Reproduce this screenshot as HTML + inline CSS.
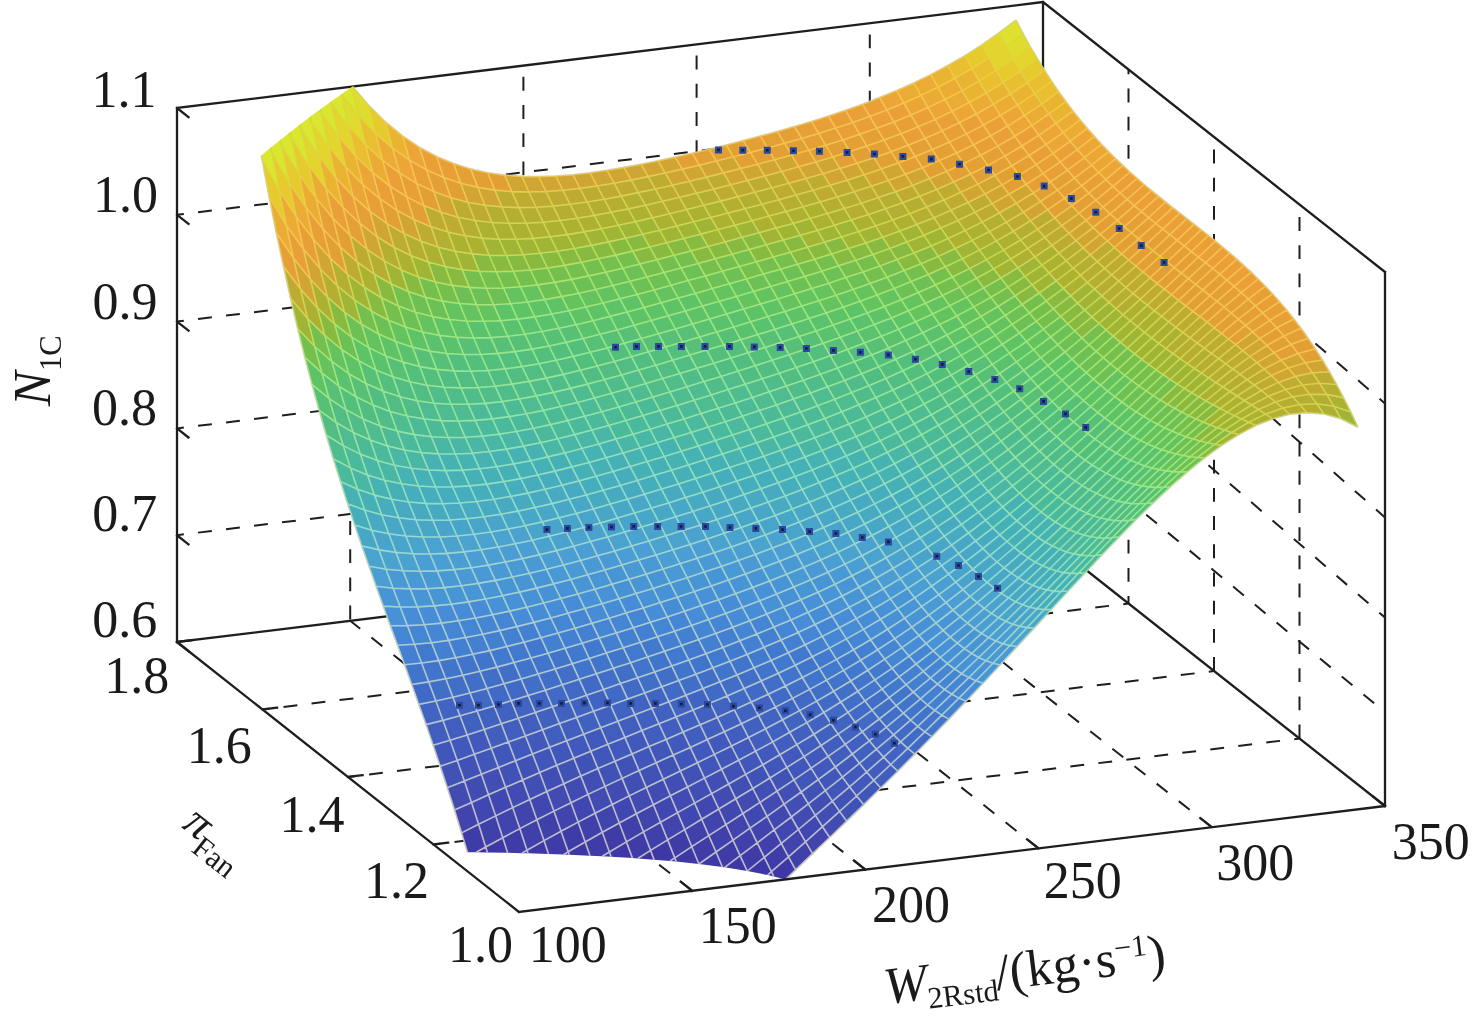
<!DOCTYPE html><html><head><meta charset="utf-8"><style>html,body{margin:0;padding:0;background:#fff;overflow:hidden}svg{display:block}text{font-family:"Liberation Serif",serif;fill:#1a1a1a}</style></head><body>
<svg width="1476" height="1031" viewBox="0 0 1476 1031">
<path fill="none" stroke="#1e1e1e" stroke-width="2" stroke-dasharray="13.9 14.3" stroke-dashoffset="17" d="M350.2 86.8L350.2 620.8M523.4 65.6L523.4 599.6M696.6 44.4L696.6 578.4M869.8 23.2L869.8 557.2"/>
<path fill="none" stroke="#1e1e1e" stroke-width="2" stroke-dasharray="13.9 14.3" stroke-dashoffset="0" d="M692.2 890.8L350.2 620.8M865.4 869.6L523.4 599.6M1038.6 848.4L696.6 578.4M1211.8 827.2L869.8 557.2"/>
<path fill="none" stroke="#1e1e1e" stroke-width="2" stroke-dasharray="13.9 14.3" stroke-dashoffset="0" d="M1299.5 738.5L1299.5 204.5M1214 671L1214 137"/>
<path fill="none" stroke="#1e1e1e" stroke-width="2" stroke-dasharray="13.9 14.3" stroke-dashoffset="6.5" d="M1128.5 603.5L1128.5 69.5"/>
<path fill="none" stroke="#1e1e1e" stroke-width="2" stroke-dasharray="13.9 14.3" stroke-dashoffset="7" d="M433.5 844.5L1299.5 738.5M348 777L1214 671M262.5 709.5L1128.5 603.5"/>
<path fill="none" stroke="#1e1e1e" stroke-width="2" stroke-dasharray="13.9 14.3" stroke-dashoffset="7" d="M177 535.2L1043 429.2M177 428.4L1043 322.4M177 321.6L1043 215.6M177 214.8L1043 108.8"/>
<path fill="none" stroke="#1e1e1e" stroke-width="2" stroke-dasharray="13.9 14.3" stroke-dashoffset="7" d="M1043 429.2L1385 712.3M1043 322.4L1385 617.6M1043 215.6L1385 517.5M1043 108.8L1385 403.5"/>
<path fill="none" stroke="#1e1e1e" stroke-width="2.3" stroke-linecap="square" d="M177 642L177 108M177 108L1043 2M1043 536L1043 2M1043 2L1385 272M1385 272L1385 806M177 642L1043 536M1043 536L1385 806M177 642L188.5 651.1M177 535.2L188.5 544.3M177 428.4L188.5 437.5M177 321.6L188.5 330.7M177 214.8L188.5 223.9M177 108L188.5 117.1"/>
<path fill="#3d34a2" d="M485.7 847 476.3 852.3 487.4 852.4ZM527 850.2 521.9 853.2 528 853.3ZM568.2 851.8 563.6 854.6 569.2 854.8ZM609.4 852 602.3 856.3 611.1 856.8ZM650.6 850.4 637.8 858.5 654.1 859.7ZM674.8 857.9 670.1 861 676.2 861.6ZM771.4 871.7 767.6 875.1 773.8 876.5Z"/>
<path fill="#3f3ca8" d="M485.7 847 478.6 824.3 461.6 832.9 467.4 852.2 476.3 852.3ZM527 850.2 519.8 828.6 502.8 837.7 507.6 852.8 521.9 853.2ZM568.2 851.8 561 831.2 544 840.6 548.5 854 563.6 854.6ZM578.1 822.1 561 831.2 568.2 851.8 585.2 842ZM609.4 852 602.3 832.3 585.2 842 590 855.7 602.3 856.3ZM619.3 823 602.3 832.3 609.4 852 626.4 841.9ZM650.6 850.4 643.5 831.9 626.4 841.9 632.4 858.1 637.8 858.5ZM684.7 829.6 667.6 839.9 674.8 857.9 691.8 846.7ZM716 852 708.8 835.6 691.8 846.7 698.9 864 699 864ZM740.1 855.7 733 840.1 716 852 722.4 867 724.7 867.3ZM764.3 857.3 757.2 842.8 740.1 855.7 747.2 871 747.4 871ZM781.3 843.4 764.3 857.3 771.4 871.7 788.5 856.8Z"/>
<path fill="#4144ad" d="M471.5 802.4 454.5 810 461.6 832.9 478.6 824.3ZM512.7 807.6 495.7 815.9 502.8 837.7 519.8 828.6ZM529.8 799.5 512.7 807.6 519.8 828.6 536.9 819.7ZM571 802.7 553.9 811.1 561 831.2 578.1 822.1ZM612.2 804.5 595.1 813.2 602.3 832.3 619.3 823ZM653.4 804.7 636.3 813.8 643.5 831.9 660.5 822.2ZM677.5 812.6 660.5 822.2 667.6 839.9 684.7 829.6ZM718.8 809 701.7 819.3 708.8 835.6 725.9 824.6ZM742.9 813.5 725.9 824.6 733 840.1 750 828.2ZM767.1 816.3 750 828.2 757.2 842.8 774.2 829.9ZM798.4 829.5 781.3 843.4 788.5 856.8 805.5 841.8ZM822.5 826.7 805.5 841.8 812.6 853.7 829.7 837.5Z"/>
<path fill="#414bb2" d="M464.4 781.1 447.3 787.8 454.5 810 471.5 802.4ZM481.4 774.3 464.4 781.1 471.5 802.4 488.5 794.8ZM522.6 779.9 505.6 787.3 512.7 807.6 529.8 799.5ZM563.8 783.8 546.8 791.6 553.9 811.1 571 802.7ZM580.9 776.1 563.8 783.8 571 802.7 588 794.4ZM605 786.4 588 794.4 595.1 813.2 612.2 804.5ZM622.1 778.4 605 786.4 612.2 804.5 629.2 795.9ZM646.3 787.5 629.2 795.9 636.3 813.8 653.4 804.7ZM663.3 779.2 646.3 787.5 653.4 804.7 670.4 795.8ZM687.5 787 670.4 795.8 677.5 812.6 694.6 803.1ZM728.7 784 711.6 793.6 718.8 809 735.8 798.8ZM752.8 788.5 735.8 798.8 742.9 813.5 760 802.4ZM777 791.2 760 802.4 767.1 816.3 784.1 804.2ZM808.3 803.9 791.3 817 798.4 829.5 815.4 815.4ZM839.6 811.4 822.5 826.7 829.7 837.5 846.7 821.2Z"/>
<path fill="#4152b7" d="M457.2 760.4 440.2 766.3 447.3 787.8 464.4 781.1ZM474.3 754.3 457.2 760.4 464.4 781.1 481.4 774.3ZM515.5 760.7 498.5 767.5 505.6 787.3 522.6 779.9ZM532.5 754 515.5 760.7 522.6 779.9 539.7 772.5ZM573.8 758.2 556.7 765.3 563.8 783.8 580.9 776.1ZM590.8 751.2 573.8 758.2 580.9 776.1 597.9 768.6ZM615 761.2 597.9 768.6 605 786.4 622.1 778.4ZM632 753.9 615 761.2 622.1 778.4 639.1 770.6ZM656.2 762.8 639.1 770.6 646.3 787.5 663.3 779.2ZM673.2 755.1 656.2 762.8 663.3 779.2 680.3 771ZM697.4 762.7 680.3 771 687.5 787 704.5 778.1ZM738.6 760.2 721.5 769.2 728.7 784 745.7 774.4ZM762.8 764.7 745.7 774.4 752.8 788.5 769.9 778ZM786.9 767.4 769.9 778 777 791.2 794 779.8ZM818.2 779.6 801.2 792 808.3 803.9 825.3 790.6ZM856.6 796 839.6 811.4 846.7 821.2 863.8 804.7ZM849.5 786.8 832.5 801.2 839.6 811.4 856.6 796Z"/>
<path fill="#4156ba" d="M450.1 740.2 433.1 745.2 440.2 766.3 457.2 760.4ZM491.3 748.2 474.3 754.3 481.4 774.3 498.5 767.5ZM508.4 742.1 491.3 748.2 498.5 767.5 515.5 760.7ZM549.6 747.3 532.5 754 539.7 772.5 556.7 765.3ZM566.6 740.7 549.6 747.3 556.7 765.3 573.8 758.2ZM607.8 744.3 590.8 751.2 597.9 768.6 615 761.2ZM649 746.6 632 753.9 639.1 770.6 656.2 762.8ZM666.1 739.4 649 746.6 656.2 762.8 673.2 755.1ZM690.3 747.4 673.2 755.1 680.3 771 697.4 762.7ZM714.4 754.4 697.4 762.7 704.5 778.1 721.5 769.2ZM731.5 746 714.4 754.4 721.5 769.2 738.6 760.2ZM755.6 751.1 738.6 760.2 745.7 774.4 762.8 764.7ZM779.8 754.7 762.8 764.7 769.9 778 786.9 767.4ZM811.1 768.2 794 779.8 801.2 792 818.2 779.6ZM804 756.6 786.9 767.4 794 779.8 811.1 768.2ZM842.4 777.1 825.3 790.6 832.5 801.2 849.5 786.8ZM835.3 767 818.2 779.6 825.3 790.6 842.4 777.1ZM873.7 780.3 856.6 796 863.8 804.7 880.8 788Z"/>
<path fill="#415dbe" d="M443 720.4 426 724.6 433.1 745.2 450.1 740.2ZM460 715.8 443 720.4 450.1 740.2 467.2 734.9ZM501.3 723.8 484.2 729.4 491.3 748.2 508.4 742.1ZM518.3 718.2 501.3 723.8 508.4 742.1 525.4 735.9ZM535.3 712.5 518.3 718.2 525.4 735.9 542.5 729.7ZM559.5 723.6 542.5 729.7 549.6 747.3 566.6 740.7ZM576.5 717.4 559.5 723.6 566.6 740.7 583.7 734.2ZM617.8 721.2 600.7 727.7 607.8 744.3 624.9 737.4ZM634.8 714.7 617.8 721.2 624.9 737.4 641.9 730.6ZM659 723.8 641.9 730.6 649 746.6 666.1 739.4ZM676 716.9 659 723.8 666.1 739.4 683.1 732.1ZM700.2 724.8 683.1 732.1 690.3 747.4 707.3 739.6ZM717.2 717.4 700.2 724.8 707.3 739.6 724.3 731.7ZM741.4 723.7 724.3 731.7 731.5 746 748.5 737.5ZM765.5 728.8 748.5 737.5 755.6 751.1 772.7 741.9ZM789.7 732.3 772.7 741.9 779.8 754.7 796.8 744.6ZM813.9 734.2 796.8 744.6 804 756.6 821 745.5ZM845.2 744.3 828.1 756.4 835.3 767 852.3 754ZM838.1 734.1 821 745.5 828.1 756.4 845.2 744.3ZM890.7 764.5 873.7 780.3 880.8 788 897.8 771.2ZM883.6 757.1 866.6 772.1 873.7 780.3 890.7 764.5ZM876.5 749.2 859.4 763.3 866.6 772.1 883.6 757.1Z"/>
<path fill="#4164c3" d="M435.9 701 418.8 704.4 426 724.6 443 720.4ZM452.9 697.2 435.9 701 443 720.4 460 715.8ZM470 693 452.9 697.2 460 715.8 477.1 711ZM528.2 695.6 511.2 700.8 518.3 718.2 535.3 712.5ZM545.3 690.2 528.2 695.6 535.3 712.5 552.4 706.7ZM586.5 695.2 569.4 701 576.5 717.4 593.6 711.3ZM603.5 689.4 586.5 695.2 593.6 711.3 610.6 705.2ZM627.7 699.1 610.6 705.2 617.8 721.2 634.8 714.7ZM644.7 693 627.7 699.1 634.8 714.7 651.8 708.3ZM661.8 686.8 644.7 693 651.8 708.3 668.9 701.8ZM685.9 695.3 668.9 701.8 676 716.9 693 710ZM703 688.6 685.9 695.3 693 710 710.1 703ZM727.1 695.9 710.1 703 717.2 717.4 734.3 709.8ZM751.3 702.1 734.3 709.8 741.4 723.7 758.4 715.5ZM775.5 707.1 758.4 715.5 765.5 728.8 782.6 719.8ZM768.3 694.2 751.3 702.1 758.4 715.5 775.5 707.1ZM799.6 710.6 782.6 719.8 789.7 732.3 806.8 722.6ZM792.5 698.4 775.5 707.1 782.6 719.8 799.6 710.6ZM823.8 712.5 806.8 722.6 813.9 734.2 830.9 723.5ZM816.7 701.1 799.6 710.6 806.8 722.6 823.8 712.5ZM855.1 722.3 838.1 734.1 845.2 744.3 862.2 731.8ZM848 712.4 830.9 723.5 838.1 734.1 855.1 722.3ZM907.8 748.3 890.7 764.5 897.8 771.2 914.9 754.1ZM900.6 741.9 883.6 757.1 890.7 764.5 907.8 748.3ZM893.5 734.8 876.5 749.2 883.6 757.1 900.6 741.9ZM886.4 727.2 869.3 740.8 876.5 749.2 893.5 734.8ZM879.3 719 862.2 731.8 869.3 740.8 886.4 727.2Z"/>
<path fill="#416ac6" d="M428.7 681.9 411.7 684.5 418.8 704.4 435.9 701ZM487 688.5 470 693 477.1 711 494.1 706ZM504 683.8 487 688.5 494.1 706 511.2 700.8ZM521.1 679 504 683.8 511.2 700.8 528.2 695.6ZM562.3 684.8 545.3 690.2 552.4 706.7 569.4 701ZM579.3 679.3 562.3 684.8 569.4 701 586.5 695.2ZM596.4 673.8 579.3 679.3 586.5 695.2 603.5 689.4ZM620.5 683.6 603.5 689.4 610.6 705.2 627.7 699.1ZM637.6 677.8 620.5 683.6 627.7 699.1 644.7 693ZM678.8 680.6 661.8 686.8 668.9 701.8 685.9 695.3ZM720 681.8 703 688.6 710.1 703 727.1 695.9ZM744.2 688.6 727.1 695.9 734.3 709.8 751.3 702.1ZM761.2 681 744.2 688.6 751.3 702.1 768.3 694.2ZM785.4 686 768.3 694.2 775.5 707.1 792.5 698.4ZM809.6 689.4 792.5 698.4 799.6 710.6 816.7 701.1ZM840.8 702 823.8 712.5 830.9 723.5 848 712.4ZM833.7 691.2 816.7 701.1 823.8 712.5 840.8 702ZM872.1 710.2 855.1 722.3 862.2 731.8 879.3 719ZM865 700.9 848 712.4 855.1 722.3 872.1 710.2ZM924.8 731.9 907.8 748.3 914.9 754.1 931.9 736.7ZM917.7 726.3 900.6 741.9 907.8 748.3 924.8 731.9ZM910.6 720.1 893.5 734.8 900.6 741.9 917.7 726.3Z"/>
<path fill="#4174cb" d="M421.6 663 404.6 664.8 411.7 684.5 428.7 681.9ZM438.7 660.6 421.6 663 428.7 681.9 445.8 678.8ZM455.7 657.7 438.7 660.6 445.8 678.8 462.8 675.2ZM472.8 654.3 455.7 657.7 462.8 675.2 479.9 671.3ZM489.8 650.6 472.8 654.3 479.9 671.3 496.9 667.1ZM531 658 514 662.6 521.1 679 538.1 674ZM548 653.2 531 658 538.1 674 555.2 668.9ZM565.1 648.3 548 653.2 555.2 668.9 572.2 663.7ZM589.3 658.5 572.2 663.7 579.3 679.3 596.4 673.8ZM606.3 653.1 589.3 658.5 596.4 673.8 613.4 668.3ZM623.3 647.8 606.3 653.1 613.4 668.3 630.5 662.7ZM647.5 657 630.5 662.7 637.6 677.8 654.6 671.9ZM664.5 651.3 647.5 657 654.6 671.9 671.7 665.9ZM688.7 659.9 671.7 665.9 678.8 680.6 695.8 674.2ZM705.8 653.7 688.7 659.9 695.8 674.2 712.9 667.8ZM729.9 661.2 712.9 667.8 720 681.8 737 674.9ZM747 654.4 729.9 661.2 737 674.9 754.1 667.8ZM771.1 660.4 754.1 667.8 761.2 681 778.3 673.3ZM795.3 665.2 778.3 673.3 785.4 686 802.4 677.5ZM819.5 668.6 802.4 677.5 809.6 689.4 826.6 680.1ZM812.3 656.8 795.3 665.2 802.4 677.5 819.5 668.6ZM843.6 670.4 826.6 680.1 833.7 691.2 850.8 681ZM874.9 679.9 857.9 691.2 865 700.9 882.1 689.1ZM867.8 670.3 850.8 681 857.9 691.2 874.9 679.9ZM941.8 715.1 924.8 731.9 931.9 736.7 949 719.1ZM934.7 710.4 917.7 726.3 924.8 731.9 941.8 715.1ZM927.6 705 910.6 720.1 917.7 726.3 934.7 710.4ZM920.5 698.9 903.4 713.2 910.6 720.1 927.6 705ZM913.3 692.1 896.3 705.7 903.4 713.2 920.5 698.9ZM906.2 684.7 889.2 697.7 896.3 705.7 913.3 692.1Z"/>
<path fill="#4380d1" d="M414.5 644.3 397.5 645.2 404.6 664.8 421.6 663ZM448.6 640.4 431.5 642.7 438.7 660.6 455.7 657.7ZM465.6 637.5 448.6 640.4 455.7 657.7 472.8 654.3ZM482.7 634.2 465.6 637.5 472.8 654.3 489.8 650.6ZM499.7 630.6 482.7 634.2 489.8 650.6 506.8 646.5ZM516.8 626.6 499.7 630.6 506.8 646.5 523.9 642.2ZM533.8 622.4 516.8 626.6 523.9 642.2 540.9 637.7ZM558 633 540.9 637.7 548 653.2 565.1 648.3ZM575 628.2 558 633 565.1 648.3 582.1 643.2ZM592 623.3 575 628.2 582.1 643.2 599.2 638.1ZM616.2 632.9 599.2 638.1 606.3 653.1 623.3 647.8ZM633.3 627.7 616.2 632.9 623.3 647.8 640.4 642.3ZM650.3 622.3 633.3 627.7 640.4 642.3 657.4 636.8ZM674.5 631.2 657.4 636.8 664.5 651.3 681.6 645.5ZM691.5 625.4 674.5 631.2 681.6 645.5 698.6 639.6ZM715.7 633.5 698.6 639.6 705.8 653.7 722.8 647.4ZM732.7 627.2 715.7 633.5 722.8 647.4 739.8 640.8ZM756.9 634.1 739.8 640.8 747 654.4 764 647.3ZM773.9 627.1 756.9 634.1 764 647.3 781.1 640ZM798.1 632.4 781.1 640 788.2 652.7 805.2 644.8ZM822.3 636.4 805.2 644.8 812.3 656.8 829.4 648.1ZM846.4 638.9 829.4 648.1 836.5 659.4 853.6 649.8ZM877.7 649.7 860.7 660.3 867.8 670.3 884.8 659.2ZM870.6 639.7 853.6 649.8 860.7 660.3 877.7 649.7ZM958.9 698.1 941.8 715.1 949 719.1 966 701.3ZM951.8 694.2 934.7 710.4 941.8 715.1 958.9 698.1ZM944.6 689.5 927.6 705 934.7 710.4 951.8 694.2ZM937.5 684.1 920.5 698.9 927.6 705 944.6 689.5ZM930.4 678.1 913.3 692.1 920.5 698.9 937.5 684.1ZM923.3 671.3 906.2 684.7 913.3 692.1 930.4 678.1ZM916.1 664 899.1 676.8 906.2 684.7 923.3 671.3ZM909 656.1 892 668.3 899.1 676.8 916.1 664Z"/>
<path fill="#4486d4" d="M407.4 625.6 390.3 625.7 397.5 645.2 414.5 644.3ZM424.4 624.7 407.4 625.6 414.5 644.3 431.5 642.7ZM441.5 623.1 424.4 624.7 431.5 642.7 448.6 640.4ZM458.5 620.8 441.5 623.1 448.6 640.4 465.6 637.5ZM475.5 618 458.5 620.8 465.6 637.5 482.7 634.2ZM492.6 614.8 475.5 618 482.7 634.2 499.7 630.6ZM509.6 611.1 492.6 614.8 499.7 630.6 516.8 626.6ZM550.8 617.9 533.8 622.4 540.9 637.7 558 633ZM567.9 613.3 550.8 617.9 558 633 575 628.2ZM584.9 608.6 567.9 613.3 575 628.2 592 623.3ZM609.1 618.3 592 623.3 599.2 638.1 616.2 632.9ZM626.1 613.1 609.1 618.3 616.2 632.9 633.3 627.7ZM643.2 607.9 626.1 613.1 633.3 627.7 650.3 622.3ZM667.3 616.9 650.3 622.3 657.4 636.8 674.5 631.2ZM684.4 611.3 667.3 616.9 674.5 631.2 691.5 625.4ZM708.5 619.6 691.5 625.4 698.6 639.6 715.7 633.5ZM725.6 613.5 708.5 619.6 715.7 633.5 732.7 627.2ZM749.8 620.8 732.7 627.2 739.8 640.8 756.9 634.1ZM766.8 614.1 749.8 620.8 756.9 634.1 773.9 627.1ZM791 619.9 773.9 627.1 781.1 640 798.1 632.4ZM815.1 624.5 798.1 632.4 805.2 644.8 822.3 636.4ZM839.3 627.7 822.3 636.4 829.4 648.1 846.4 638.9ZM832.2 616.2 815.1 624.5 822.3 636.4 839.3 627.7ZM863.5 629.4 846.4 638.9 853.6 649.8 870.6 639.7ZM901.9 647.7 884.8 659.2 892 668.3 909 656.1ZM894.8 638.7 877.7 649.7 884.8 659.2 901.9 647.7ZM887.6 629.2 870.6 639.7 877.7 649.7 894.8 638.7ZM968.8 677.6 951.8 694.2 958.9 698.1 975.9 680.8ZM961.7 673.7 944.6 689.5 951.8 694.2 968.8 677.6ZM954.6 669 937.5 684.1 944.6 689.5 961.7 673.7ZM947.4 663.6 930.4 678.1 937.5 684.1 954.6 669ZM940.3 657.5 923.3 671.3 930.4 678.1 947.4 663.6ZM933.2 650.8 916.1 664 923.3 671.3 940.3 657.5ZM926.1 643.5 909 656.1 916.1 664 933.2 650.8Z"/>
<path fill="#4791d6" d="M400.2 607 383.2 606.1 390.3 625.7 407.4 625.6ZM502.5 595.7 485.5 599 492.6 614.8 509.6 611.1ZM519.5 592.1 502.5 595.7 509.6 611.1 526.7 607.2ZM536.6 588.1 519.5 592.1 526.7 607.2 543.7 603ZM553.6 583.9 536.6 588.1 543.7 603 560.8 598.5ZM570.7 579.4 553.6 583.9 560.8 598.5 577.8 593.9ZM594.8 589.2 577.8 593.9 584.9 608.6 602 603.7ZM611.9 584.3 594.8 589.2 602 603.7 619 598.7ZM628.9 579.3 611.9 584.3 619 598.7 636 593.6ZM653.1 588.4 636 593.6 643.2 607.9 660.2 602.6ZM670.1 583.1 653.1 588.4 660.2 602.6 677.3 597.2ZM694.3 591.6 677.3 597.2 684.4 611.3 701.4 605.6ZM711.3 586 694.3 591.6 701.4 605.6 718.5 599.8ZM728.4 580.1 711.3 586 718.5 599.8 735.5 593.7ZM752.6 587.5 735.5 593.7 742.6 607.3 759.7 600.8ZM776.7 594.1 759.7 600.8 766.8 614.1 783.8 607.1ZM769.6 581 752.6 587.5 759.7 600.8 776.7 594.1ZM793.8 587.1 776.7 594.1 783.8 607.1 800.9 599.8ZM817.9 592.2 800.9 599.8 808 612.3 825.1 604.3ZM842.1 596 825.1 604.3 832.2 616.2 849.2 607.4ZM866.3 598.3 849.2 607.4 856.3 618.6 873.4 609ZM897.6 608.8 880.5 619.3 887.6 629.2 904.7 618.2ZM890.4 598.9 873.4 609 880.5 619.3 897.6 608.8ZM985.8 660.8 968.8 677.6 975.9 680.8 993 663.3ZM978.7 657.5 961.7 673.7 968.8 677.6 985.8 660.8ZM971.6 653.5 954.6 669 961.7 673.7 978.7 657.5ZM964.5 648.7 947.4 663.6 954.6 669 971.6 653.5ZM957.3 643.2 940.3 657.5 947.4 663.6 964.5 648.7ZM950.2 637.1 933.2 650.8 940.3 657.5 957.3 643.2ZM943.1 630.4 926.1 643.5 933.2 650.8 950.2 637.1ZM936 623 918.9 635.6 926.1 643.5 943.1 630.4ZM928.8 615.1 911.8 627.2 918.9 635.6 936 623Z"/>
<path fill="#4895d5" d="M393.1 588.2 376.1 586.3 383.2 606.1 400.2 607ZM410.2 588.9 393.1 588.2 400.2 607 417.3 606.9ZM427.2 588.7 410.2 588.9 417.3 606.9 434.3 605.9ZM444.3 587.6 427.2 588.7 434.3 605.9 451.4 604.2ZM461.3 585.8 444.3 587.6 451.4 604.2 468.4 601.9ZM478.3 583.4 461.3 585.8 468.4 601.9 485.5 599ZM495.4 580.4 478.3 583.4 485.5 599 502.5 595.7ZM512.4 577 495.4 580.4 502.5 595.7 519.5 592.1ZM529.5 573.3 512.4 577 519.5 592.1 536.6 588.1ZM546.5 569.3 529.5 573.3 536.6 588.1 553.6 583.9ZM587.7 574.8 570.7 579.4 577.8 593.9 594.8 589.2ZM604.8 570 587.7 574.8 594.8 589.2 611.9 584.3ZM621.8 565.1 604.8 570 611.9 584.3 628.9 579.3ZM646 574.2 628.9 579.3 636 593.6 653.1 588.4ZM663 569 646 574.2 653.1 588.4 670.1 583.1ZM687.2 577.7 670.1 583.1 677.3 597.2 694.3 591.6ZM704.2 572.1 687.2 577.7 694.3 591.6 711.3 586ZM721.3 566.4 704.2 572.1 711.3 586 728.4 580.1ZM745.4 574.1 728.4 580.1 735.5 593.7 752.6 587.5ZM762.5 567.8 745.4 574.1 752.6 587.5 769.6 581ZM786.6 574.3 769.6 581 776.7 594.1 793.8 587.1ZM810.8 579.8 793.8 587.1 800.9 599.8 817.9 592.2ZM835 584.2 817.9 592.2 825.1 604.3 842.1 596ZM827.8 572.2 810.8 579.8 817.9 592.2 835 584.2ZM859.1 587.2 842.1 596 849.2 607.4 866.3 598.3ZM852 575.8 835 584.2 842.1 596 859.1 587.2ZM883.3 588.7 866.3 598.3 873.4 609 890.4 598.9ZM993 663.3 975.9 680.8 983.1 683.2 1000.1 665ZM921.7 606.7 904.7 618.2 911.8 627.2 928.8 615.1ZM914.6 597.8 897.6 608.8 904.7 618.2 921.7 606.7ZM907.5 588.4 890.4 598.9 897.6 608.8 914.6 597.8ZM988.6 637.6 971.6 653.5 978.7 657.5 995.8 641ZM981.5 633.4 964.5 648.7 971.6 653.5 988.6 637.6ZM974.4 628.5 957.3 643.2 964.5 648.7 981.5 633.4ZM967.3 623 950.2 637.1 957.3 643.2 974.4 628.5ZM960.1 616.8 943.1 630.4 950.2 637.1 967.3 623ZM953 610 936 623 943.1 630.4 960.1 616.8Z"/>
<path fill="#4a9ed3" d="M386 569.2 369 566.3 376.1 586.3 393.1 588.2ZM430 554 413 553.8 420.1 571.3 437.1 570.9ZM447 553.4 430 554 437.1 570.9 454.2 569.6ZM464.1 551.9 447 553.4 454.2 569.6 471.2 567.7ZM481.1 549.8 464.1 551.9 471.2 567.7 488.3 565.1ZM498.2 547 481.1 549.8 488.3 565.1 505.3 562ZM515.2 543.8 498.2 547 505.3 562 522.3 558.6ZM532.3 540.2 515.2 543.8 522.3 558.6 539.4 554.7ZM556.4 550.6 539.4 554.7 546.5 569.3 563.5 565ZM573.5 546.2 556.4 550.6 563.5 565 580.6 560.5ZM590.5 541.6 573.5 546.2 580.6 560.5 597.6 555.8ZM607.5 536.9 590.5 541.6 597.6 555.8 614.7 551ZM631.7 546.1 614.7 551 621.8 565.1 638.8 560.1ZM648.8 541 631.7 546.1 638.8 560.1 655.9 555ZM672.9 549.8 655.9 555 663 569 680 563.7ZM690 544.4 672.9 549.8 680 563.7 697.1 558.3ZM707 538.9 690 544.4 697.1 558.3 714.1 552.7ZM731.2 546.9 714.1 552.7 721.3 566.4 738.3 560.5ZM748.2 541 731.2 546.9 738.3 560.5 755.3 554.4ZM772.4 548.1 755.3 554.4 762.5 567.8 779.5 561.3ZM789.4 541.6 772.4 548.1 779.5 561.3 796.6 554.5ZM813.6 547.4 796.6 554.5 803.7 567.3 820.7 559.9ZM837.8 552.2 820.7 559.9 827.8 572.2 844.9 564.1ZM861.9 555.7 844.9 564.1 852 575.8 869.1 567ZM893.2 568.3 876.2 578 883.3 588.7 900.3 578.6ZM886.1 557.7 869.1 567 876.2 578 893.2 568.3ZM924.5 577.3 907.5 588.4 914.6 597.8 931.6 586.2ZM917.4 567.9 900.3 578.6 907.5 588.4 924.5 577.3ZM910.3 558.1 893.2 568.3 900.3 578.6 917.4 567.9ZM1012.8 624.2 995.8 641 1002.9 643.7 1019.9 626.3ZM1005.7 621.3 988.6 637.6 995.8 641 1012.8 624.2ZM998.6 617.7 981.5 633.4 988.6 637.6 1005.7 621.3ZM991.4 613.4 974.4 628.5 981.5 633.4 998.6 617.7ZM984.3 608.4 967.3 623 974.4 628.5 991.4 613.4ZM977.2 602.7 960.1 616.8 967.3 623 984.3 608.4ZM970.1 596.5 953 610 960.1 616.8 977.2 602.7ZM962.9 589.6 945.9 602.6 953 610 970.1 596.5ZM955.8 582.2 938.8 594.7 945.9 602.6 962.9 589.6ZM948.7 574.2 931.6 586.2 938.8 594.7 955.8 582.2Z"/>
<path fill="#4aa2cf" d="M378.9 549.9 361.8 545.9 369 566.3 386 569.2ZM395.9 552.4 378.9 549.9 386 569.2 403 570.8ZM413 553.8 395.9 552.4 403 570.8 420.1 571.3ZM439.9 537 422.9 537 430 554 447 553.4ZM457 536 439.9 537 447 553.4 464.1 551.9ZM474 534.3 457 536 464.1 551.9 481.1 549.8ZM491 532 474 534.3 481.1 549.8 498.2 547ZM508.1 529 491 532 498.2 547 515.2 543.8ZM525.1 525.7 508.1 529 515.2 543.8 532.3 540.2ZM549.3 536.2 532.3 540.2 539.4 554.7 556.4 550.6ZM566.3 532 549.3 536.2 556.4 550.6 573.5 546.2ZM583.4 527.5 566.3 532 573.5 546.2 590.5 541.6ZM600.4 522.9 583.4 527.5 590.5 541.6 607.5 536.9ZM624.6 532 607.5 536.9 614.7 551 631.7 546.1ZM641.6 527 624.6 532 631.7 546.1 648.8 541ZM665.8 535.8 648.8 541 655.9 555 672.9 549.8ZM682.8 530.6 665.8 535.8 672.9 549.8 690 544.4ZM699.9 525.2 682.8 530.6 690 544.4 707 538.9ZM724.1 533.3 707 538.9 714.1 552.7 731.2 546.9ZM741.1 527.5 724.1 533.3 731.2 546.9 748.2 541ZM765.3 534.9 748.2 541 755.3 554.4 772.4 548.1ZM782.3 528.5 765.3 534.9 772.4 548.1 789.4 541.6ZM806.5 534.7 789.4 541.6 796.6 554.5 813.6 547.4ZM830.6 540 813.6 547.4 820.7 559.9 837.8 552.2ZM854.8 544 837.8 552.2 844.9 564.1 861.9 555.7ZM847.7 532.2 830.6 540 837.8 552.2 854.8 544ZM879 546.8 861.9 555.7 869.1 567 886.1 557.7ZM871.8 535.5 854.8 544 861.9 555.7 879 546.8ZM903.1 547.9 886.1 557.7 893.2 568.3 910.3 558.1ZM1027.1 627.6 1010 645.5 1017.1 646.6 1034.2 628.1ZM1019.9 626.3 1002.9 643.7 1010 645.5 1027.1 627.6ZM941.6 565.7 924.5 577.3 931.6 586.2 948.7 574.2ZM934.4 556.8 917.4 567.9 924.5 577.3 941.6 565.7ZM1008.5 597.9 991.4 613.4 998.6 617.7 1015.6 601.7ZM1001.3 593.4 984.3 608.4 991.4 613.4 1008.5 597.9ZM994.2 588.2 977.2 602.7 984.3 608.4 1001.3 593.4ZM987.1 582.4 970.1 596.5 977.2 602.7 994.2 588.2ZM980 576 962.9 589.6 970.1 596.5 987.1 582.4ZM972.8 569.1 955.8 582.2 962.9 589.6 980 576Z"/>
<path fill="#48a7c6" d="M371.7 530.2 354.7 525.1 361.8 545.9 378.9 549.9ZM398.7 517.8 381.7 514.7 388.8 533.8 405.8 536ZM415.8 519.7 398.7 517.8 405.8 536 422.9 537ZM432.8 520.3 415.8 519.7 422.9 537 439.9 537ZM518 511.1 501 514.2 508.1 529 525.1 525.7ZM535 507.5 518 511.1 525.1 525.7 542.2 521.9ZM552.1 503.6 535 507.5 542.2 521.9 559.2 517.8ZM569.1 499.3 552.1 503.6 559.2 517.8 576.3 513.4ZM586.2 494.9 569.1 499.3 576.3 513.4 593.3 508.9ZM610.3 504.1 593.3 508.9 600.4 522.9 617.5 518.1ZM627.4 499.2 610.3 504.1 617.5 518.1 634.5 513.1ZM651.5 508.1 634.5 513.1 641.6 527 658.7 521.9ZM644.4 494.2 627.4 499.2 634.5 513.1 651.5 508.1ZM668.6 502.9 651.5 508.1 658.7 521.9 675.7 516.7ZM685.6 497.6 668.6 502.9 675.7 516.7 692.8 511.4ZM709.8 505.9 692.8 511.4 699.9 525.2 716.9 519.6ZM726.8 500.4 709.8 505.9 716.9 519.6 734 514ZM751 508.1 734 514 741.1 527.5 758.1 521.5ZM768.1 502.1 751 508.1 758.1 521.5 775.2 515.4ZM792.2 508.9 775.2 515.4 782.3 528.5 799.3 521.9ZM809.3 502.2 792.2 508.9 799.3 521.9 816.4 515ZM833.4 507.8 816.4 515 823.5 527.6 840.6 520.1ZM857.6 512.2 840.6 520.1 847.7 532.2 864.7 524ZM881.8 515.3 864.7 524 871.8 535.5 888.9 526.5ZM913.1 527.5 896 537.4 903.1 547.9 920.2 537.7ZM905.9 517.1 888.9 526.5 896 537.4 913.1 527.5ZM1044.1 609.6 1027.1 627.6 1034.2 628.1 1051.2 609.5ZM1037 608.8 1019.9 626.3 1027.1 627.6 1044.1 609.6ZM944.3 536.2 927.3 547.5 934.4 556.8 951.5 545.1ZM937.2 526.9 920.2 537.7 927.3 547.5 944.3 536.2ZM1032.6 585.3 1015.6 601.7 1022.7 604.8 1039.8 588ZM1025.5 582 1008.5 597.9 1015.6 601.7 1032.6 585.3ZM1018.4 577.9 1001.3 593.4 1008.5 597.9 1025.5 582ZM1011.3 573.2 994.2 588.2 1001.3 593.4 1018.4 577.9ZM1004.1 567.9 987.1 582.4 994.2 588.2 1011.3 573.2ZM997 562 980 576 987.1 582.4 1004.1 567.9ZM989.9 555.5 972.8 569.1 980 576 997 562ZM982.8 548.5 965.7 561.6 972.8 569.1 989.9 555.5ZM975.6 541 958.6 553.6 965.7 561.6 982.8 548.5ZM968.5 533 951.5 545.1 958.6 553.6 975.6 541Z"/>
<path fill="#46adbc" d="M364.6 510 347.6 503.7 354.7 525.1 371.7 530.2ZM391.6 499.3 374.5 495.1 381.7 514.7 398.7 517.8ZM418.5 486 401.5 483.8 408.6 502 425.7 503.4ZM435.6 487 418.5 486 425.7 503.4 442.7 503.7ZM452.6 486.9 435.6 487 442.7 503.7 459.8 503ZM469.7 485.9 452.6 486.9 459.8 503 476.8 501.5ZM486.7 484.1 469.7 485.9 476.8 501.5 493.8 499.2ZM503.8 481.6 486.7 484.1 493.8 499.2 510.9 496.4ZM520.8 478.6 503.8 481.6 510.9 496.4 527.9 493.1ZM537.8 475 520.8 478.6 527.9 493.1 545 489.3ZM554.9 471.1 537.8 475 545 489.3 562 485.2ZM571.9 466.9 554.9 471.1 562 485.2 579 480.9ZM596.1 476.3 579 480.9 586.2 494.9 603.2 490.2ZM613.1 471.5 596.1 476.3 603.2 490.2 620.3 485.4ZM630.2 466.6 613.1 471.5 620.3 485.4 637.3 480.4ZM654.3 475.3 637.3 480.4 644.4 494.2 661.5 489.1ZM671.4 470.2 654.3 475.3 661.5 489.1 678.5 483.9ZM695.6 478.6 678.5 483.9 685.6 497.6 702.7 492.2ZM712.6 473.1 695.6 478.6 702.7 492.2 719.7 486.8ZM729.6 467.6 712.6 473.1 719.7 486.8 736.8 481.1ZM753.8 475.4 736.8 481.1 743.9 494.6 760.9 488.8ZM770.8 469.4 753.8 475.4 760.9 488.8 778 482.7ZM795 476.4 778 482.7 785.1 495.9 802.1 489.4ZM819.2 482.6 802.1 489.4 809.3 502.2 826.3 495.3ZM836.2 475.6 819.2 482.6 826.3 495.3 843.3 488ZM860.4 480.3 843.3 488 850.5 500.2 867.5 492.2ZM884.6 483.8 867.5 492.2 874.6 503.9 891.7 495.2ZM915.8 496.7 898.8 506.3 905.9 517.1 923 507.1ZM908.7 486 891.7 495.2 898.8 506.3 915.8 496.7ZM1061.1 591.5 1044.1 609.6 1051.2 609.5 1068.3 591ZM1054 591.1 1037 608.8 1044.1 609.6 1061.1 591.5ZM947.1 506.3 930.1 517.2 937.2 526.9 954.3 515.6ZM940 496.6 923 507.1 930.1 517.2 947.1 506.3ZM1056.8 571 1039.8 588 1046.9 589.9 1063.9 572.6ZM1049.7 568.7 1032.6 585.3 1039.8 588 1056.8 571ZM1042.6 565.8 1025.5 582 1032.6 585.3 1049.7 568.7ZM985.6 520.2 968.5 533 975.6 541 992.7 527.8ZM978.4 512.2 961.4 524.5 968.5 533 985.6 520.2ZM971.3 503.7 954.3 515.6 961.4 524.5 978.4 512.2Z"/>
<path fill="#46b2b1" d="M357.5 489.3 340.5 481.6 347.6 503.7 364.6 510ZM384.5 480.2 367.4 474.9 374.5 495.1 391.6 499.3ZM411.4 468.3 394.4 465.2 401.5 483.8 418.5 486ZM438.4 453.9 421.3 452.6 428.5 470 445.5 470.6ZM455.4 454 438.4 453.9 445.5 470.6 462.5 470.1ZM472.5 453.2 455.4 454 462.5 470.1 479.6 468.8ZM489.5 451.5 472.5 453.2 479.6 468.8 496.6 466.7ZM506.5 449.1 489.5 451.5 496.6 466.7 513.7 463.9ZM523.6 446.1 506.5 449.1 513.7 463.9 530.7 460.7ZM540.6 442.7 523.6 446.1 530.7 460.7 547.8 456.9ZM581.8 448.5 564.8 452.9 571.9 466.9 589 462.4ZM598.9 443.9 581.8 448.5 589 462.4 606 457.7ZM615.9 439.1 598.9 443.9 606 457.7 623 452.9ZM640.1 447.9 623 452.9 630.2 466.6 647.2 461.6ZM657.1 442.8 640.1 447.9 647.2 461.6 664.3 456.5ZM681.3 451.3 664.3 456.5 671.4 470.2 688.4 464.9ZM674.2 437.6 657.1 442.8 664.3 456.5 681.3 451.3ZM698.3 446 681.3 451.3 688.4 464.9 705.5 459.5ZM715.4 440.6 698.3 446 705.5 459.5 722.5 454.1ZM739.6 448.5 722.5 454.1 729.6 467.6 746.7 462ZM756.6 442.8 739.6 448.5 746.7 462 763.7 456.2ZM780.8 450.2 763.7 456.2 770.8 469.4 787.9 463.3ZM797.8 444 780.8 450.2 787.9 463.3 804.9 457ZM822 450.4 804.9 457 812.1 469.9 829.1 463ZM846.1 455.9 829.1 463 836.2 475.6 853.3 468.2ZM839 443.5 822 450.4 829.1 463 846.1 455.9ZM870.3 460.5 853.3 468.2 860.4 480.3 877.4 472.2ZM863.2 448.5 846.1 455.9 853.3 468.2 870.3 460.5ZM894.5 463.8 877.4 472.2 884.6 483.8 901.6 475ZM887.3 452.3 870.3 460.5 877.4 472.2 894.5 463.8ZM918.6 465.7 901.6 475 908.7 486 925.8 476.3ZM911.5 454.9 894.5 463.8 901.6 475 918.6 465.7ZM1078.2 573.4 1061.1 591.5 1068.3 591 1085.3 572.7ZM949.9 476.1 932.9 486.6 940 496.6 957.1 485.6ZM942.8 466.2 925.8 476.3 932.9 486.6 949.9 476.1ZM1073.8 553.9 1056.8 571 1063.9 572.6 1081 555.1ZM1066.7 551.9 1049.7 568.7 1056.8 571 1073.8 553.9ZM988.3 491.4 971.3 503.7 978.4 512.2 995.5 499.4ZM981.2 482.9 964.2 494.9 971.3 503.7 988.3 491.4ZM974.1 474.1 957.1 485.6 964.2 494.9 981.2 482.9ZM1055.3 522 1038.2 537.7 1045.3 542.2 1062.4 526.1ZM1048.1 517.2 1031.1 532.6 1038.2 537.7 1055.3 522ZM1041 512 1024 526.9 1031.1 532.6 1048.1 517.2ZM1033.9 506.2 1016.8 520.8 1024 526.9 1041 512ZM1026.8 500 1009.7 514.1 1016.8 520.8 1033.9 506.2ZM1019.6 493.2 1002.6 507 1009.7 514.1 1026.8 500Z"/>
<path fill="#4bb99c" d="M350.4 467.9 333.3 458.8 340.5 481.6 357.5 489.3ZM360.3 454.1 343.2 445.6 350.4 467.9 367.4 474.9ZM387.3 445.9 370.2 440.1 377.3 460.5 394.4 465.2ZM414.2 434.6 397.2 431.1 404.3 450 421.3 452.6ZM431.3 436.7 414.2 434.6 421.3 452.6 438.4 453.9ZM475.3 420.4 458.2 421 465.3 437.3 482.4 436.1ZM492.3 418.9 475.3 420.4 482.4 436.1 499.4 434.1ZM509.3 416.6 492.3 418.9 499.4 434.1 516.5 431.5ZM526.4 413.8 509.3 416.6 516.5 431.5 533.5 428.3ZM550.5 424.6 533.5 428.3 540.6 442.7 557.7 438.8ZM567.6 420.6 550.5 424.6 557.7 438.8 574.7 434.6ZM584.6 416.2 567.6 420.6 574.7 434.6 591.8 430.1ZM601.7 411.7 584.6 416.2 591.8 430.1 608.8 425.4ZM625.8 420.5 608.8 425.4 615.9 439.1 633 434.2ZM642.9 415.6 625.8 420.5 633 434.2 650 429.2ZM659.9 410.5 642.9 415.6 650 429.2 667.1 424.1ZM684.1 418.9 667.1 424.1 674.2 437.6 691.2 432.4ZM701.1 413.6 684.1 418.9 691.2 432.4 708.3 427.1ZM725.3 421.7 708.3 427.1 715.4 440.6 732.4 435.1ZM742.3 416.2 725.3 421.7 732.4 435.1 749.5 429.5ZM766.5 423.8 749.5 429.5 756.6 442.8 773.6 437ZM759.4 410.6 742.3 416.2 749.5 429.5 766.5 423.8ZM783.6 418 766.5 423.8 773.6 437 790.7 431ZM807.7 424.8 790.7 431 797.8 444 814.8 437.7ZM800.6 412 783.6 418 790.7 431 807.7 424.8ZM824.8 418.4 807.7 424.8 814.8 437.7 831.9 431ZM848.9 424.1 831.9 431 839 443.5 856.1 436.4ZM873.1 428.9 856.1 436.4 863.2 448.5 880.2 440.7ZM897.3 432.5 880.2 440.7 887.3 452.3 904.4 443.8ZM890.1 421 873.1 428.9 880.2 440.7 897.3 432.5ZM921.4 434.8 904.4 443.8 911.5 454.9 928.6 445.5ZM1095.2 555.5 1078.2 573.4 1085.3 572.7 1102.3 554.5ZM952.7 445.7 935.7 456 942.8 466.2 959.8 455.5ZM945.6 435.6 928.6 445.5 935.7 456 952.7 445.7ZM1090.9 536.7 1073.8 553.9 1081 555.1 1098 537.7ZM1083.8 535 1066.7 551.9 1073.8 553.9 1090.9 536.7ZM984 453.3 967 465 974.1 474.1 991.1 462.1ZM976.9 444.3 959.8 455.5 967 465 984 453.3ZM1079.4 509.8 1062.4 526.1 1069.5 529.7 1086.6 513.1ZM1072.3 506 1055.3 522 1062.4 526.1 1079.4 509.8ZM1065.2 501.6 1048.1 517.2 1055.3 522 1072.3 506ZM1058.1 496.6 1041 512 1048.1 517.2 1065.2 501.6ZM1050.9 491.2 1033.9 506.2 1041 512 1058.1 496.6ZM1043.8 485.3 1026.8 500 1033.9 506.2 1050.9 491.2ZM1036.7 479 1019.6 493.2 1026.8 500 1043.8 485.3ZM1029.6 472.2 1012.5 486 1019.6 493.2 1036.7 479ZM1022.4 465 1005.4 478.4 1012.5 486 1029.6 472.2ZM1015.3 457.4 998.3 470.4 1005.4 478.4 1022.4 465Z"/>
<path fill="#4ebb90" d="M343.2 445.6 326.2 435 333.3 458.8 350.4 467.9ZM353.2 432.4 336.1 422.5 343.2 445.6 360.3 454.1ZM380.1 425.9 363.1 418.9 370.2 440.1 387.3 445.9ZM407.1 416 390 411.5 397.2 431.1 414.2 434.6ZM434 403.2 417 400.7 424.1 419 441.2 420.6ZM451.1 404.3 434 403.2 441.2 420.6 458.2 421ZM468.1 404.3 451.1 404.3 458.2 421 475.3 420.4ZM536.3 395.9 519.3 399 526.4 413.8 543.4 410.4ZM553.3 392.4 536.3 395.9 543.4 410.4 560.5 406.5ZM570.4 388.4 553.3 392.4 560.5 406.5 577.5 402.4ZM587.4 384.1 570.4 388.4 577.5 402.4 594.5 397.9ZM611.6 393.3 594.5 397.9 601.7 411.7 618.7 406.9ZM628.6 388.5 611.6 393.3 618.7 406.9 635.8 402ZM645.7 383.5 628.6 388.5 635.8 402 652.8 397ZM669.8 391.9 652.8 397 659.9 410.5 677 405.4ZM686.9 386.8 669.8 391.9 677 405.4 694 400.2ZM711.1 394.9 694 400.2 701.1 413.6 718.2 408.3ZM703.9 381.6 686.9 386.8 694 400.2 711.1 394.9ZM728.1 389.6 711.1 394.9 718.2 408.3 735.2 402.9ZM745.1 384.2 728.1 389.6 735.2 402.9 752.3 397.4ZM769.3 391.8 752.3 397.4 759.4 410.6 776.4 404.9ZM786.3 386.1 769.3 391.8 776.4 404.9 793.5 399.1ZM810.5 393 793.5 399.1 800.6 412 817.6 405.8ZM834.7 399.3 817.6 405.8 824.8 418.4 841.8 411.8ZM827.6 386.8 810.5 393 817.6 405.8 834.7 399.3ZM851.7 392.6 834.7 399.3 841.8 411.8 858.8 404.8ZM875.9 397.6 858.8 404.8 866 416.9 883 409.3ZM900.1 401.4 883 409.3 890.1 421 907.2 412.7ZM924.2 404 907.2 412.7 914.3 423.8 931.3 414.8ZM1112.3 537.7 1095.2 555.5 1102.3 554.5 1119.4 536.7ZM955.5 415.4 938.5 425.3 945.6 435.6 962.6 425.3ZM948.4 405.2 931.3 414.8 938.5 425.3 955.5 415.4ZM1115.1 520.5 1098 537.7 1105.1 538.1 1122.2 520.8ZM1107.9 519.6 1090.9 536.7 1098 537.7 1115.1 520.5ZM986.8 423.6 969.8 434.9 976.9 444.3 993.9 432.5ZM979.7 414.4 962.6 425.3 969.8 434.9 986.8 423.6ZM1103.6 496.5 1086.6 513.1 1093.7 515.9 1110.7 499.1ZM1096.5 493.4 1079.4 509.8 1086.6 513.1 1103.6 496.5ZM1089.3 489.7 1072.3 506 1079.4 509.8 1096.5 493.4ZM1082.2 485.6 1065.2 501.6 1072.3 506 1089.3 489.7ZM1046.6 457.9 1029.6 472.2 1036.7 479 1053.7 464.3ZM1039.5 451.1 1022.4 465 1029.6 472.2 1046.6 457.9ZM1032.3 443.9 1015.3 457.4 1022.4 465 1039.5 451.1ZM1025.2 436.4 1008.2 449.5 1015.3 457.4 1032.3 443.9ZM1018.1 428.5 1001.1 441.2 1008.2 449.5 1025.2 436.4Z"/>
<path fill="#51bd83" d="M336.1 422.5 319.1 410.2 326.2 435 343.2 445.6ZM346 409.8 329 398.3 336.1 422.5 353.2 432.4ZM373 405.1 356 396.8 363.1 418.9 380.1 425.9ZM382.9 391.1 365.9 383.5 373 405.1 390 411.5ZM400 396.8 382.9 391.1 390 411.5 407.1 416ZM409.9 381.8 392.8 376.8 400 396.8 417 400.7ZM426.9 385.2 409.9 381.8 417 400.7 434 403.2ZM453.9 370.9 436.8 369.4 444 387.2 461 387.9ZM470.9 371.2 453.9 370.9 461 387.9 478 387.5ZM488 370.5 470.9 371.2 478 387.5 495.1 386.2ZM505 368.9 488 370.5 495.1 386.2 512.1 384.1ZM522 366.6 505 368.9 512.1 384.1 529.2 381.4ZM539.1 363.7 522 366.6 529.2 381.4 546.2 378.1ZM556.1 360.2 539.1 363.7 546.2 378.1 563.3 374.4ZM573.2 356.4 556.1 360.2 563.3 374.4 580.3 370.3ZM597.3 366 580.3 370.3 587.4 384.1 604.5 379.6ZM614.4 361.4 597.3 366 604.5 379.6 621.5 374.9ZM631.4 356.7 614.4 361.4 621.5 374.9 638.6 370.1ZM655.6 365.2 638.6 370.1 645.7 383.5 662.7 378.5ZM648.5 351.8 631.4 356.7 638.6 370.1 655.6 365.2ZM672.6 360.2 655.6 365.2 662.7 378.5 679.8 373.5ZM689.7 355.1 672.6 360.2 679.8 373.5 696.8 368.3ZM713.8 363.2 696.8 368.3 703.9 381.6 721 376.4ZM730.9 358 713.8 363.2 721 376.4 738 371.1ZM755.1 365.7 738 371.1 745.1 384.2 762.2 378.8ZM747.9 352.7 730.9 358 738 371.1 755.1 365.7ZM772.1 360.3 755.1 365.7 762.2 378.8 779.2 373.2ZM796.3 367.5 779.2 373.2 786.3 386.1 803.4 380.3ZM789.1 354.8 772.1 360.3 779.2 373.2 796.3 367.5ZM813.3 361.7 796.3 367.5 803.4 380.3 820.4 374.3ZM837.5 368.1 820.4 374.3 827.6 386.8 844.6 380.4ZM830.3 355.7 813.3 361.7 820.4 374.3 837.5 368.1ZM854.5 361.6 837.5 368.1 844.6 380.4 861.6 373.7ZM878.7 366.7 861.6 373.7 868.8 385.7 885.8 378.4ZM902.8 370.7 885.8 378.4 892.9 390 910 382ZM927 373.6 910 382 917.1 393.1 934.1 384.3ZM1129.3 520.4 1112.3 537.7 1119.4 536.7 1136.4 519.3ZM958.3 385.2 941.3 394.9 948.4 405.2 965.4 395.2ZM951.2 375.1 934.1 384.3 941.3 394.9 958.3 385.2ZM1132.1 503.5 1115.1 520.5 1122.2 520.8 1139.2 503.8ZM1125 502.6 1107.9 519.6 1115.1 520.5 1132.1 503.5ZM989.6 393.9 972.6 404.9 979.7 414.4 996.7 403ZM982.5 384.6 965.4 395.2 972.6 404.9 989.6 393.9ZM1127.8 482.4 1110.7 499.1 1117.8 501.1 1134.9 484.4ZM1120.6 479.9 1103.6 496.5 1110.7 499.1 1127.8 482.4ZM1113.5 476.8 1096.5 493.4 1103.6 496.5 1120.6 479.9ZM1035.1 415.3 1018.1 428.5 1025.2 436.4 1042.3 422.7ZM1028 407.5 1011 420.3 1018.1 428.5 1035.1 415.3ZM1020.9 399.4 1003.8 411.8 1011 420.3 1028 407.5Z"/>
<path fill="#57c076" d="M329 398.3 312 384.3 319.1 410.2 336.1 422.5ZM338.9 386.2 321.9 373 329 398.3 346 409.8ZM365.9 383.5 348.8 373.7 356 396.8 373 405.1ZM375.8 369.9 358.8 360.8 365.9 383.5 382.9 391.1ZM402.8 362.1 385.7 355.9 392.8 376.8 409.9 381.8ZM429.7 351.1 412.7 347.2 419.8 366.6 436.8 369.4ZM446.8 353.5 429.7 351.1 436.8 369.4 453.9 370.9ZM473.7 338 456.7 337.3 463.8 354.5 480.8 354.5ZM490.8 337.6 473.7 338 480.8 354.5 497.9 353.4ZM507.8 336.3 490.8 337.6 497.9 353.4 514.9 351.6ZM524.8 334.2 507.8 336.3 514.9 351.6 532 349.1ZM541.9 331.5 524.8 334.2 532 349.1 549 346ZM558.9 328.3 541.9 331.5 549 346 566 342.4ZM576 324.7 558.9 328.3 566 342.4 583.1 338.5ZM600.1 334.3 583.1 338.5 590.2 352.3 607.3 347.9ZM617.2 329.9 600.1 334.3 607.3 347.9 624.3 343.3ZM634.2 325.3 617.2 329.9 624.3 343.3 641.3 338.6ZM658.4 333.7 641.3 338.6 648.5 351.8 665.5 346.9ZM675.4 328.9 658.4 333.7 665.5 346.9 682.6 342ZM699.6 337 682.6 342 689.7 355.1 706.7 350ZM692.5 324 675.4 328.9 682.6 342 699.6 337ZM716.6 331.9 699.6 337 706.7 350 723.8 344.9ZM733.7 326.9 716.6 331.9 723.8 344.9 740.8 339.8ZM757.8 334.6 740.8 339.8 747.9 352.7 765 347.4ZM774.9 329.3 757.8 334.6 765 347.4 782 342ZM799.1 336.5 782 342 789.1 354.8 806.2 349.1ZM791.9 324 774.9 329.3 782 342 799.1 336.5ZM816.1 330.9 799.1 336.5 806.2 349.1 823.2 343.3ZM840.3 337.3 823.2 343.3 830.3 355.7 847.4 349.5ZM857.3 331.1 840.3 337.3 847.4 349.5 864.4 343ZM881.5 336.3 864.4 343 871.6 354.9 888.6 347.9ZM905.6 340.5 888.6 347.9 895.7 359.3 912.8 351.6ZM929.8 343.5 912.8 351.6 919.9 362.7 936.9 354.2ZM961.1 355.4 944.1 364.7 951.2 375.1 968.2 365.3ZM954 345.3 936.9 354.2 944.1 364.7 961.1 355.4ZM1156.3 487.4 1139.2 503.8 1146.3 503.5 1163.4 487.3ZM1149.1 486.9 1132.1 503.5 1139.2 503.8 1156.3 487.4ZM992.4 364.4 975.3 375.1 982.5 384.6 999.5 373.5ZM985.3 355.1 968.2 365.3 975.3 375.1 992.4 364.4ZM1144.8 465.9 1127.8 482.4 1134.9 484.4 1151.9 468ZM1137.7 463.3 1120.6 479.9 1127.8 482.4 1144.8 465.9ZM1037.9 386.5 1020.9 399.4 1028 407.5 1045.1 394.1ZM1030.8 378.5 1013.8 391 1020.9 399.4 1037.9 386.5ZM1023.7 370.3 1006.6 382.4 1013.8 391 1030.8 378.5ZM1016.6 361.9 999.5 373.5 1006.6 382.4 1023.7 370.3ZM1126.2 432.6 1109.2 448.8 1116.3 453.1 1133.4 436.7ZM1119.1 428 1102.1 444.2 1109.2 448.8 1126.2 432.6ZM1112 423.2 1094.9 439.2 1102.1 444.2 1119.1 428ZM1104.9 418 1087.8 433.7 1094.9 439.2 1112 423.2ZM1097.7 412.5 1080.7 428 1087.8 433.7 1104.9 418ZM1090.6 406.7 1073.6 421.9 1080.7 428 1097.7 412.5ZM1083.5 400.5 1066.4 415.4 1073.6 421.9 1090.6 406.7ZM1076.4 394.1 1059.3 408.6 1066.4 415.4 1083.5 400.5Z"/>
<path fill="#5ec267" d="M321.9 373 304.8 357.1 312 384.3 329 398.3ZM358.8 360.8 341.7 349.5 348.8 373.7 365.9 383.5ZM368.7 347.6 351.6 337.1 358.8 360.8 375.8 369.9ZM395.6 341.6 378.6 334.1 385.7 355.9 402.8 362.1ZM422.6 332 405.5 327 412.7 347.2 429.7 351.1ZM449.5 319.5 432.5 316.6 439.6 335.4 456.7 337.3ZM466.6 321 449.5 319.5 456.7 337.3 473.7 338ZM510.6 303.7 493.5 304.7 500.7 320.7 517.7 319.1ZM527.6 302 510.6 303.7 517.7 319.1 534.8 316.9ZM544.7 299.6 527.6 302 534.8 316.9 551.8 314ZM561.7 296.6 544.7 299.6 551.8 314 568.8 310.7ZM585.9 307 568.8 310.7 576 324.7 593 320.7ZM602.9 303 585.9 307 593 320.7 610.1 316.4ZM620 298.8 602.9 303 610.1 316.4 627.1 312ZM644.1 307.5 627.1 312 634.2 325.3 651.3 320.6ZM637 294.4 620 298.8 627.1 312 644.1 307.5ZM661.2 302.8 644.1 307.5 651.3 320.6 668.3 315.8ZM678.2 298.1 661.2 302.8 668.3 315.8 685.3 311ZM702.4 306.1 685.3 311 692.5 324 709.5 319ZM695.3 293.4 678.2 298.1 685.3 311 702.4 306.1ZM719.4 301.3 702.4 306.1 709.5 319 726.6 314ZM736.5 296.4 719.4 301.3 726.6 314 743.6 309.1ZM760.6 304 743.6 309.1 750.7 321.8 767.8 316.6ZM777.7 298.9 760.6 304 767.8 316.6 784.8 311.4ZM801.8 306.1 784.8 311.4 791.9 324 809 318.5ZM818.9 300.7 801.8 306.1 809 318.5 826 312.9ZM843.1 307.2 826 312.9 833.1 325.1 850.2 319.1ZM860.1 301.2 843.1 307.2 850.2 319.1 867.2 312.9ZM884.3 306.5 867.2 312.9 874.3 324.6 891.4 317.9ZM908.4 310.8 891.4 317.9 898.5 329.2 915.6 321.8ZM932.6 314 915.6 321.8 922.7 332.7 939.7 324.6ZM963.9 326 946.8 335 954 345.3 971 335.9ZM956.8 316 939.7 324.6 946.8 335 963.9 326ZM1173.3 471.6 1156.3 487.4 1163.4 487.3 1180.4 471.9ZM1166.2 470.9 1149.1 486.9 1156.3 487.4 1173.3 471.6ZM995.2 335.3 978.1 345.6 985.3 355.1 1002.3 344.3ZM988.1 326 971 335.9 978.1 345.6 995.2 335.3ZM1169 452 1151.9 468 1159.1 469.6 1176.1 453.9ZM1161.9 449.7 1144.8 465.9 1151.9 468 1169 452ZM1033.6 349.7 1016.6 361.9 1023.7 370.3 1040.7 357.8ZM1026.5 341.5 1009.4 353.2 1016.6 361.9 1033.6 349.7ZM1019.4 333 1002.3 344.3 1009.4 353.2 1026.5 341.5ZM1150.4 420.4 1133.4 436.7 1140.5 440.5 1157.5 424.3ZM1143.3 416.3 1126.2 432.6 1133.4 436.7 1150.4 420.4ZM1136.1 411.8 1119.1 428 1126.2 432.6 1143.3 416.3ZM1129 407.1 1112 423.2 1119.1 428 1136.1 411.8ZM1121.9 402 1104.9 418 1112 423.2 1129 407.1ZM1114.8 396.7 1097.7 412.5 1104.9 418 1121.9 402ZM1107.6 391.1 1090.6 406.7 1097.7 412.5 1114.8 396.7ZM1100.5 385.2 1083.5 400.5 1090.6 406.7 1107.6 391.1ZM1093.4 379.1 1076.4 394.1 1083.5 400.5 1100.5 385.2ZM1086.3 372.7 1069.2 387.3 1076.4 394.1 1093.4 379.1ZM1079.1 366.1 1062.1 380.3 1069.2 387.3 1086.3 372.7ZM1072 359.2 1055 373.1 1062.1 380.3 1079.1 366.1ZM1064.9 352 1047.9 365.5 1055 373.1 1072 359.2Z"/>
<path fill="#75bf4e" d="M314.7 346.5 297.7 328.5 304.8 357.1 321.9 373ZM324.7 335.4 307.6 318.5 314.7 346.5 331.8 361.4ZM371.5 311.2 354.4 299.9 361.5 324.3 378.6 334.1ZM398.4 306 381.4 297.8 388.5 320.2 405.5 327ZM408.3 291.5 391.3 284 398.4 306 415.5 312.2ZM435.3 282 418.3 276.9 425.4 297.2 442.4 301.1ZM452.3 285.4 435.3 282 442.4 301.1 459.5 303.5ZM479.3 271.3 462.3 269.7 469.4 287.4 486.4 288.2ZM496.3 271.8 479.3 271.3 486.4 288.2 503.5 288ZM513.4 271.3 496.3 271.8 503.5 288 520.5 286.8ZM530.4 270 513.4 271.3 520.5 286.8 537.5 284.9ZM547.5 268 530.4 270 537.5 284.9 554.6 282.4ZM564.5 265.4 547.5 268 554.6 282.4 571.6 279.4ZM581.6 262.3 564.5 265.4 571.6 279.4 588.7 275.9ZM598.6 258.8 581.6 262.3 588.7 275.9 605.7 272.2ZM615.6 255.1 598.6 258.8 605.7 272.2 622.8 268.2ZM632.7 251.1 615.6 255.1 622.8 268.2 639.8 264ZM656.8 259.7 639.8 264 646.9 276.9 664 272.5ZM673.9 255.3 656.8 259.7 664 272.5 681 268ZM690.9 250.9 673.9 255.3 681 268 698.1 263.4ZM715.1 258.8 698.1 263.4 705.2 275.9 722.2 271.2ZM732.1 254.2 715.1 258.8 722.2 271.2 739.3 266.5ZM756.3 261.8 739.3 266.5 746.4 279 763.4 274.1ZM749.2 249.5 732.1 254.2 739.3 266.5 756.3 261.8ZM773.3 257 756.3 261.8 763.4 274.1 780.5 269.2ZM790.4 252.2 773.3 257 780.5 269.2 797.5 264.3ZM814.6 259.2 797.5 264.3 804.6 276.4 821.7 271.2ZM831.6 254 814.6 259.2 821.7 271.2 838.7 265.8ZM855.8 260.3 838.7 265.8 845.8 277.6 862.9 271.9ZM879.9 265.9 862.9 271.9 870 283.4 887.1 277.2ZM872.8 254.5 855.8 260.3 862.9 271.9 879.9 265.9ZM897 259.6 879.9 265.9 887.1 277.2 904.1 270.6ZM921.1 263.7 904.1 270.6 911.2 281.6 928.3 274.4ZM952.4 277 935.4 285 942.5 295.4 959.6 287.1ZM945.3 266.8 928.3 274.4 935.4 285 952.4 277ZM976.6 278.3 959.6 287.1 966.7 297.1 983.7 287.9ZM969.5 268.6 952.4 277 959.6 287.1 976.6 278.3ZM1207.4 442.8 1190.4 456.7 1197.5 457.5 1214.5 444.3ZM1200.3 441 1183.2 455.5 1190.4 456.7 1207.4 442.8ZM1007.9 287.1 990.9 297.3 998 306.5 1015 295.9ZM1000.8 278.1 983.7 287.9 990.9 297.3 1007.9 287.1ZM1203.1 422.1 1186 436.7 1193.1 439 1210.2 425ZM1195.9 419 1178.9 434 1186 436.7 1203.1 422.1ZM1188.8 415.6 1171.8 431.1 1178.9 434 1195.9 419ZM1053.4 308.8 1036.4 321.2 1043.5 329.2 1060.6 316.4ZM1046.3 301 1029.3 313 1036.4 321.2 1053.4 308.8ZM1039.2 293 1022.1 304.5 1029.3 313 1046.3 301ZM1170.2 379.5 1153.2 395.6 1160.3 400.1 1177.4 384.1ZM1163.1 374.7 1146.1 390.9 1153.2 395.6 1170.2 379.5ZM1156 369.8 1138.9 385.9 1146.1 390.9 1163.1 374.7ZM1148.9 364.7 1131.8 380.7 1138.9 385.9 1156 369.8ZM1141.7 359.3 1124.7 375.3 1131.8 380.7 1148.9 364.7ZM1134.6 353.8 1117.6 369.7 1124.7 375.3 1141.7 359.3ZM1127.5 348.2 1110.4 363.8 1117.6 369.7 1134.6 353.8ZM1120.4 342.3 1103.3 357.7 1110.4 363.8 1127.5 348.2ZM1113.2 336.2 1096.2 351.3 1103.3 357.7 1120.4 342.3ZM1106.1 330 1089.1 344.8 1096.2 351.3 1113.2 336.2ZM1099 323.5 1081.9 338 1089.1 344.8 1106.1 330Z"/>
<path fill="#a0b535" d="M307.6 318.5 290.6 298.3 297.7 328.5 314.7 346.5ZM354.4 299.9 337.4 285.9 344.5 312.2 361.5 324.3ZM364.3 287.2 347.3 274.2 354.4 299.9 371.5 311.2ZM401.2 269.9 384.2 260.9 391.3 284 408.3 291.5ZM428.2 262.1 411.1 255.7 418.3 276.9 435.3 282ZM455.1 251.2 438.1 247.1 445.2 266.6 462.3 269.7ZM472.2 253.9 455.1 251.2 462.3 269.7 479.3 271.3ZM499.1 239.2 482.1 238.1 489.2 255.2 506.3 255.5ZM516.2 239.3 499.1 239.2 506.3 255.5 523.3 254.8ZM533.2 238.4 516.2 239.3 523.3 254.8 540.3 253.3ZM550.3 236.8 533.2 238.4 540.3 253.3 557.4 251.2ZM567.3 234.6 550.3 236.8 557.4 251.2 574.4 248.5ZM584.3 231.9 567.3 234.6 574.4 248.5 591.5 245.4ZM601.4 228.7 584.3 231.9 591.5 245.4 608.5 241.9ZM618.4 225.3 601.4 228.7 608.5 241.9 625.6 238.2ZM635.5 221.6 618.4 225.3 625.6 238.2 642.6 234.3ZM659.6 230.2 642.6 234.3 649.7 247 666.8 242.8ZM652.5 217.7 635.5 221.6 642.6 234.3 659.6 230.2ZM676.7 226 659.6 230.2 666.8 242.8 683.8 238.4ZM693.7 221.8 676.7 226 683.8 238.4 700.8 234.1ZM717.9 229.6 700.8 234.1 708 246.4 725 241.9ZM710.8 217.5 693.7 221.8 700.8 234.1 717.9 229.6ZM734.9 225.2 717.9 229.6 725 241.9 742.1 237.3ZM752 220.7 734.9 225.2 742.1 237.3 759.1 232.7ZM776.1 228.1 759.1 232.7 766.2 244.8 783.3 240.1ZM793.2 223.4 776.1 228.1 783.3 240.1 800.3 235.3ZM817.3 230.4 800.3 235.3 807.4 247.2 824.5 242.2ZM810.2 218.6 793.2 223.4 800.3 235.3 817.3 230.4ZM834.4 225.3 817.3 230.4 824.5 242.2 841.5 237ZM858.6 231.6 841.5 237 848.6 248.6 865.7 243ZM851.4 220.1 834.4 225.3 841.5 237 858.6 231.6ZM875.6 225.9 858.6 231.6 865.7 243 882.7 237.2ZM899.8 231.1 882.7 237.2 889.8 248.4 906.9 242ZM923.9 235.3 906.9 242 914 252.9 931.1 245.9ZM916.8 224.6 899.8 231.1 906.9 242 923.9 235.3ZM948.1 238.5 931.1 245.9 938.2 256.4 955.2 248.6ZM941 228.1 923.9 235.3 931.1 245.9 948.1 238.5ZM979.4 250.1 962.4 258.7 969.5 268.6 986.5 259.6ZM972.3 240.4 955.2 248.6 962.4 258.7 979.4 250.1ZM1231.6 432.5 1214.5 444.3 1221.6 445.4 1238.7 434.6ZM1010.7 259 993.6 268.9 1000.8 278.1 1017.8 267.8ZM1003.6 250.1 986.5 259.6 993.6 268.9 1010.7 259ZM996.4 240.9 979.4 250.1 986.5 259.6 1003.6 250.1ZM1241.5 419 1224.4 430.1 1231.6 432.5 1248.6 422.3ZM1234.4 415.6 1217.3 427.7 1224.4 430.1 1241.5 419ZM1227.2 412.1 1210.2 425 1217.3 427.7 1234.4 415.6ZM1220.1 408.5 1203.1 422.1 1210.2 425 1227.2 412.1ZM1049.1 273.1 1032.1 284.8 1039.2 293 1056.2 280.9ZM1042 265.1 1024.9 276.4 1032.1 284.8 1049.1 273.1ZM1034.9 256.9 1017.8 267.8 1024.9 276.4 1042 265.1ZM1208.6 377.9 1191.6 392.8 1198.7 396.9 1215.8 382.5ZM1201.5 373.2 1184.5 388.5 1191.6 392.8 1208.6 377.9ZM1194.4 368.5 1177.4 384.1 1184.5 388.5 1201.5 373.2ZM1187.3 363.7 1170.2 379.5 1177.4 384.1 1194.4 368.5ZM1180.1 358.7 1163.1 374.7 1170.2 379.5 1187.3 363.7ZM1173 353.7 1156 369.8 1163.1 374.7 1180.1 358.7ZM1165.9 348.5 1148.9 364.7 1156 369.8 1173 353.7ZM1158.8 343.3 1141.7 359.3 1148.9 364.7 1165.9 348.5ZM1151.6 337.9 1134.6 353.8 1141.7 359.3 1158.8 343.3ZM1144.5 332.3 1127.5 348.2 1134.6 353.8 1151.6 337.9ZM1137.4 326.6 1120.4 342.3 1127.5 348.2 1144.5 332.3ZM1130.3 320.8 1113.2 336.2 1120.4 342.3 1137.4 326.6ZM1123.1 314.8 1106.1 330 1113.2 336.2 1130.3 320.8ZM1116 308.6 1099 323.5 1106.1 330 1123.1 314.8ZM1108.9 302.3 1091.9 316.9 1099 323.5 1116 308.6ZM1101.8 295.8 1084.7 310.1 1091.9 316.9 1108.9 302.3ZM1094.6 289.2 1077.6 303.1 1084.7 310.1 1101.8 295.8ZM1087.5 282.4 1070.5 295.8 1077.6 303.1 1094.6 289.2ZM1350.9 412.1 1333.8 406.2 1340.9 418.8 1358 427.3Z"/>
<path fill="#bdab32" d="M300.5 289 283.5 266.5 290.6 298.3 307.6 318.5ZM357.2 262 340.2 247 347.3 274.2 364.3 287.2ZM367.1 249.5 350.1 235.4 357.2 262 374.3 274.2ZM404 233.5 387 223.6 394.1 247.3 411.1 255.7ZM431 226.8 413.9 219.6 421 241.3 438.1 247.1ZM440.9 212.3 423.8 205.6 431 226.8 448 232.1ZM457.9 217.2 440.9 212.3 448 232.1 465 235.8ZM467.8 202.2 450.8 197.7 457.9 217.2 475 220.5ZM484.9 205.2 467.8 202.2 475 220.5 492 222.5ZM511.8 191.6 494.8 190.1 501.9 206.9 519 207.6ZM528.9 192 511.8 191.6 519 207.6 536 207.2ZM545.9 191.5 528.9 192 536 207.2 553.1 206.1ZM563 190.3 545.9 191.5 553.1 206.1 570.1 204.3ZM580 188.4 563 190.3 570.1 204.3 587.1 202ZM597.1 186 580 188.4 587.1 202 604.2 199.2ZM614.1 183.2 597.1 186 604.2 199.2 621.2 196.1ZM631.1 180.1 614.1 183.2 621.2 196.1 638.3 192.6ZM648.2 176.6 631.1 180.1 638.3 192.6 655.3 189ZM672.3 185.2 655.3 189 662.4 201.3 679.5 197.3ZM665.2 173 648.2 176.6 655.3 189 672.3 185.2ZM689.4 181.2 672.3 185.2 679.5 197.3 696.5 193.2ZM706.4 177.1 689.4 181.2 696.5 193.2 713.6 189.1ZM730.6 184.8 713.6 189.1 720.7 201.1 737.7 196.7ZM723.5 172.9 706.4 177.1 713.6 189.1 730.6 184.8ZM747.6 180.5 730.6 184.8 737.7 196.7 754.8 192.3ZM764.7 176 747.6 180.5 754.8 192.3 771.8 187.8ZM788.8 183.3 771.8 187.8 778.9 199.7 796 195ZM781.7 171.5 764.7 176 771.8 187.8 788.8 183.3ZM805.9 178.5 788.8 183.3 796 195 813 190.3ZM830.1 185.3 813 190.3 820.1 202 837.2 196.9ZM822.9 173.7 805.9 178.5 813 190.3 830.1 185.3ZM847.1 180.2 830.1 185.3 837.2 196.9 854.2 191.7ZM871.3 186.2 854.2 191.7 861.3 203.2 878.4 197.6ZM864.1 174.8 847.1 180.2 854.2 191.7 871.3 186.2ZM888.3 180.5 871.3 186.2 878.4 197.6 895.4 191.7ZM912.5 185.4 895.4 191.7 902.6 202.7 919.6 196.3ZM936.6 189.4 919.6 196.3 926.7 207 943.8 199.9ZM929.5 178.6 912.5 185.4 919.6 196.3 936.6 189.4ZM960.8 192.3 943.8 199.9 950.9 210.3 967.9 202.4ZM953.7 181.9 936.6 189.4 943.8 199.9 960.8 192.3ZM992.1 203.6 975.1 212.3 982.2 222.1 999.2 213ZM985 194 967.9 202.4 975.1 212.3 992.1 203.6ZM1023.4 212.2 1006.4 222.2 1013.5 231.2 1030.5 220.8ZM1016.3 203.3 999.2 213 1006.4 222.2 1023.4 212.2ZM1068.9 233.3 1051.9 245.4 1059 253.2 1076.1 240.7ZM1061.8 225.7 1044.8 237.4 1051.9 245.4 1068.9 233.3ZM1054.7 217.9 1037.6 229.2 1044.8 237.4 1061.8 225.7ZM1047.6 209.8 1030.5 220.8 1037.6 229.2 1054.7 217.9ZM1285.5 389.5 1268.4 396.2 1275.6 402 1292.6 396.8ZM1278.4 382.4 1261.3 390.5 1268.4 396.2 1285.5 389.5ZM1271.2 375.6 1254.2 385 1261.3 390.5 1278.4 382.4ZM1264.1 369 1247.1 379.6 1254.2 385 1271.2 375.6ZM1257 362.7 1239.9 374.2 1247.1 379.6 1264.1 369ZM1249.9 356.6 1232.8 369 1239.9 374.2 1257 362.7ZM1242.7 350.6 1225.7 363.7 1232.8 369 1249.9 356.6ZM1235.6 344.7 1218.6 358.6 1225.7 363.7 1242.7 350.6ZM1228.5 339 1211.4 353.4 1218.6 358.6 1235.6 344.7ZM1221.4 333.3 1204.3 348.2 1211.4 353.4 1228.5 339ZM1214.2 327.8 1197.2 343 1204.3 348.2 1221.4 333.3ZM1207.1 322.2 1190.1 337.8 1197.2 343 1214.2 327.8ZM1200 316.7 1182.9 332.5 1190.1 337.8 1207.1 322.2ZM1192.9 311.3 1175.8 327.2 1182.9 332.5 1200 316.7ZM1185.7 305.8 1168.7 321.8 1175.8 327.2 1192.9 311.3ZM1178.6 300.3 1161.6 316.3 1168.7 321.8 1185.7 305.8ZM1171.5 294.7 1154.4 310.7 1161.6 316.3 1178.6 300.3ZM1164.4 289.2 1147.3 305.1 1154.4 310.7 1171.5 294.7ZM1157.2 283.5 1140.2 299.3 1147.3 305.1 1164.4 289.2ZM1150.1 277.8 1133.1 293.4 1140.2 299.3 1157.2 283.5ZM1143 272 1125.9 287.3 1133.1 293.4 1150.1 277.8ZM1135.9 266 1118.8 281.2 1125.9 287.3 1143 272ZM1128.7 260 1111.7 274.8 1118.8 281.2 1135.9 266ZM1121.6 253.8 1104.6 268.3 1111.7 274.8 1128.7 260ZM1114.5 247.5 1097.4 261.7 1104.6 268.3 1121.6 253.8ZM1107.4 241 1090.3 254.9 1097.4 261.7 1114.5 247.5ZM1302.5 385 1285.5 389.5 1292.6 396.8 1309.6 394.2ZM1295.4 376.4 1278.4 382.4 1285.5 389.5 1302.5 385ZM1319.6 383.3 1302.5 385 1309.6 394.2 1326.7 394.4ZM1312.4 372.7 1295.4 376.4 1302.5 385 1319.6 383.3ZM1329.5 371.8 1312.4 372.7 1319.6 383.3 1336.6 384.5Z"/>
<path fill="#e5a035" d="M293.4 257.9 276.3 232.8 283.5 266.5 300.5 289ZM360 223.5 343 207.4 350.1 235.4 367.1 249.5ZM369.9 211.2 352.9 196.1 360 223.5 377 236.7ZM406.8 196.9 389.8 186 396.9 210.3 413.9 219.6ZM443.7 177.5 426.6 169.9 433.8 191.5 450.8 197.7ZM470.6 168.9 453.6 163.5 460.7 183.3 477.8 187.4ZM760.3 136.1 743.3 140.6 750.4 152.4 767.5 147.9ZM777.4 131.4 760.3 136.1 767.5 147.9 784.5 143.3ZM794.4 126.5 777.4 131.4 784.5 143.3 801.6 138.4ZM818.6 133.4 801.6 138.4 808.7 150.2 825.7 145.2ZM835.6 128 818.6 133.4 825.7 145.2 842.8 139.9ZM859.8 134.3 842.8 139.9 849.9 151.6 866.9 146.1ZM884 140.1 866.9 146.1 874.1 157.7 891.1 151.7ZM876.9 128.3 859.8 134.3 866.9 146.1 884 140.1ZM901 133.7 884 140.1 891.1 151.7 908.1 145.3ZM925.2 138.3 908.1 145.3 915.3 156.6 932.3 149.6ZM949.4 142.1 932.3 149.6 939.4 160.6 956.5 153ZM980.6 155.2 963.6 163.6 970.7 174 987.8 165.4ZM973.5 144.7 956.5 153 963.6 163.6 980.6 155.2ZM1004.8 156.1 987.8 165.4 994.9 175.3 1011.9 165.8ZM997.7 146.1 980.6 155.2 987.8 165.4 1004.8 156.1ZM1043.2 173.4 1026.2 184.2 1033.3 193 1050.4 181.9ZM1036.1 164.6 1019.1 175.1 1026.2 184.2 1043.2 173.4ZM1029 155.5 1011.9 165.8 1019.1 175.1 1036.1 164.6ZM1088.8 193.1 1071.7 205.8 1078.9 213.3 1095.9 200.2ZM1081.6 185.7 1064.6 198.1 1071.7 205.8 1088.8 193.1ZM1074.5 178.1 1057.5 190.2 1064.6 198.1 1081.6 185.7ZM1067.4 170.1 1050.4 181.9 1057.5 190.2 1074.5 178.1ZM1269.7 320.3 1252.6 331.9 1259.8 338.6 1276.8 327.9ZM1262.6 312.9 1245.5 325.4 1252.6 331.9 1269.7 320.3ZM1255.4 305.9 1238.4 319.2 1245.5 325.4 1262.6 312.9ZM1248.3 299.2 1231.3 313.1 1238.4 319.2 1255.4 305.9ZM1241.2 292.7 1224.1 307.1 1231.3 313.1 1248.3 299.2ZM1234.1 286.4 1217 301.3 1224.1 307.1 1241.2 292.7ZM1226.9 280.2 1209.9 295.6 1217 301.3 1234.1 286.4ZM1219.8 274.3 1202.8 289.9 1209.9 295.6 1226.9 280.2ZM1212.7 268.5 1195.6 284.3 1202.8 289.9 1219.8 274.3ZM1205.6 262.7 1188.5 278.7 1195.6 284.3 1212.7 268.5ZM1198.4 257.1 1181.4 273.1 1188.5 278.7 1205.6 262.7ZM1191.3 251.5 1174.3 267.5 1181.4 273.1 1198.4 257.1ZM1184.2 245.9 1167.1 261.9 1174.3 267.5 1191.3 251.5ZM1177.1 240.3 1160 256.3 1167.1 261.9 1184.2 245.9ZM1169.9 234.7 1152.9 250.5 1160 256.3 1177.1 240.3ZM1162.8 229.1 1145.8 244.7 1152.9 250.5 1169.9 234.7ZM1155.7 223.4 1138.6 238.8 1145.8 244.7 1162.8 229.1ZM1148.6 217.6 1131.5 232.8 1138.6 238.8 1155.7 223.4ZM1141.4 211.7 1124.4 226.6 1131.5 232.8 1148.6 217.6ZM1301 328.3 1283.9 336 1291.1 344.5 1308.1 338.3ZM1293.9 319 1276.8 327.9 1283.9 336 1301 328.3Z"/>
<path fill="#ebac35" d="M286.2 225 269.2 197.2 276.3 232.8 293.4 257.9ZM296.2 216.6 279.1 190.1 286.2 225 303.3 248.8ZM306.1 207.6 289 182.5 296.2 216.6 313.2 239.1ZM316 198.1 299 174.2 306.1 207.6 323.1 229ZM325.9 188.2 308.9 165.5 316 198.1 333 218.4ZM382.6 160.4 365.6 144.8 372.7 172.5 389.8 186ZM392.5 148.1 375.5 133.4 382.6 160.4 399.7 173.1ZM913.7 82.9 896.7 90.6 903.8 103 920.9 95.4ZM937.9 87.2 920.9 95.4 928 107.6 945 99.5ZM930.8 74.6 913.7 82.9 920.9 95.4 937.9 87.2ZM962.1 90.7 945 99.5 952.1 111.3 969.2 102.5ZM954.9 78.3 937.9 87.2 945 99.5 962.1 90.7ZM986.2 93 969.2 102.5 976.3 114 993.4 104.4ZM1010.4 94 993.4 104.4 1000.5 115.4 1017.5 105ZM1041.7 104.1 1024.6 115.5 1031.8 125.6 1048.8 114ZM1080.1 119.8 1063.1 132.6 1070.2 141.3 1087.2 128.3ZM1073 110.9 1055.9 123.5 1063.1 132.6 1080.1 119.8Z"/>
<path fill="#e6ca2e" d="M279.1 190.1 262.1 159.4 269.2 197.2 286.2 225ZM289 182.5 272 153.2 279.1 190.1 296.2 216.6ZM299 174.2 281.9 146.3 289 182.5 306.1 207.6ZM308.9 165.5 291.8 138.9 299 174.2 316 198.1ZM385.4 121.8 368.4 105 375.5 133.4 392.5 148.1ZM981.9 44.8 964.9 55.7 972 68.6 989 58ZM1013.2 59.1 996.1 70.5 1003.3 82.5 1020.3 71.1ZM1037.4 58.7 1020.3 71.1 1027.4 82.7 1044.5 70.3Z"/>
<path fill="#dbe631" d="M272 153.2 269.7 148.6 261.4 155.5 262.1 159.4 279.1 190.1ZM271 147.5 269.7 148.6 272 153.2ZM281.9 146.3 279.1 141 271 147.5 272 153.2 289 182.5ZM280.7 139.7 279.1 141 281.9 146.3ZM291.8 138.9 288.8 133.3 280.7 139.7 281.9 146.3 299 174.2ZM290.5 131.9 288.8 133.3 291.8 138.9ZM301.8 130.9 298.7 125.6 290.5 131.9 291.8 138.9 308.9 165.5ZM300.4 124.2 298.7 125.6 301.8 130.9ZM311.7 122.4 308.9 117.8 300.4 124.2 301.8 130.9 318.8 156.2ZM310.5 116.6 308.9 117.8 311.7 122.4ZM321.6 113.5 319.4 110.1 310.5 116.6 311.7 122.4 328.7 146.6ZM320.7 109.1 319.4 110.1 321.6 113.5ZM331.5 104.3 330.2 102.2 320.7 109.1 321.6 113.5 338.6 136.6ZM331 101.6 330.2 102.2 331.5 104.3ZM341.4 94.7 341.2 94.4 331 101.6 331.5 104.3 348.5 126.3ZM341.3 94.3 341.2 94.4 341.4 94.7ZM351.8 87 341.3 94.3 341.4 94.7 358.5 115.7Z"/>
<path fill="#3e38a6" d="M502.8 837.7 485.7 847 487.4 852.4 507.6 852.8ZM544 840.6 527 850.2 528 853.3 548.5 854ZM585.2 842 568.2 851.8 569.2 854.8 590 855.7ZM626.4 841.9 609.4 852 611.1 856.8 632.4 858.1ZM674.8 857.9 667.6 839.9 650.6 850.4 654.1 859.7 670.1 861ZM691.8 846.7 674.8 857.9 676.2 861.6 698.9 864ZM716 852 699 864 722.4 867ZM740.1 855.7 724.7 867.3 747.2 871ZM771.4 871.7 764.3 857.3 747.4 871 767.6 875.1ZM795.6 869.9 788.5 856.8 771.4 871.7 773.8 876.5 785.6 879.4Z"/>
<path fill="#4040ab" d="M495.7 815.9 478.6 824.3 485.7 847 502.8 837.7ZM536.9 819.7 519.8 828.6 527 850.2 544 840.6ZM553.9 811.1 536.9 819.7 544 840.6 561 831.2ZM595.1 813.2 578.1 822.1 585.2 842 602.3 832.3ZM636.3 813.8 619.3 823 626.4 841.9 643.5 831.9ZM660.5 822.2 643.5 831.9 650.6 850.4 667.6 839.9ZM701.7 819.3 684.7 829.6 691.8 846.7 708.8 835.6ZM725.9 824.6 708.8 835.6 716 852 733 840.1ZM750 828.2 733 840.1 740.1 855.7 757.2 842.8ZM774.2 829.9 757.2 842.8 764.3 857.3 781.3 843.4ZM805.5 841.8 788.5 856.8 795.6 869.9 812.6 853.7Z"/>
<path fill="#4147b0" d="M488.5 794.8 471.5 802.4 478.6 824.3 495.7 815.9ZM505.6 787.3 488.5 794.8 495.7 815.9 512.7 807.6ZM546.8 791.6 529.8 799.5 536.9 819.7 553.9 811.1ZM588 794.4 571 802.7 578.1 822.1 595.1 813.2ZM629.2 795.9 612.2 804.5 619.3 823 636.3 813.8ZM670.4 795.8 653.4 804.7 660.5 822.2 677.5 812.6ZM694.6 803.1 677.5 812.6 684.7 829.6 701.7 819.3ZM711.6 793.6 694.6 803.1 701.7 819.3 718.8 809ZM735.8 798.8 718.8 809 725.9 824.6 742.9 813.5ZM760 802.4 742.9 813.5 750 828.2 767.1 816.3ZM791.3 817 774.2 829.9 781.3 843.4 798.4 829.5ZM784.1 804.2 767.1 816.3 774.2 829.9 791.3 817ZM815.4 815.4 798.4 829.5 805.5 841.8 822.5 826.7Z"/>
<path fill="#4159bc" d="M467.2 734.9 450.1 740.2 457.2 760.4 474.3 754.3ZM484.2 729.4 467.2 734.9 474.3 754.3 491.3 748.2ZM525.4 735.9 508.4 742.1 515.5 760.7 532.5 754ZM542.5 729.7 525.4 735.9 532.5 754 549.6 747.3ZM583.7 734.2 566.6 740.7 573.8 758.2 590.8 751.2ZM600.7 727.7 583.7 734.2 590.8 751.2 607.8 744.3ZM624.9 737.4 607.8 744.3 615 761.2 632 753.9ZM641.9 730.6 624.9 737.4 632 753.9 649 746.6ZM683.1 732.1 666.1 739.4 673.2 755.1 690.3 747.4ZM707.3 739.6 690.3 747.4 697.4 762.7 714.4 754.4ZM724.3 731.7 707.3 739.6 714.4 754.4 731.5 746ZM748.5 737.5 731.5 746 738.6 760.2 755.6 751.1ZM772.7 741.9 755.6 751.1 762.8 764.7 779.8 754.7ZM796.8 744.6 779.8 754.7 786.9 767.4 804 756.6ZM828.1 756.4 811.1 768.2 818.2 779.6 835.3 767ZM821 745.5 804 756.6 811.1 768.2 828.1 756.4ZM866.6 772.1 849.5 786.8 856.6 796 873.7 780.3ZM859.4 763.3 842.4 777.1 849.5 786.8 866.6 772.1ZM852.3 754 835.3 767 842.4 777.1 859.4 763.3Z"/>
<path fill="#416fc8" d="M445.8 678.8 428.7 681.9 435.9 701 452.9 697.2ZM462.8 675.2 445.8 678.8 452.9 697.2 470 693ZM479.9 671.3 462.8 675.2 470 693 487 688.5ZM496.9 667.1 479.9 671.3 487 688.5 504 683.8ZM514 662.6 496.9 667.1 504 683.8 521.1 679ZM538.1 674 521.1 679 528.2 695.6 545.3 690.2ZM555.2 668.9 538.1 674 545.3 690.2 562.3 684.8ZM572.2 663.7 555.2 668.9 562.3 684.8 579.3 679.3ZM613.4 668.3 596.4 673.8 603.5 689.4 620.5 683.6ZM630.5 662.7 613.4 668.3 620.5 683.6 637.6 677.8ZM654.6 671.9 637.6 677.8 644.7 693 661.8 686.8ZM671.7 665.9 654.6 671.9 661.8 686.8 678.8 680.6ZM695.8 674.2 678.8 680.6 685.9 695.3 703 688.6ZM712.9 667.8 695.8 674.2 703 688.6 720 681.8ZM737 674.9 720 681.8 727.1 695.9 744.2 688.6ZM754.1 667.8 737 674.9 744.2 688.6 761.2 681ZM778.3 673.3 761.2 681 768.3 694.2 785.4 686ZM802.4 677.5 785.4 686 792.5 698.4 809.6 689.4ZM826.6 680.1 809.6 689.4 816.7 701.1 833.7 691.2ZM857.9 691.2 840.8 702 848 712.4 865 700.9ZM850.8 681 833.7 691.2 840.8 702 857.9 691.2ZM903.4 713.2 886.4 727.2 893.5 734.8 910.6 720.1ZM896.3 705.7 879.3 719 886.4 727.2 903.4 713.2ZM889.2 697.7 872.1 710.2 879.3 719 896.3 705.7ZM882.1 689.1 865 700.9 872.1 710.2 889.2 697.7Z"/>
<path fill="#4179ce" d="M431.5 642.7 414.5 644.3 421.6 663 438.7 660.6ZM506.8 646.5 489.8 650.6 496.9 667.1 514 662.6ZM523.9 642.2 506.8 646.5 514 662.6 531 658ZM540.9 637.7 523.9 642.2 531 658 548 653.2ZM582.1 643.2 565.1 648.3 572.2 663.7 589.3 658.5ZM599.2 638.1 582.1 643.2 589.3 658.5 606.3 653.1ZM640.4 642.3 623.3 647.8 630.5 662.7 647.5 657ZM657.4 636.8 640.4 642.3 647.5 657 664.5 651.3ZM681.6 645.5 664.5 651.3 671.7 665.9 688.7 659.9ZM698.6 639.6 681.6 645.5 688.7 659.9 705.8 653.7ZM722.8 647.4 705.8 653.7 712.9 667.8 729.9 661.2ZM739.8 640.8 722.8 647.4 729.9 661.2 747 654.4ZM764 647.3 747 654.4 754.1 667.8 771.1 660.4ZM788.2 652.7 771.1 660.4 778.3 673.3 795.3 665.2ZM781.1 640 764 647.3 771.1 660.4 788.2 652.7ZM805.2 644.8 788.2 652.7 795.3 665.2 812.3 656.8ZM836.5 659.4 819.5 668.6 826.6 680.1 843.6 670.4ZM829.4 648.1 812.3 656.8 819.5 668.6 836.5 659.4ZM860.7 660.3 843.6 670.4 850.8 681 867.8 670.3ZM853.6 649.8 836.5 659.4 843.6 670.4 860.7 660.3ZM899.1 676.8 882.1 689.1 889.2 697.7 906.2 684.7ZM892 668.3 874.9 679.9 882.1 689.1 899.1 676.8ZM884.8 659.2 867.8 670.3 874.9 679.9 892 668.3Z"/>
<path fill="#468cd7" d="M417.3 606.9 400.2 607 407.4 625.6 424.4 624.7ZM434.3 605.9 417.3 606.9 424.4 624.7 441.5 623.1ZM451.4 604.2 434.3 605.9 441.5 623.1 458.5 620.8ZM468.4 601.9 451.4 604.2 458.5 620.8 475.5 618ZM485.5 599 468.4 601.9 475.5 618 492.6 614.8ZM526.7 607.2 509.6 611.1 516.8 626.6 533.8 622.4ZM543.7 603 526.7 607.2 533.8 622.4 550.8 617.9ZM560.8 598.5 543.7 603 550.8 617.9 567.9 613.3ZM577.8 593.9 560.8 598.5 567.9 613.3 584.9 608.6ZM602 603.7 584.9 608.6 592 623.3 609.1 618.3ZM619 598.7 602 603.7 609.1 618.3 626.1 613.1ZM636 593.6 619 598.7 626.1 613.1 643.2 607.9ZM660.2 602.6 643.2 607.9 650.3 622.3 667.3 616.9ZM677.3 597.2 660.2 602.6 667.3 616.9 684.4 611.3ZM701.4 605.6 684.4 611.3 691.5 625.4 708.5 619.6ZM718.5 599.8 701.4 605.6 708.5 619.6 725.6 613.5ZM742.6 607.3 725.6 613.5 732.7 627.2 749.8 620.8ZM735.5 593.7 718.5 599.8 725.6 613.5 742.6 607.3ZM759.7 600.8 742.6 607.3 749.8 620.8 766.8 614.1ZM783.8 607.1 766.8 614.1 773.9 627.1 791 619.9ZM808 612.3 791 619.9 798.1 632.4 815.1 624.5ZM800.9 599.8 783.8 607.1 791 619.9 808 612.3ZM825.1 604.3 808 612.3 815.1 624.5 832.2 616.2ZM856.3 618.6 839.3 627.7 846.4 638.9 863.5 629.4ZM849.2 607.4 832.2 616.2 839.3 627.7 856.3 618.6ZM880.5 619.3 863.5 629.4 870.6 639.7 887.6 629.2ZM873.4 609 856.3 618.6 863.5 629.4 880.5 619.3ZM975.9 680.8 958.9 698.1 966 701.3 983.1 683.2ZM918.9 635.6 901.9 647.7 909 656.1 926.1 643.5ZM911.8 627.2 894.8 638.7 901.9 647.7 918.9 635.6ZM904.7 618.2 887.6 629.2 894.8 638.7 911.8 627.2Z"/>
<path fill="#4999d4" d="M403 570.8 386 569.2 393.1 588.2 410.2 588.9ZM420.1 571.3 403 570.8 410.2 588.9 427.2 588.7ZM437.1 570.9 420.1 571.3 427.2 588.7 444.3 587.6ZM454.2 569.6 437.1 570.9 444.3 587.6 461.3 585.8ZM471.2 567.7 454.2 569.6 461.3 585.8 478.3 583.4ZM488.3 565.1 471.2 567.7 478.3 583.4 495.4 580.4ZM505.3 562 488.3 565.1 495.4 580.4 512.4 577ZM522.3 558.6 505.3 562 512.4 577 529.5 573.3ZM539.4 554.7 522.3 558.6 529.5 573.3 546.5 569.3ZM563.5 565 546.5 569.3 553.6 583.9 570.7 579.4ZM580.6 560.5 563.5 565 570.7 579.4 587.7 574.8ZM597.6 555.8 580.6 560.5 587.7 574.8 604.8 570ZM614.7 551 597.6 555.8 604.8 570 621.8 565.1ZM638.8 560.1 621.8 565.1 628.9 579.3 646 574.2ZM655.9 555 638.8 560.1 646 574.2 663 569ZM680 563.7 663 569 670.1 583.1 687.2 577.7ZM697.1 558.3 680 563.7 687.2 577.7 704.2 572.1ZM714.1 552.7 697.1 558.3 704.2 572.1 721.3 566.4ZM738.3 560.5 721.3 566.4 728.4 580.1 745.4 574.1ZM755.3 554.4 738.3 560.5 745.4 574.1 762.5 567.8ZM779.5 561.3 762.5 567.8 769.6 581 786.6 574.3ZM803.7 567.3 786.6 574.3 793.8 587.1 810.8 579.8ZM796.6 554.5 779.5 561.3 786.6 574.3 803.7 567.3ZM820.7 559.9 803.7 567.3 810.8 579.8 827.8 572.2ZM844.9 564.1 827.8 572.2 835 584.2 852 575.8ZM876.2 578 859.1 587.2 866.3 598.3 883.3 588.7ZM869.1 567 852 575.8 859.1 587.2 876.2 578ZM900.3 578.6 883.3 588.7 890.4 598.9 907.5 588.4ZM1010 645.5 993 663.3 1000.1 665 1017.1 646.6ZM1002.9 643.7 985.8 660.8 993 663.3 1010 645.5ZM995.8 641 978.7 657.5 985.8 660.8 1002.9 643.7ZM945.9 602.6 928.8 615.1 936 623 953 610ZM938.8 594.7 921.7 606.7 928.8 615.1 945.9 602.6ZM931.6 586.2 914.6 597.8 921.7 606.7 938.8 594.7Z"/>
<path fill="#49a4cb" d="M388.8 533.8 371.7 530.2 378.9 549.9 395.9 552.4ZM405.8 536 388.8 533.8 395.9 552.4 413 553.8ZM422.9 537 405.8 536 413 553.8 430 554ZM449.8 520 432.8 520.3 439.9 537 457 536ZM466.9 518.7 449.8 520 457 536 474 534.3ZM483.9 516.8 466.9 518.7 474 534.3 491 532ZM501 514.2 483.9 516.8 491 532 508.1 529ZM542.2 521.9 525.1 525.7 532.3 540.2 549.3 536.2ZM559.2 517.8 542.2 521.9 549.3 536.2 566.3 532ZM576.3 513.4 559.2 517.8 566.3 532 583.4 527.5ZM593.3 508.9 576.3 513.4 583.4 527.5 600.4 522.9ZM617.5 518.1 600.4 522.9 607.5 536.9 624.6 532ZM634.5 513.1 617.5 518.1 624.6 532 641.6 527ZM658.7 521.9 641.6 527 648.8 541 665.8 535.8ZM675.7 516.7 658.7 521.9 665.8 535.8 682.8 530.6ZM692.8 511.4 675.7 516.7 682.8 530.6 699.9 525.2ZM716.9 519.6 699.9 525.2 707 538.9 724.1 533.3ZM734 514 716.9 519.6 724.1 533.3 741.1 527.5ZM758.1 521.5 741.1 527.5 748.2 541 765.3 534.9ZM775.2 515.4 758.1 521.5 765.3 534.9 782.3 528.5ZM799.3 521.9 782.3 528.5 789.4 541.6 806.5 534.7ZM823.5 527.6 806.5 534.7 813.6 547.4 830.6 540ZM816.4 515 799.3 521.9 806.5 534.7 823.5 527.6ZM840.6 520.1 823.5 527.6 830.6 540 847.7 532.2ZM864.7 524 847.7 532.2 854.8 544 871.8 535.5ZM896 537.4 879 546.8 886.1 557.7 903.1 547.9ZM888.9 526.5 871.8 535.5 879 546.8 896 537.4ZM927.3 547.5 910.3 558.1 917.4 567.9 934.4 556.8ZM920.2 537.7 903.1 547.9 910.3 558.1 927.3 547.5ZM1029.8 607.2 1012.8 624.2 1019.9 626.3 1037 608.8ZM1022.7 604.8 1005.7 621.3 1012.8 624.2 1029.8 607.2ZM1015.6 601.7 998.6 617.7 1005.7 621.3 1022.7 604.8ZM965.7 561.6 948.7 574.2 955.8 582.2 972.8 569.1ZM958.6 553.6 941.6 565.7 948.7 574.2 965.7 561.6ZM951.5 545.1 934.4 556.8 941.6 565.7 958.6 553.6Z"/>
<path fill="#47aac1" d="M381.7 514.7 364.6 510 371.7 530.2 388.8 533.8ZM408.6 502 391.6 499.3 398.7 517.8 415.8 519.7ZM425.7 503.4 408.6 502 415.8 519.7 432.8 520.3ZM442.7 503.7 425.7 503.4 432.8 520.3 449.8 520ZM459.8 503 442.7 503.7 449.8 520 466.9 518.7ZM476.8 501.5 459.8 503 466.9 518.7 483.9 516.8ZM493.8 499.2 476.8 501.5 483.9 516.8 501 514.2ZM510.9 496.4 493.8 499.2 501 514.2 518 511.1ZM527.9 493.1 510.9 496.4 518 511.1 535 507.5ZM545 489.3 527.9 493.1 535 507.5 552.1 503.6ZM562 485.2 545 489.3 552.1 503.6 569.1 499.3ZM579 480.9 562 485.2 569.1 499.3 586.2 494.9ZM603.2 490.2 586.2 494.9 593.3 508.9 610.3 504.1ZM620.3 485.4 603.2 490.2 610.3 504.1 627.4 499.2ZM637.3 480.4 620.3 485.4 627.4 499.2 644.4 494.2ZM661.5 489.1 644.4 494.2 651.5 508.1 668.6 502.9ZM678.5 483.9 661.5 489.1 668.6 502.9 685.6 497.6ZM702.7 492.2 685.6 497.6 692.8 511.4 709.8 505.9ZM719.7 486.8 702.7 492.2 709.8 505.9 726.8 500.4ZM743.9 494.6 726.8 500.4 734 514 751 508.1ZM736.8 481.1 719.7 486.8 726.8 500.4 743.9 494.6ZM760.9 488.8 743.9 494.6 751 508.1 768.1 502.1ZM785.1 495.9 768.1 502.1 775.2 515.4 792.2 508.9ZM778 482.7 760.9 488.8 768.1 502.1 785.1 495.9ZM802.1 489.4 785.1 495.9 792.2 508.9 809.3 502.2ZM826.3 495.3 809.3 502.2 816.4 515 833.4 507.8ZM850.5 500.2 833.4 507.8 840.6 520.1 857.6 512.2ZM843.3 488 826.3 495.3 833.4 507.8 850.5 500.2ZM874.6 503.9 857.6 512.2 864.7 524 881.8 515.3ZM867.5 492.2 850.5 500.2 857.6 512.2 874.6 503.9ZM898.8 506.3 881.8 515.3 888.9 526.5 905.9 517.1ZM891.7 495.2 874.6 503.9 881.8 515.3 898.8 506.3ZM930.1 517.2 913.1 527.5 920.2 537.7 937.2 526.9ZM923 507.1 905.9 517.1 913.1 527.5 930.1 517.2ZM1046.9 589.9 1029.8 607.2 1037 608.8 1054 591.1ZM1039.8 588 1022.7 604.8 1029.8 607.2 1046.9 589.9ZM961.4 524.5 944.3 536.2 951.5 545.1 968.5 533ZM954.3 515.6 937.2 526.9 944.3 536.2 961.4 524.5ZM1035.4 562.2 1018.4 577.9 1025.5 582 1042.6 565.8ZM1028.3 557.9 1011.3 573.2 1018.4 577.9 1035.4 562.2ZM1021.2 553 1004.1 567.9 1011.3 573.2 1028.3 557.9ZM1014.1 547.5 997 562 1004.1 567.9 1021.2 553ZM1006.9 541.5 989.9 555.5 997 562 1014.1 547.5ZM999.8 534.9 982.8 548.5 989.9 555.5 1006.9 541.5ZM992.7 527.8 975.6 541 982.8 548.5 999.8 534.9Z"/>
<path fill="#46b0b7" d="M374.5 495.1 357.5 489.3 364.6 510 381.7 514.7ZM401.5 483.8 384.5 480.2 391.6 499.3 408.6 502ZM428.5 470 411.4 468.3 418.5 486 435.6 487ZM445.5 470.6 428.5 470 435.6 487 452.6 486.9ZM462.5 470.1 445.5 470.6 452.6 486.9 469.7 485.9ZM479.6 468.8 462.5 470.1 469.7 485.9 486.7 484.1ZM496.6 466.7 479.6 468.8 486.7 484.1 503.8 481.6ZM513.7 463.9 496.6 466.7 503.8 481.6 520.8 478.6ZM530.7 460.7 513.7 463.9 520.8 478.6 537.8 475ZM547.8 456.9 530.7 460.7 537.8 475 554.9 471.1ZM564.8 452.9 547.8 456.9 554.9 471.1 571.9 466.9ZM589 462.4 571.9 466.9 579 480.9 596.1 476.3ZM606 457.7 589 462.4 596.1 476.3 613.1 471.5ZM623 452.9 606 457.7 613.1 471.5 630.2 466.6ZM647.2 461.6 630.2 466.6 637.3 480.4 654.3 475.3ZM664.3 456.5 647.2 461.6 654.3 475.3 671.4 470.2ZM688.4 464.9 671.4 470.2 678.5 483.9 695.6 478.6ZM705.5 459.5 688.4 464.9 695.6 478.6 712.6 473.1ZM722.5 454.1 705.5 459.5 712.6 473.1 729.6 467.6ZM746.7 462 729.6 467.6 736.8 481.1 753.8 475.4ZM763.7 456.2 746.7 462 753.8 475.4 770.8 469.4ZM787.9 463.3 770.8 469.4 778 482.7 795 476.4ZM812.1 469.9 795 476.4 802.1 489.4 819.2 482.6ZM804.9 457 787.9 463.3 795 476.4 812.1 469.9ZM829.1 463 812.1 469.9 819.2 482.6 836.2 475.6ZM853.3 468.2 836.2 475.6 843.3 488 860.4 480.3ZM877.4 472.2 860.4 480.3 867.5 492.2 884.6 483.8ZM901.6 475 884.6 483.8 891.7 495.2 908.7 486ZM932.9 486.6 915.8 496.7 923 507.1 940 496.6ZM925.8 476.3 908.7 486 915.8 496.7 932.9 486.6ZM1071.1 573.4 1054 591.1 1061.1 591.5 1078.2 573.4ZM1063.9 572.6 1046.9 589.9 1054 591.1 1071.1 573.4ZM964.2 494.9 947.1 506.3 954.3 515.6 971.3 503.7ZM957.1 485.6 940 496.6 947.1 506.3 964.2 494.9ZM1059.6 549.3 1042.6 565.8 1049.7 568.7 1066.7 551.9ZM1052.5 546 1035.4 562.2 1042.6 565.8 1059.6 549.3ZM1045.3 542.2 1028.3 557.9 1035.4 562.2 1052.5 546ZM1038.2 537.7 1021.2 553 1028.3 557.9 1045.3 542.2ZM1031.1 532.6 1014.1 547.5 1021.2 553 1038.2 537.7ZM1024 526.9 1006.9 541.5 1014.1 547.5 1031.1 532.6ZM1016.8 520.8 999.8 534.9 1006.9 541.5 1024 526.9ZM1009.7 514.1 992.7 527.8 999.8 534.9 1016.8 520.8ZM1002.6 507 985.6 520.2 992.7 527.8 1009.7 514.1ZM995.5 499.4 978.4 512.2 985.6 520.2 1002.6 507Z"/>
<path fill="#49b6a6" d="M367.4 474.9 350.4 467.9 357.5 489.3 374.5 495.1ZM377.3 460.5 360.3 454.1 367.4 474.9 384.5 480.2ZM394.4 465.2 377.3 460.5 384.5 480.2 401.5 483.8ZM404.3 450 387.3 445.9 394.4 465.2 411.4 468.3ZM421.3 452.6 404.3 450 411.4 468.3 428.5 470ZM448.3 437.5 431.3 436.7 438.4 453.9 455.4 454ZM465.3 437.3 448.3 437.5 455.4 454 472.5 453.2ZM482.4 436.1 465.3 437.3 472.5 453.2 489.5 451.5ZM499.4 434.1 482.4 436.1 489.5 451.5 506.5 449.1ZM516.5 431.5 499.4 434.1 506.5 449.1 523.6 446.1ZM533.5 428.3 516.5 431.5 523.6 446.1 540.6 442.7ZM557.7 438.8 540.6 442.7 547.8 456.9 564.8 452.9ZM574.7 434.6 557.7 438.8 564.8 452.9 581.8 448.5ZM591.8 430.1 574.7 434.6 581.8 448.5 598.9 443.9ZM608.8 425.4 591.8 430.1 598.9 443.9 615.9 439.1ZM633 434.2 615.9 439.1 623 452.9 640.1 447.9ZM650 429.2 633 434.2 640.1 447.9 657.1 442.8ZM667.1 424.1 650 429.2 657.1 442.8 674.2 437.6ZM691.2 432.4 674.2 437.6 681.3 451.3 698.3 446ZM708.3 427.1 691.2 432.4 698.3 446 715.4 440.6ZM732.4 435.1 715.4 440.6 722.5 454.1 739.6 448.5ZM749.5 429.5 732.4 435.1 739.6 448.5 756.6 442.8ZM773.6 437 756.6 442.8 763.7 456.2 780.8 450.2ZM790.7 431 773.6 437 780.8 450.2 797.8 444ZM814.8 437.7 797.8 444 804.9 457 822 450.4ZM831.9 431 814.8 437.7 822 450.4 839 443.5ZM856.1 436.4 839 443.5 846.1 455.9 863.2 448.5ZM880.2 440.7 863.2 448.5 870.3 460.5 887.3 452.3ZM904.4 443.8 887.3 452.3 894.5 463.8 911.5 454.9ZM935.7 456 918.6 465.7 925.8 476.3 942.8 466.2ZM928.6 445.5 911.5 454.9 918.6 465.7 935.7 456ZM1088.1 555.7 1071.1 573.4 1078.2 573.4 1095.2 555.5ZM1081 555.1 1063.9 572.6 1071.1 573.4 1088.1 555.7ZM967 465 949.9 476.1 957.1 485.6 974.1 474.1ZM959.8 455.5 942.8 466.2 949.9 476.1 967 465ZM1076.6 532.7 1059.6 549.3 1066.7 551.9 1083.8 535ZM1069.5 529.7 1052.5 546 1059.6 549.3 1076.6 532.7ZM1062.4 526.1 1045.3 542.2 1052.5 546 1069.5 529.7ZM1012.5 486 995.5 499.4 1002.6 507 1019.6 493.2ZM1005.4 478.4 988.3 491.4 995.5 499.4 1012.5 486ZM998.3 470.4 981.2 482.9 988.3 491.4 1005.4 478.4ZM991.1 462.1 974.1 474.1 981.2 482.9 998.3 470.4Z"/>
<path fill="#64c25f" d="M331.8 361.4 314.7 346.5 321.9 373 338.9 386.2ZM341.7 349.5 324.7 335.4 331.8 361.4 348.8 373.7ZM378.6 334.1 361.5 324.3 368.7 347.6 385.7 355.9ZM405.5 327 388.5 320.2 395.6 341.6 412.7 347.2ZM432.5 316.6 415.5 312.2 422.6 332 439.6 335.4ZM459.5 303.5 442.4 301.1 449.5 319.5 466.6 321ZM476.5 304.6 459.5 303.5 466.6 321 483.6 321.3ZM493.5 304.7 476.5 304.6 483.6 321.3 500.7 320.7ZM520.5 286.8 503.5 288 510.6 303.7 527.6 302ZM537.5 284.9 520.5 286.8 527.6 302 544.7 299.6ZM578.8 293.3 561.7 296.6 568.8 310.7 585.9 307ZM595.8 289.5 578.8 293.3 585.9 307 602.9 303ZM612.8 285.5 595.8 289.5 602.9 303 620 298.8ZM629.9 281.3 612.8 285.5 620 298.8 637 294.4ZM654.1 289.9 637 294.4 644.1 307.5 661.2 302.8ZM671.1 285.3 654.1 289.9 661.2 302.8 678.2 298.1ZM688.1 280.6 671.1 285.3 678.2 298.1 695.3 293.4ZM712.3 288.6 695.3 293.4 702.4 306.1 719.4 301.3ZM729.3 283.8 712.3 288.6 719.4 301.3 736.5 296.4ZM753.5 291.5 736.5 296.4 743.6 309.1 760.6 304ZM746.4 279 729.3 283.8 736.5 296.4 753.5 291.5ZM770.6 286.5 753.5 291.5 760.6 304 777.7 298.9ZM794.7 293.8 777.7 298.9 784.8 311.4 801.8 306.1ZM787.6 281.5 770.6 286.5 777.7 298.9 794.7 293.8ZM811.8 288.5 794.7 293.8 801.8 306.1 818.9 300.7ZM835.9 295.2 818.9 300.7 826 312.9 843.1 307.2ZM828.8 283.2 811.8 288.5 818.9 300.7 835.9 295.2ZM853 289.4 835.9 295.2 843.1 307.2 860.1 301.2ZM877.1 295 860.1 301.2 867.2 312.9 884.3 306.5ZM870 283.4 853 289.4 860.1 301.2 877.1 295ZM901.3 299.7 884.3 306.5 891.4 317.9 908.4 310.8ZM894.2 288.5 877.1 295 884.3 306.5 901.3 299.7ZM925.5 303.3 908.4 310.8 915.6 321.8 932.6 314ZM918.3 292.5 901.3 299.7 908.4 310.8 925.5 303.3ZM949.6 305.8 932.6 314 939.7 324.6 956.8 316ZM942.5 295.4 925.5 303.3 932.6 314 949.6 305.8ZM1180.4 471.9 1163.4 487.3 1170.5 486.7 1187.6 471.7ZM980.9 316.5 963.9 326 971 335.9 988.1 326ZM973.8 306.9 956.8 316 963.9 326 980.9 316.5ZM966.7 297.1 949.6 305.8 956.8 316 973.8 306.9ZM1183.2 455.5 1166.2 470.9 1173.3 471.6 1190.4 456.7ZM1176.1 453.9 1159.1 469.6 1166.2 470.9 1183.2 455.5ZM1012.2 324.4 995.2 335.3 1002.3 344.3 1019.4 333ZM1005.1 315.5 988.1 326 995.2 335.3 1012.2 324.4ZM998 306.5 980.9 316.5 988.1 326 1005.1 315.5ZM1178.9 434 1161.9 449.7 1169 452 1186 436.7ZM1171.8 431.1 1154.7 447 1161.9 449.7 1178.9 434ZM1164.6 427.8 1147.6 443.9 1154.7 447 1171.8 431.1ZM1157.5 424.3 1140.5 440.5 1147.6 443.9 1164.6 427.8ZM1057.8 344.6 1040.7 357.8 1047.9 365.5 1064.9 352ZM1050.6 337 1033.6 349.7 1040.7 357.8 1057.8 344.6ZM1043.5 329.2 1026.5 341.5 1033.6 349.7 1050.6 337ZM1036.4 321.2 1019.4 333 1026.5 341.5 1043.5 329.2ZM1124.7 375.3 1107.6 391.1 1114.8 396.7 1131.8 380.7ZM1117.6 369.7 1100.5 385.2 1107.6 391.1 1124.7 375.3Z"/>
<path fill="#acb132" d="M317.5 308.1 300.5 289 307.6 318.5 324.7 335.4ZM327.5 297.2 310.4 279.2 317.5 308.1 334.6 324ZM374.3 274.2 357.2 262 364.3 287.2 381.4 297.8ZM411.1 255.7 394.1 247.3 401.2 269.9 418.3 276.9ZM438.1 247.1 421 241.3 428.2 262.1 445.2 266.6ZM465 235.8 448 232.1 455.1 251.2 472.2 253.9ZM482.1 238.1 465 235.8 472.2 253.9 489.2 255.2ZM492 222.5 475 220.5 482.1 238.1 499.1 239.2ZM509 223.3 492 222.5 499.1 239.2 516.2 239.3ZM526.1 223.2 509 223.3 516.2 239.3 533.2 238.4ZM543.1 222.2 526.1 223.2 533.2 238.4 550.3 236.8ZM560.2 220.5 543.1 222.2 550.3 236.8 567.3 234.6ZM577.2 218.2 560.2 220.5 567.3 234.6 584.3 231.9ZM594.3 215.4 577.2 218.2 584.3 231.9 601.4 228.7ZM611.3 212.3 594.3 215.4 601.4 228.7 618.4 225.3ZM628.3 208.9 611.3 212.3 618.4 225.3 635.5 221.6ZM645.4 205.2 628.3 208.9 635.5 221.6 652.5 217.7ZM669.6 213.7 652.5 217.7 659.6 230.2 676.7 226ZM686.6 209.5 669.6 213.7 676.7 226 693.7 221.8ZM703.6 205.3 686.6 209.5 693.7 221.8 710.8 217.5ZM727.8 213.1 710.8 217.5 717.9 229.6 734.9 225.2ZM720.7 201.1 703.6 205.3 710.8 217.5 727.8 213.1ZM744.8 208.7 727.8 213.1 734.9 225.2 752 220.7ZM769 216.1 752 220.7 759.1 232.7 776.1 228.1ZM761.9 204.2 744.8 208.7 752 220.7 769 216.1ZM786.1 211.5 769 216.1 776.1 228.1 793.2 223.4ZM803.1 206.8 786.1 211.5 793.2 223.4 810.2 218.6ZM827.3 213.6 810.2 218.6 817.3 230.4 834.4 225.3ZM820.1 202 803.1 206.8 810.2 218.6 827.3 213.6ZM844.3 208.5 827.3 213.6 834.4 225.3 851.4 220.1ZM868.5 214.6 851.4 220.1 858.6 231.6 875.6 225.9ZM892.6 220 875.6 225.9 882.7 237.2 899.8 231.1ZM885.5 208.8 868.5 214.6 875.6 225.9 892.6 220ZM909.7 213.7 892.6 220 899.8 231.1 916.8 224.6ZM933.9 217.7 916.8 224.6 923.9 235.3 941 228.1ZM965.1 230.5 948.1 238.5 955.2 248.6 972.3 240.4ZM958 220.5 941 228.1 948.1 238.5 965.1 230.5ZM989.3 231.6 972.3 240.4 979.4 250.1 996.4 240.9ZM982.2 222.1 965.1 230.5 972.3 240.4 989.3 231.6ZM1248.6 422.3 1231.6 432.5 1238.7 434.6 1255.7 425.6ZM1027.7 248.5 1010.7 259 1017.8 267.8 1034.9 256.9ZM1020.6 240 1003.6 250.1 1010.7 259 1027.7 248.5ZM1013.5 231.2 996.4 240.9 1003.6 250.1 1020.6 240ZM1265.6 414.1 1248.6 422.3 1255.7 425.6 1272.8 418.8ZM1258.5 409.5 1241.5 419 1248.6 422.3 1265.6 414.1ZM1251.4 405 1234.4 415.6 1241.5 419 1258.5 409.5ZM1244.3 400.5 1227.2 412.1 1234.4 415.6 1251.4 405ZM1237.1 396 1220.1 408.5 1227.2 412.1 1244.3 400.5ZM1230 391.5 1213 404.7 1220.1 408.5 1237.1 396ZM1222.9 387 1205.9 400.9 1213 404.7 1230 391.5ZM1215.8 382.5 1198.7 396.9 1205.9 400.9 1222.9 387ZM1080.4 275.3 1063.4 288.4 1070.5 295.8 1087.5 282.4ZM1073.3 268.2 1056.2 280.9 1063.4 288.4 1080.4 275.3ZM1066.1 260.8 1049.1 273.1 1056.2 280.9 1073.3 268.2ZM1059 253.2 1042 265.1 1049.1 273.1 1066.1 260.8ZM1051.9 245.4 1034.9 256.9 1042 265.1 1059 253.2ZM1175.8 327.2 1158.8 343.3 1165.9 348.5 1182.9 332.5ZM1168.7 321.8 1151.6 337.9 1158.8 343.3 1175.8 327.2ZM1161.6 316.3 1144.5 332.3 1151.6 337.9 1168.7 321.8ZM1154.4 310.7 1137.4 326.6 1144.5 332.3 1161.6 316.3ZM1147.3 305.1 1130.3 320.8 1137.4 326.6 1154.4 310.7ZM1140.2 299.3 1123.1 314.8 1130.3 320.8 1147.3 305.1ZM1333.8 406.2 1316.8 403.8 1323.9 414 1340.9 418.8ZM1343.7 397.9 1326.7 394.4 1333.8 406.2 1350.9 412.1Z"/>
<path fill="#d1a533" d="M310.4 279.2 293.4 257.9 300.5 289 317.5 308.1ZM320.3 269 303.3 248.8 310.4 279.2 327.5 297.2ZM330.3 258.2 313.2 239.1 320.3 269 337.4 285.9ZM377 236.7 360 223.5 367.1 249.5 384.2 260.9ZM387 223.6 369.9 211.2 377 236.7 394.1 247.3ZM413.9 219.6 396.9 210.3 404 233.5 421 241.3ZM450.8 197.7 433.8 191.5 440.9 212.3 457.9 217.2ZM477.8 187.4 460.7 183.3 467.8 202.2 484.9 205.2ZM494.8 190.1 477.8 187.4 484.9 205.2 501.9 206.9ZM521.8 176.4 504.7 175.1 511.8 191.6 528.9 192ZM538.8 176.6 521.8 176.4 528.9 192 545.9 191.5ZM555.8 176 538.8 176.6 545.9 191.5 563 190.3ZM572.9 174.7 555.8 176 563 190.3 580 188.4ZM589.9 172.7 572.9 174.7 580 188.4 597.1 186ZM607 170.3 589.9 172.7 597.1 186 614.1 183.2ZM624 167.4 607 170.3 614.1 183.2 631.1 180.1ZM641.1 164.2 624 167.4 631.1 180.1 648.2 176.6ZM658.1 160.8 641.1 164.2 648.2 176.6 665.2 173ZM682.3 169.1 665.2 173 672.3 185.2 689.4 181.2ZM675.1 157.1 658.1 160.8 665.2 173 682.3 169.1ZM699.3 165.2 682.3 169.1 689.4 181.2 706.4 177.1ZM716.3 161 699.3 165.2 706.4 177.1 723.5 172.9ZM740.5 168.6 723.5 172.9 730.6 184.8 747.6 180.5ZM733.4 156.8 716.3 161 723.5 172.9 740.5 168.6ZM757.6 164.2 740.5 168.6 747.6 180.5 764.7 176ZM774.6 159.7 757.6 164.2 764.7 176 781.7 171.5ZM798.8 166.8 781.7 171.5 788.8 183.3 805.9 178.5ZM791.6 155.1 774.6 159.7 781.7 171.5 798.8 166.8ZM815.8 162 798.8 166.8 805.9 178.5 822.9 173.7ZM840 168.6 822.9 173.7 830.1 185.3 847.1 180.2ZM832.8 156.9 815.8 162 822.9 173.7 840 168.6ZM857 163.3 840 168.6 847.1 180.2 864.1 174.8ZM881.2 169.1 864.1 174.8 871.3 186.2 888.3 180.5ZM874.1 157.7 857 163.3 864.1 174.8 881.2 169.1ZM905.4 174.3 888.3 180.5 895.4 191.7 912.5 185.4ZM898.2 163.1 881.2 169.1 888.3 180.5 905.4 174.3ZM922.4 167.7 905.4 174.3 912.5 185.4 929.5 178.6ZM946.6 171.4 929.5 178.6 936.6 189.4 953.7 181.9ZM977.9 184.1 960.8 192.3 967.9 202.4 985 194ZM970.7 174 953.7 181.9 960.8 192.3 977.9 184.1ZM1009.1 194.2 992.1 203.6 999.2 213 1016.3 203.3ZM1002 184.9 985 194 992.1 203.6 1009.1 194.2ZM994.9 175.3 977.9 184.1 985 194 1002 184.9ZM1040.4 201.5 1023.4 212.2 1030.5 220.8 1047.6 209.8ZM1033.3 193 1016.3 203.3 1023.4 212.2 1040.4 201.5ZM1026.2 184.2 1009.1 194.2 1016.3 203.3 1033.3 193ZM1100.2 234.4 1083.2 247.9 1090.3 254.9 1107.4 241ZM1093.1 227.5 1076.1 240.7 1083.2 247.9 1100.2 234.4ZM1086 220.5 1068.9 233.3 1076.1 240.7 1093.1 227.5ZM1078.9 213.3 1061.8 225.7 1068.9 233.3 1086 220.5ZM1071.7 205.8 1054.7 217.9 1061.8 225.7 1078.9 213.3ZM1288.3 368.1 1271.2 375.6 1278.4 382.4 1295.4 376.4ZM1281.1 360.2 1264.1 369 1271.2 375.6 1288.3 368.1ZM1274 352.7 1257 362.7 1264.1 369 1281.1 360.2ZM1266.9 345.5 1249.9 356.6 1257 362.7 1274 352.7ZM1259.8 338.6 1242.7 350.6 1249.9 356.6 1266.9 345.5ZM1252.6 331.9 1235.6 344.7 1242.7 350.6 1259.8 338.6ZM1305.3 362.8 1288.3 368.1 1295.4 376.4 1312.4 372.7ZM1298.2 353.4 1281.1 360.2 1288.3 368.1 1305.3 362.8ZM1322.4 360 1305.3 362.8 1312.4 372.7 1329.5 371.8Z"/>
<path fill="#e8a036" d="M303.3 248.8 286.2 225 293.4 257.9 310.4 279.2ZM313.2 239.1 296.2 216.6 303.3 248.8 320.3 269ZM323.1 229 306.1 207.6 313.2 239.1 330.3 258.2ZM333 218.4 316 198.1 323.1 229 340.2 247ZM379.8 198.7 362.8 184.4 369.9 211.2 387 223.6ZM389.8 186 372.7 172.5 379.8 198.7 396.9 210.3ZM416.7 183.4 399.7 173.1 406.8 196.9 423.8 205.6ZM426.6 169.9 409.6 160.2 416.7 183.4 433.8 191.5ZM453.6 163.5 436.5 156.4 443.7 177.5 460.7 183.3ZM811.5 121.4 794.4 126.5 801.6 138.4 818.6 133.4ZM828.5 116 811.5 121.4 818.6 133.4 835.6 128ZM852.7 122.4 835.6 128 842.8 139.9 859.8 134.3ZM845.6 110.3 828.5 116 835.6 128 852.7 122.4ZM869.7 116.4 852.7 122.4 859.8 134.3 876.9 128.3ZM893.9 121.9 876.9 128.3 884 140.1 901 133.7ZM918.1 126.8 901 133.7 908.1 145.3 925.2 138.3ZM910.9 115 893.9 121.9 901 133.7 918.1 126.8ZM942.2 130.9 925.2 138.3 932.3 149.6 949.4 142.1ZM935.1 119.4 918.1 126.8 925.2 138.3 942.2 130.9ZM966.4 133.9 949.4 142.1 956.5 153 973.5 144.7ZM959.3 122.8 942.2 130.9 949.4 142.1 966.4 133.9ZM990.6 135.8 973.5 144.7 980.6 155.2 997.7 146.1ZM1021.9 146 1004.8 156.1 1011.9 165.8 1029 155.5ZM1014.7 136.2 997.7 146.1 1004.8 156.1 1021.9 146ZM1060.3 161.9 1043.2 173.4 1050.4 181.9 1067.4 170.1ZM1053.1 153.4 1036.1 164.6 1043.2 173.4 1060.3 161.9ZM1046 144.5 1029 155.5 1036.1 164.6 1053.1 153.4ZM1134.3 205.6 1117.3 220.3 1124.4 226.6 1141.4 211.7ZM1127.2 199.4 1110.1 213.8 1117.3 220.3 1134.3 205.6ZM1120.1 193 1103 207.1 1110.1 213.8 1127.2 199.4ZM1112.9 186.4 1095.9 200.2 1103 207.1 1120.1 193ZM1105.8 179.6 1088.8 193.1 1095.9 200.2 1112.9 186.4ZM1098.7 172.5 1081.6 185.7 1088.8 193.1 1105.8 179.6ZM1091.6 165.2 1074.5 178.1 1081.6 185.7 1098.7 172.5ZM1286.7 310.1 1269.7 320.3 1276.8 327.9 1293.9 319ZM1279.6 301.7 1262.6 312.9 1269.7 320.3 1286.7 310.1ZM1272.5 293.8 1255.4 305.9 1262.6 312.9 1279.6 301.7ZM1265.4 286.2 1248.3 299.2 1255.4 305.9 1272.5 293.8Z"/>
<path fill="#414fb5" d="M498.5 767.5 481.4 774.3 488.5 794.8 505.6 787.3ZM539.7 772.5 522.6 779.9 529.8 799.5 546.8 791.6ZM556.7 765.3 539.7 772.5 546.8 791.6 563.8 783.8ZM597.9 768.6 580.9 776.1 588 794.4 605 786.4ZM639.1 770.6 622.1 778.4 629.2 795.9 646.3 787.5ZM680.3 771 663.3 779.2 670.4 795.8 687.5 787ZM704.5 778.1 687.5 787 694.6 803.1 711.6 793.6ZM721.5 769.2 704.5 778.1 711.6 793.6 728.7 784ZM745.7 774.4 728.7 784 735.8 798.8 752.8 788.5ZM769.9 778 752.8 788.5 760 802.4 777 791.2ZM801.2 792 784.1 804.2 791.3 817 808.3 803.9ZM794 779.8 777 791.2 784.1 804.2 801.2 792ZM832.5 801.2 815.4 815.4 822.5 826.7 839.6 811.4ZM825.3 790.6 808.3 803.9 815.4 815.4 832.5 801.2Z"/>
<path fill="#4161c1" d="M477.1 711 460 715.8 467.2 734.9 484.2 729.4ZM494.1 706 477.1 711 484.2 729.4 501.3 723.8ZM511.2 700.8 494.1 706 501.3 723.8 518.3 718.2ZM552.4 706.7 535.3 712.5 542.5 729.7 559.5 723.6ZM569.4 701 552.4 706.7 559.5 723.6 576.5 717.4ZM593.6 711.3 576.5 717.4 583.7 734.2 600.7 727.7ZM610.6 705.2 593.6 711.3 600.7 727.7 617.8 721.2ZM651.8 708.3 634.8 714.7 641.9 730.6 659 723.8ZM668.9 701.8 651.8 708.3 659 723.8 676 716.9ZM693 710 676 716.9 683.1 732.1 700.2 724.8ZM710.1 703 693 710 700.2 724.8 717.2 717.4ZM734.3 709.8 717.2 717.4 724.3 731.7 741.4 723.7ZM758.4 715.5 741.4 723.7 748.5 737.5 765.5 728.8ZM782.6 719.8 765.5 728.8 772.7 741.9 789.7 732.3ZM806.8 722.6 789.7 732.3 796.8 744.6 813.9 734.2ZM830.9 723.5 813.9 734.2 821 745.5 838.1 734.1ZM869.3 740.8 852.3 754 859.4 763.3 876.5 749.2ZM862.2 731.8 845.2 744.3 852.3 754 869.3 740.8Z"/>
<path fill="#4cba96" d="M370.2 440.1 353.2 432.4 360.3 454.1 377.3 460.5ZM397.2 431.1 380.1 425.9 387.3 445.9 404.3 450ZM424.1 419 407.1 416 414.2 434.6 431.3 436.7ZM441.2 420.6 424.1 419 431.3 436.7 448.3 437.5ZM458.2 421 441.2 420.6 448.3 437.5 465.3 437.3ZM485.2 403.4 468.1 404.3 475.3 420.4 492.3 418.9ZM502.2 401.6 485.2 403.4 492.3 418.9 509.3 416.6ZM519.3 399 502.2 401.6 509.3 416.6 526.4 413.8ZM543.4 410.4 526.4 413.8 533.5 428.3 550.5 424.6ZM560.5 406.5 543.4 410.4 550.5 424.6 567.6 420.6ZM577.5 402.4 560.5 406.5 567.6 420.6 584.6 416.2ZM594.5 397.9 577.5 402.4 584.6 416.2 601.7 411.7ZM618.7 406.9 601.7 411.7 608.8 425.4 625.8 420.5ZM635.8 402 618.7 406.9 625.8 420.5 642.9 415.6ZM652.8 397 635.8 402 642.9 415.6 659.9 410.5ZM677 405.4 659.9 410.5 667.1 424.1 684.1 418.9ZM694 400.2 677 405.4 684.1 418.9 701.1 413.6ZM718.2 408.3 701.1 413.6 708.3 427.1 725.3 421.7ZM735.2 402.9 718.2 408.3 725.3 421.7 742.3 416.2ZM752.3 397.4 735.2 402.9 742.3 416.2 759.4 410.6ZM776.4 404.9 759.4 410.6 766.5 423.8 783.6 418ZM793.5 399.1 776.4 404.9 783.6 418 800.6 412ZM817.6 405.8 800.6 412 807.7 424.8 824.8 418.4ZM841.8 411.8 824.8 418.4 831.9 431 848.9 424.1ZM866 416.9 848.9 424.1 856.1 436.4 873.1 428.9ZM858.8 404.8 841.8 411.8 848.9 424.1 866 416.9ZM883 409.3 866 416.9 873.1 428.9 890.1 421ZM914.3 423.8 897.3 432.5 904.4 443.8 921.4 434.8ZM907.2 412.7 890.1 421 897.3 432.5 914.3 423.8ZM938.5 425.3 921.4 434.8 928.6 445.5 945.6 435.6ZM931.3 414.8 914.3 423.8 921.4 434.8 938.5 425.3ZM1105.1 538.1 1088.1 555.7 1095.2 555.5 1112.3 537.7ZM1098 537.7 1081 555.1 1088.1 555.7 1105.1 538.1ZM969.8 434.9 952.7 445.7 959.8 455.5 976.9 444.3ZM962.6 425.3 945.6 435.6 952.7 445.7 969.8 434.9ZM1100.8 518 1083.8 535 1090.9 536.7 1107.9 519.6ZM1093.7 515.9 1076.6 532.7 1083.8 535 1100.8 518ZM1086.6 513.1 1069.5 529.7 1076.6 532.7 1093.7 515.9ZM1008.2 449.5 991.1 462.1 998.3 470.4 1015.3 457.4ZM1001.1 441.2 984 453.3 991.1 462.1 1008.2 449.5ZM993.9 432.5 976.9 444.3 984 453.3 1001.1 441.2ZM1075.1 481 1058.1 496.6 1065.2 501.6 1082.2 485.6ZM1068 475.8 1050.9 491.2 1058.1 496.6 1075.1 481ZM1060.8 470.3 1043.8 485.3 1050.9 491.2 1068 475.8ZM1053.7 464.3 1036.7 479 1043.8 485.3 1060.8 470.3Z"/>
<path fill="#50bc8a" d="M363.1 418.9 346 409.8 353.2 432.4 370.2 440.1ZM390 411.5 373 405.1 380.1 425.9 397.2 431.1ZM417 400.7 400 396.8 407.1 416 424.1 419ZM444 387.2 426.9 385.2 434 403.2 451.1 404.3ZM461 387.9 444 387.2 451.1 404.3 468.1 404.3ZM478 387.5 461 387.9 468.1 404.3 485.2 403.4ZM495.1 386.2 478 387.5 485.2 403.4 502.2 401.6ZM512.1 384.1 495.1 386.2 502.2 401.6 519.3 399ZM529.2 381.4 512.1 384.1 519.3 399 536.3 395.9ZM546.2 378.1 529.2 381.4 536.3 395.9 553.3 392.4ZM563.3 374.4 546.2 378.1 553.3 392.4 570.4 388.4ZM580.3 370.3 563.3 374.4 570.4 388.4 587.4 384.1ZM604.5 379.6 587.4 384.1 594.5 397.9 611.6 393.3ZM621.5 374.9 604.5 379.6 611.6 393.3 628.6 388.5ZM638.6 370.1 621.5 374.9 628.6 388.5 645.7 383.5ZM662.7 378.5 645.7 383.5 652.8 397 669.8 391.9ZM679.8 373.5 662.7 378.5 669.8 391.9 686.9 386.8ZM696.8 368.3 679.8 373.5 686.9 386.8 703.9 381.6ZM721 376.4 703.9 381.6 711.1 394.9 728.1 389.6ZM738 371.1 721 376.4 728.1 389.6 745.1 384.2ZM762.2 378.8 745.1 384.2 752.3 397.4 769.3 391.8ZM779.2 373.2 762.2 378.8 769.3 391.8 786.3 386.1ZM803.4 380.3 786.3 386.1 793.5 399.1 810.5 393ZM820.4 374.3 803.4 380.3 810.5 393 827.6 386.8ZM844.6 380.4 827.6 386.8 834.7 399.3 851.7 392.6ZM868.8 385.7 851.7 392.6 858.8 404.8 875.9 397.6ZM861.6 373.7 844.6 380.4 851.7 392.6 868.8 385.7ZM892.9 390 875.9 397.6 883 409.3 900.1 401.4ZM885.8 378.4 868.8 385.7 875.9 397.6 892.9 390ZM917.1 393.1 900.1 401.4 907.2 412.7 924.2 404ZM910 382 892.9 390 900.1 401.4 917.1 393.1ZM941.3 394.9 924.2 404 931.3 414.8 948.4 405.2ZM934.1 384.3 917.1 393.1 924.2 404 941.3 394.9ZM1122.2 520.8 1105.1 538.1 1112.3 537.7 1129.3 520.4ZM972.6 404.9 955.5 415.4 962.6 425.3 979.7 414.4ZM965.4 395.2 948.4 405.2 955.5 415.4 972.6 404.9ZM1117.8 501.1 1100.8 518 1107.9 519.6 1125 502.6ZM1110.7 499.1 1093.7 515.9 1100.8 518 1117.8 501.1ZM1011 420.3 993.9 432.5 1001.1 441.2 1018.1 428.5ZM1003.8 411.8 986.8 423.6 993.9 432.5 1011 420.3ZM996.7 403 979.7 414.4 986.8 423.6 1003.8 411.8ZM1106.4 473.4 1089.3 489.7 1096.5 493.4 1113.5 476.8ZM1099.3 469.4 1082.2 485.6 1089.3 489.7 1106.4 473.4ZM1092.1 465 1075.1 481 1082.2 485.6 1099.3 469.4ZM1085 460.1 1068 475.8 1075.1 481 1092.1 465ZM1077.9 454.9 1060.8 470.3 1068 475.8 1085 460.1ZM1070.8 449.2 1053.7 464.3 1060.8 470.3 1077.9 454.9ZM1063.6 443.1 1046.6 457.9 1053.7 464.3 1070.8 449.2ZM1056.5 436.7 1039.5 451.1 1046.6 457.9 1063.6 443.1ZM1049.4 429.9 1032.3 443.9 1039.5 451.1 1056.5 436.7ZM1042.3 422.7 1025.2 436.4 1032.3 443.9 1049.4 429.9Z"/>
<path fill="#53bf7d" d="M356 396.8 338.9 386.2 346 409.8 363.1 418.9ZM392.8 376.8 375.8 369.9 382.9 391.1 400 396.8ZM419.8 366.6 402.8 362.1 409.9 381.8 426.9 385.2ZM436.8 369.4 419.8 366.6 426.9 385.2 444 387.2ZM463.8 354.5 446.8 353.5 453.9 370.9 470.9 371.2ZM480.8 354.5 463.8 354.5 470.9 371.2 488 370.5ZM497.9 353.4 480.8 354.5 488 370.5 505 368.9ZM514.9 351.6 497.9 353.4 505 368.9 522 366.6ZM532 349.1 514.9 351.6 522 366.6 539.1 363.7ZM549 346 532 349.1 539.1 363.7 556.1 360.2ZM566 342.4 549 346 556.1 360.2 573.2 356.4ZM590.2 352.3 573.2 356.4 580.3 370.3 597.3 366ZM583.1 338.5 566 342.4 573.2 356.4 590.2 352.3ZM607.3 347.9 590.2 352.3 597.3 366 614.4 361.4ZM624.3 343.3 607.3 347.9 614.4 361.4 631.4 356.7ZM641.3 338.6 624.3 343.3 631.4 356.7 648.5 351.8ZM665.5 346.9 648.5 351.8 655.6 365.2 672.6 360.2ZM682.6 342 665.5 346.9 672.6 360.2 689.7 355.1ZM706.7 350 689.7 355.1 696.8 368.3 713.8 363.2ZM723.8 344.9 706.7 350 713.8 363.2 730.9 358ZM740.8 339.8 723.8 344.9 730.9 358 747.9 352.7ZM765 347.4 747.9 352.7 755.1 365.7 772.1 360.3ZM782 342 765 347.4 772.1 360.3 789.1 354.8ZM806.2 349.1 789.1 354.8 796.3 367.5 813.3 361.7ZM823.2 343.3 806.2 349.1 813.3 361.7 830.3 355.7ZM847.4 349.5 830.3 355.7 837.5 368.1 854.5 361.6ZM871.6 354.9 854.5 361.6 861.6 373.7 878.7 366.7ZM864.4 343 847.4 349.5 854.5 361.6 871.6 354.9ZM895.7 359.3 878.7 366.7 885.8 378.4 902.8 370.7ZM888.6 347.9 871.6 354.9 878.7 366.7 895.7 359.3ZM919.9 362.7 902.8 370.7 910 382 927 373.6ZM912.8 351.6 895.7 359.3 902.8 370.7 919.9 362.7ZM944.1 364.7 927 373.6 934.1 384.3 951.2 375.1ZM936.9 354.2 919.9 362.7 927 373.6 944.1 364.7ZM1146.3 503.5 1129.3 520.4 1136.4 519.3 1153.5 502.6ZM1139.2 503.8 1122.2 520.8 1129.3 520.4 1146.3 503.5ZM975.3 375.1 958.3 385.2 965.4 395.2 982.5 384.6ZM968.2 365.3 951.2 375.1 958.3 385.2 975.3 375.1ZM1142 485.9 1125 502.6 1132.1 503.5 1149.1 486.9ZM1134.9 484.4 1117.8 501.1 1125 502.6 1142 485.9ZM1013.8 391 996.7 403 1003.8 411.8 1020.9 399.4ZM1006.6 382.4 989.6 393.9 996.7 403 1013.8 391ZM999.5 373.5 982.5 384.6 989.6 393.9 1006.6 382.4ZM1130.6 460.3 1113.5 476.8 1120.6 479.9 1137.7 463.3ZM1123.4 456.9 1106.4 473.4 1113.5 476.8 1130.6 460.3ZM1116.3 453.1 1099.3 469.4 1106.4 473.4 1123.4 456.9ZM1109.2 448.8 1092.1 465 1099.3 469.4 1116.3 453.1ZM1102.1 444.2 1085 460.1 1092.1 465 1109.2 448.8ZM1094.9 439.2 1077.9 454.9 1085 460.1 1102.1 444.2ZM1087.8 433.7 1070.8 449.2 1077.9 454.9 1094.9 439.2ZM1080.7 428 1063.6 443.1 1070.8 449.2 1087.8 433.7ZM1073.6 421.9 1056.5 436.7 1063.6 443.1 1080.7 428ZM1066.4 415.4 1049.4 429.9 1056.5 436.7 1073.6 421.9ZM1059.3 408.6 1042.3 422.7 1049.4 429.9 1066.4 415.4ZM1052.2 401.5 1035.1 415.3 1042.3 422.7 1059.3 408.6ZM1045.1 394.1 1028 407.5 1035.1 415.3 1052.2 401.5Z"/>
<path fill="#5ac16e" d="M348.8 373.7 331.8 361.4 338.9 386.2 356 396.8ZM385.7 355.9 368.7 347.6 375.8 369.9 392.8 376.8ZM412.7 347.2 395.6 341.6 402.8 362.1 419.8 366.6ZM439.6 335.4 422.6 332 429.7 351.1 446.8 353.5ZM456.7 337.3 439.6 335.4 446.8 353.5 463.8 354.5ZM483.6 321.3 466.6 321 473.7 338 490.8 337.6ZM500.7 320.7 483.6 321.3 490.8 337.6 507.8 336.3ZM517.7 319.1 500.7 320.7 507.8 336.3 524.8 334.2ZM534.8 316.9 517.7 319.1 524.8 334.2 541.9 331.5ZM551.8 314 534.8 316.9 541.9 331.5 558.9 328.3ZM568.8 310.7 551.8 314 558.9 328.3 576 324.7ZM593 320.7 576 324.7 583.1 338.5 600.1 334.3ZM610.1 316.4 593 320.7 600.1 334.3 617.2 329.9ZM627.1 312 610.1 316.4 617.2 329.9 634.2 325.3ZM651.3 320.6 634.2 325.3 641.3 338.6 658.4 333.7ZM668.3 315.8 651.3 320.6 658.4 333.7 675.4 328.9ZM685.3 311 668.3 315.8 675.4 328.9 692.5 324ZM709.5 319 692.5 324 699.6 337 716.6 331.9ZM726.6 314 709.5 319 716.6 331.9 733.7 326.9ZM750.7 321.8 733.7 326.9 740.8 339.8 757.8 334.6ZM743.6 309.1 726.6 314 733.7 326.9 750.7 321.8ZM767.8 316.6 750.7 321.8 757.8 334.6 774.9 329.3ZM784.8 311.4 767.8 316.6 774.9 329.3 791.9 324ZM809 318.5 791.9 324 799.1 336.5 816.1 330.9ZM833.1 325.1 816.1 330.9 823.2 343.3 840.3 337.3ZM826 312.9 809 318.5 816.1 330.9 833.1 325.1ZM850.2 319.1 833.1 325.1 840.3 337.3 857.3 331.1ZM874.3 324.6 857.3 331.1 864.4 343 881.5 336.3ZM867.2 312.9 850.2 319.1 857.3 331.1 874.3 324.6ZM898.5 329.2 881.5 336.3 888.6 347.9 905.6 340.5ZM891.4 317.9 874.3 324.6 881.5 336.3 898.5 329.2ZM922.7 332.7 905.6 340.5 912.8 351.6 929.8 343.5ZM915.6 321.8 898.5 329.2 905.6 340.5 922.7 332.7ZM946.8 335 929.8 343.5 936.9 354.2 954 345.3ZM939.7 324.6 922.7 332.7 929.8 343.5 946.8 335ZM1163.4 487.3 1146.3 503.5 1153.5 502.6 1170.5 486.7ZM978.1 345.6 961.1 355.4 968.2 365.3 985.3 355.1ZM971 335.9 954 345.3 961.1 355.4 978.1 345.6ZM1159.1 469.6 1142 485.9 1149.1 486.9 1166.2 470.9ZM1151.9 468 1134.9 484.4 1142 485.9 1159.1 469.6ZM1009.4 353.2 992.4 364.4 999.5 373.5 1016.6 361.9ZM1002.3 344.3 985.3 355.1 992.4 364.4 1009.4 353.2ZM1154.7 447 1137.7 463.3 1144.8 465.9 1161.9 449.7ZM1147.6 443.9 1130.6 460.3 1137.7 463.3 1154.7 447ZM1140.5 440.5 1123.4 456.9 1130.6 460.3 1147.6 443.9ZM1133.4 436.7 1116.3 453.1 1123.4 456.9 1140.5 440.5ZM1069.2 387.3 1052.2 401.5 1059.3 408.6 1076.4 394.1ZM1062.1 380.3 1045.1 394.1 1052.2 401.5 1069.2 387.3ZM1055 373.1 1037.9 386.5 1045.1 394.1 1062.1 380.3ZM1047.9 365.5 1030.8 378.5 1037.9 386.5 1055 373.1ZM1040.7 357.8 1023.7 370.3 1030.8 378.5 1047.9 365.5Z"/>
<path fill="#88ba42" d="M334.6 324 317.5 308.1 324.7 335.4 341.7 349.5ZM344.5 312.2 327.5 297.2 334.6 324 351.6 337.1ZM381.4 297.8 364.3 287.2 371.5 311.2 388.5 320.2ZM391.3 284 374.3 274.2 381.4 297.8 398.4 306ZM418.3 276.9 401.2 269.9 408.3 291.5 425.4 297.2ZM445.2 266.6 428.2 262.1 435.3 282 452.3 285.4ZM462.3 269.7 445.2 266.6 452.3 285.4 469.4 287.4ZM489.2 255.2 472.2 253.9 479.3 271.3 496.3 271.8ZM506.3 255.5 489.2 255.2 496.3 271.8 513.4 271.3ZM523.3 254.8 506.3 255.5 513.4 271.3 530.4 270ZM540.3 253.3 523.3 254.8 530.4 270 547.5 268ZM557.4 251.2 540.3 253.3 547.5 268 564.5 265.4ZM574.4 248.5 557.4 251.2 564.5 265.4 581.6 262.3ZM591.5 245.4 574.4 248.5 581.6 262.3 598.6 258.8ZM608.5 241.9 591.5 245.4 598.6 258.8 615.6 255.1ZM625.6 238.2 608.5 241.9 615.6 255.1 632.7 251.1ZM649.7 247 632.7 251.1 639.8 264 656.8 259.7ZM642.6 234.3 625.6 238.2 632.7 251.1 649.7 247ZM666.8 242.8 649.7 247 656.8 259.7 673.9 255.3ZM683.8 238.4 666.8 242.8 673.9 255.3 690.9 250.9ZM708 246.4 690.9 250.9 698.1 263.4 715.1 258.8ZM700.8 234.1 683.8 238.4 690.9 250.9 708 246.4ZM725 241.9 708 246.4 715.1 258.8 732.1 254.2ZM742.1 237.3 725 241.9 732.1 254.2 749.2 249.5ZM766.2 244.8 749.2 249.5 756.3 261.8 773.3 257ZM759.1 232.7 742.1 237.3 749.2 249.5 766.2 244.8ZM783.3 240.1 766.2 244.8 773.3 257 790.4 252.2ZM807.4 247.2 790.4 252.2 797.5 264.3 814.6 259.2ZM800.3 235.3 783.3 240.1 790.4 252.2 807.4 247.2ZM824.5 242.2 807.4 247.2 814.6 259.2 831.6 254ZM848.6 248.6 831.6 254 838.7 265.8 855.8 260.3ZM841.5 237 824.5 242.2 831.6 254 848.6 248.6ZM865.7 243 848.6 248.6 855.8 260.3 872.8 254.5ZM889.8 248.4 872.8 254.5 879.9 265.9 897 259.6ZM882.7 237.2 865.7 243 872.8 254.5 889.8 248.4ZM914 252.9 897 259.6 904.1 270.6 921.1 263.7ZM906.9 242 889.8 248.4 897 259.6 914 252.9ZM938.2 256.4 921.1 263.7 928.3 274.4 945.3 266.8ZM931.1 245.9 914 252.9 921.1 263.7 938.2 256.4ZM962.4 258.7 945.3 266.8 952.4 277 969.5 268.6ZM955.2 248.6 938.2 256.4 945.3 266.8 962.4 258.7ZM1214.5 444.3 1197.5 457.5 1204.6 457.9 1221.6 445.4ZM993.6 268.9 976.6 278.3 983.7 287.9 1000.8 278.1ZM986.5 259.6 969.5 268.6 976.6 278.3 993.6 268.9ZM1224.4 430.1 1207.4 442.8 1214.5 444.3 1231.6 432.5ZM1217.3 427.7 1200.3 441 1207.4 442.8 1224.4 430.1ZM1210.2 425 1193.1 439 1200.3 441 1217.3 427.7ZM1032.1 284.8 1015 295.9 1022.1 304.5 1039.2 293ZM1024.9 276.4 1007.9 287.1 1015 295.9 1032.1 284.8ZM1017.8 267.8 1000.8 278.1 1007.9 287.1 1024.9 276.4ZM1213 404.7 1195.9 419 1203.1 422.1 1220.1 408.5ZM1205.9 400.9 1188.8 415.6 1195.9 419 1213 404.7ZM1198.7 396.9 1181.7 412.1 1188.8 415.6 1205.9 400.9ZM1191.6 392.8 1174.6 408.3 1181.7 412.1 1198.7 396.9ZM1184.5 388.5 1167.4 404.3 1174.6 408.3 1191.6 392.8ZM1177.4 384.1 1160.3 400.1 1167.4 404.3 1184.5 388.5ZM1091.9 316.9 1074.8 331 1081.9 338 1099 323.5ZM1084.7 310.1 1067.7 323.8 1074.8 331 1091.9 316.9ZM1077.6 303.1 1060.6 316.4 1067.7 323.8 1084.7 310.1ZM1070.5 295.8 1053.4 308.8 1060.6 316.4 1077.6 303.1ZM1063.4 288.4 1046.3 301 1053.4 308.8 1070.5 295.8ZM1056.2 280.9 1039.2 293 1046.3 301 1063.4 288.4Z"/>
<path fill="#6dc056" d="M351.6 337.1 334.6 324 341.7 349.5 358.8 360.8ZM361.5 324.3 344.5 312.2 351.6 337.1 368.7 347.6ZM388.5 320.2 371.5 311.2 378.6 334.1 395.6 341.6ZM415.5 312.2 398.4 306 405.5 327 422.6 332ZM425.4 297.2 408.3 291.5 415.5 312.2 432.5 316.6ZM442.4 301.1 425.4 297.2 432.5 316.6 449.5 319.5ZM469.4 287.4 452.3 285.4 459.5 303.5 476.5 304.6ZM486.4 288.2 469.4 287.4 476.5 304.6 493.5 304.7ZM503.5 288 486.4 288.2 493.5 304.7 510.6 303.7ZM554.6 282.4 537.5 284.9 544.7 299.6 561.7 296.6ZM571.6 279.4 554.6 282.4 561.7 296.6 578.8 293.3ZM588.7 275.9 571.6 279.4 578.8 293.3 595.8 289.5ZM605.7 272.2 588.7 275.9 595.8 289.5 612.8 285.5ZM622.8 268.2 605.7 272.2 612.8 285.5 629.9 281.3ZM646.9 276.9 629.9 281.3 637 294.4 654.1 289.9ZM639.8 264 622.8 268.2 629.9 281.3 646.9 276.9ZM664 272.5 646.9 276.9 654.1 289.9 671.1 285.3ZM681 268 664 272.5 671.1 285.3 688.1 280.6ZM705.2 275.9 688.1 280.6 695.3 293.4 712.3 288.6ZM698.1 263.4 681 268 688.1 280.6 705.2 275.9ZM722.2 271.2 705.2 275.9 712.3 288.6 729.3 283.8ZM739.3 266.5 722.2 271.2 729.3 283.8 746.4 279ZM763.4 274.1 746.4 279 753.5 291.5 770.6 286.5ZM780.5 269.2 763.4 274.1 770.6 286.5 787.6 281.5ZM804.6 276.4 787.6 281.5 794.7 293.8 811.8 288.5ZM797.5 264.3 780.5 269.2 787.6 281.5 804.6 276.4ZM821.7 271.2 804.6 276.4 811.8 288.5 828.8 283.2ZM845.8 277.6 828.8 283.2 835.9 295.2 853 289.4ZM838.7 265.8 821.7 271.2 828.8 283.2 845.8 277.6ZM862.9 271.9 845.8 277.6 853 289.4 870 283.4ZM887.1 277.2 870 283.4 877.1 295 894.2 288.5ZM911.2 281.6 894.2 288.5 901.3 299.7 918.3 292.5ZM904.1 270.6 887.1 277.2 894.2 288.5 911.2 281.6ZM935.4 285 918.3 292.5 925.5 303.3 942.5 295.4ZM928.3 274.4 911.2 281.6 918.3 292.5 935.4 285ZM959.6 287.1 942.5 295.4 949.6 305.8 966.7 297.1ZM1197.5 457.5 1180.4 471.9 1187.6 471.7 1204.6 457.9ZM1190.4 456.7 1173.3 471.6 1180.4 471.9 1197.5 457.5ZM990.9 297.3 973.8 306.9 980.9 316.5 998 306.5ZM983.7 287.9 966.7 297.1 973.8 306.9 990.9 297.3ZM1193.1 439 1176.1 453.9 1183.2 455.5 1200.3 441ZM1186 436.7 1169 452 1176.1 453.9 1193.1 439ZM1029.3 313 1012.2 324.4 1019.4 333 1036.4 321.2ZM1022.1 304.5 1005.1 315.5 1012.2 324.4 1029.3 313ZM1015 295.9 998 306.5 1005.1 315.5 1022.1 304.5ZM1181.7 412.1 1164.6 427.8 1171.8 431.1 1188.8 415.6ZM1174.6 408.3 1157.5 424.3 1164.6 427.8 1181.7 412.1ZM1167.4 404.3 1150.4 420.4 1157.5 424.3 1174.6 408.3ZM1160.3 400.1 1143.3 416.3 1150.4 420.4 1167.4 404.3ZM1153.2 395.6 1136.1 411.8 1143.3 416.3 1160.3 400.1ZM1146.1 390.9 1129 407.1 1136.1 411.8 1153.2 395.6ZM1138.9 385.9 1121.9 402 1129 407.1 1146.1 390.9ZM1131.8 380.7 1114.8 396.7 1121.9 402 1138.9 385.9ZM1110.4 363.8 1093.4 379.1 1100.5 385.2 1117.6 369.7ZM1103.3 357.7 1086.3 372.7 1093.4 379.1 1110.4 363.8ZM1096.2 351.3 1079.1 366.1 1086.3 372.7 1103.3 357.7ZM1089.1 344.8 1072 359.2 1079.1 366.1 1096.2 351.3ZM1081.9 338 1064.9 352 1072 359.2 1089.1 344.8ZM1074.8 331 1057.8 344.6 1064.9 352 1081.9 338ZM1067.7 323.8 1050.6 337 1057.8 344.6 1074.8 331ZM1060.6 316.4 1043.5 329.2 1050.6 337 1067.7 323.8Z"/>
<path fill="#b4ae32" d="M337.4 285.9 320.3 269 327.5 297.2 344.5 312.2ZM347.3 274.2 330.3 258.2 337.4 285.9 354.4 299.9ZM384.2 260.9 367.1 249.5 374.3 274.2 391.3 284ZM394.1 247.3 377 236.7 384.2 260.9 401.2 269.9ZM421 241.3 404 233.5 411.1 255.7 428.2 262.1ZM448 232.1 431 226.8 438.1 247.1 455.1 251.2ZM475 220.5 457.9 217.2 465 235.8 482.1 238.1ZM501.9 206.9 484.9 205.2 492 222.5 509 223.3ZM519 207.6 501.9 206.9 509 223.3 526.1 223.2ZM536 207.2 519 207.6 526.1 223.2 543.1 222.2ZM553.1 206.1 536 207.2 543.1 222.2 560.2 220.5ZM570.1 204.3 553.1 206.1 560.2 220.5 577.2 218.2ZM587.1 202 570.1 204.3 577.2 218.2 594.3 215.4ZM604.2 199.2 587.1 202 594.3 215.4 611.3 212.3ZM621.2 196.1 604.2 199.2 611.3 212.3 628.3 208.9ZM638.3 192.6 621.2 196.1 628.3 208.9 645.4 205.2ZM662.4 201.3 645.4 205.2 652.5 217.7 669.6 213.7ZM655.3 189 638.3 192.6 645.4 205.2 662.4 201.3ZM679.5 197.3 662.4 201.3 669.6 213.7 686.6 209.5ZM696.5 193.2 679.5 197.3 686.6 209.5 703.6 205.3ZM713.6 189.1 696.5 193.2 703.6 205.3 720.7 201.1ZM737.7 196.7 720.7 201.1 727.8 213.1 744.8 208.7ZM754.8 192.3 737.7 196.7 744.8 208.7 761.9 204.2ZM778.9 199.7 761.9 204.2 769 216.1 786.1 211.5ZM771.8 187.8 754.8 192.3 761.9 204.2 778.9 199.7ZM796 195 778.9 199.7 786.1 211.5 803.1 206.8ZM813 190.3 796 195 803.1 206.8 820.1 202ZM837.2 196.9 820.1 202 827.3 213.6 844.3 208.5ZM861.3 203.2 844.3 208.5 851.4 220.1 868.5 214.6ZM854.2 191.7 837.2 196.9 844.3 208.5 861.3 203.2ZM878.4 197.6 861.3 203.2 868.5 214.6 885.5 208.8ZM902.6 202.7 885.5 208.8 892.6 220 909.7 213.7ZM895.4 191.7 878.4 197.6 885.5 208.8 902.6 202.7ZM926.7 207 909.7 213.7 916.8 224.6 933.9 217.7ZM919.6 196.3 902.6 202.7 909.7 213.7 926.7 207ZM950.9 210.3 933.9 217.7 941 228.1 958 220.5ZM943.8 199.9 926.7 207 933.9 217.7 950.9 210.3ZM975.1 212.3 958 220.5 965.1 230.5 982.2 222.1ZM967.9 202.4 950.9 210.3 958 220.5 975.1 212.3ZM1006.4 222.2 989.3 231.6 996.4 240.9 1013.5 231.2ZM999.2 213 982.2 222.1 989.3 231.6 1006.4 222.2ZM1044.8 237.4 1027.7 248.5 1034.9 256.9 1051.9 245.4ZM1037.6 229.2 1020.6 240 1027.7 248.5 1044.8 237.4ZM1030.5 220.8 1013.5 231.2 1020.6 240 1037.6 229.2ZM1282.7 408.1 1265.6 414.1 1272.8 418.8 1289.8 414.3ZM1275.6 402 1258.5 409.5 1265.6 414.1 1282.7 408.1ZM1268.4 396.2 1251.4 405 1258.5 409.5 1275.6 402ZM1261.3 390.5 1244.3 400.5 1251.4 405 1268.4 396.2ZM1254.2 385 1237.1 396 1244.3 400.5 1261.3 390.5ZM1247.1 379.6 1230 391.5 1237.1 396 1254.2 385ZM1239.9 374.2 1222.9 387 1230 391.5 1247.1 379.6ZM1232.8 369 1215.8 382.5 1222.9 387 1239.9 374.2ZM1225.7 363.7 1208.6 377.9 1215.8 382.5 1232.8 369ZM1218.6 358.6 1201.5 373.2 1208.6 377.9 1225.7 363.7ZM1211.4 353.4 1194.4 368.5 1201.5 373.2 1218.6 358.6ZM1204.3 348.2 1187.3 363.7 1194.4 368.5 1211.4 353.4ZM1197.2 343 1180.1 358.7 1187.3 363.7 1204.3 348.2ZM1190.1 337.8 1173 353.7 1180.1 358.7 1197.2 343ZM1182.9 332.5 1165.9 348.5 1173 353.7 1190.1 337.8ZM1133.1 293.4 1116 308.6 1123.1 314.8 1140.2 299.3ZM1125.9 287.3 1108.9 302.3 1116 308.6 1133.1 293.4ZM1118.8 281.2 1101.8 295.8 1108.9 302.3 1125.9 287.3ZM1111.7 274.8 1094.6 289.2 1101.8 295.8 1118.8 281.2ZM1104.6 268.3 1087.5 282.4 1094.6 289.2 1111.7 274.8ZM1097.4 261.7 1080.4 275.3 1087.5 282.4 1104.6 268.3ZM1090.3 254.9 1073.3 268.2 1080.4 275.3 1097.4 261.7ZM1083.2 247.9 1066.1 260.8 1073.3 268.2 1090.3 254.9ZM1076.1 240.7 1059 253.2 1066.1 260.8 1083.2 247.9ZM1299.7 404.5 1282.7 408.1 1289.8 414.3 1306.9 412.6ZM1292.6 396.8 1275.6 402 1282.7 408.1 1299.7 404.5ZM1316.8 403.8 1299.7 404.5 1306.9 412.6 1323.9 414ZM1309.6 394.2 1292.6 396.8 1299.7 404.5 1316.8 403.8ZM1326.7 394.4 1309.6 394.2 1316.8 403.8 1333.8 406.2ZM1336.6 384.5 1319.6 383.3 1326.7 394.4 1343.7 397.9Z"/>
<path fill="#e2a034" d="M340.2 247 323.1 229 330.3 258.2 347.3 274.2ZM350.1 235.4 333 218.4 340.2 247 357.2 262ZM396.9 210.3 379.8 198.7 387 223.6 404 233.5ZM423.8 205.6 406.8 196.9 413.9 219.6 431 226.8ZM433.8 191.5 416.7 183.4 423.8 205.6 440.9 212.3ZM460.7 183.3 443.7 177.5 450.8 197.7 467.8 202.2ZM487.7 172.7 470.6 168.9 477.8 187.4 494.8 190.1ZM504.7 175.1 487.7 172.7 494.8 190.1 511.8 191.6ZM692.2 153.2 675.1 157.1 682.3 169.1 699.3 165.2ZM709.2 149.2 692.2 153.2 699.3 165.2 716.3 161ZM726.3 145 709.2 149.2 716.3 161 733.4 156.8ZM750.4 152.4 733.4 156.8 740.5 168.6 757.6 164.2ZM743.3 140.6 726.3 145 733.4 156.8 750.4 152.4ZM767.5 147.9 750.4 152.4 757.6 164.2 774.6 159.7ZM784.5 143.3 767.5 147.9 774.6 159.7 791.6 155.1ZM808.7 150.2 791.6 155.1 798.8 166.8 815.8 162ZM801.6 138.4 784.5 143.3 791.6 155.1 808.7 150.2ZM825.7 145.2 808.7 150.2 815.8 162 832.8 156.9ZM849.9 151.6 832.8 156.9 840 168.6 857 163.3ZM842.8 139.9 825.7 145.2 832.8 156.9 849.9 151.6ZM866.9 146.1 849.9 151.6 857 163.3 874.1 157.7ZM891.1 151.7 874.1 157.7 881.2 169.1 898.2 163.1ZM915.3 156.6 898.2 163.1 905.4 174.3 922.4 167.7ZM908.1 145.3 891.1 151.7 898.2 163.1 915.3 156.6ZM939.4 160.6 922.4 167.7 929.5 178.6 946.6 171.4ZM932.3 149.6 915.3 156.6 922.4 167.7 939.4 160.6ZM963.6 163.6 946.6 171.4 953.7 181.9 970.7 174ZM956.5 153 939.4 160.6 946.6 171.4 963.6 163.6ZM987.8 165.4 970.7 174 977.9 184.1 994.9 175.3ZM1019.1 175.1 1002 184.9 1009.1 194.2 1026.2 184.2ZM1011.9 165.8 994.9 175.3 1002 184.9 1019.1 175.1ZM1064.6 198.1 1047.6 209.8 1054.7 217.9 1071.7 205.8ZM1057.5 190.2 1040.4 201.5 1047.6 209.8 1064.6 198.1ZM1050.4 181.9 1033.3 193 1040.4 201.5 1057.5 190.2ZM1245.5 325.4 1228.5 339 1235.6 344.7 1252.6 331.9ZM1238.4 319.2 1221.4 333.3 1228.5 339 1245.5 325.4ZM1231.3 313.1 1214.2 327.8 1221.4 333.3 1238.4 319.2ZM1224.1 307.1 1207.1 322.2 1214.2 327.8 1231.3 313.1ZM1217 301.3 1200 316.7 1207.1 322.2 1224.1 307.1ZM1209.9 295.6 1192.9 311.3 1200 316.7 1217 301.3ZM1202.8 289.9 1185.7 305.8 1192.9 311.3 1209.9 295.6ZM1195.6 284.3 1178.6 300.3 1185.7 305.8 1202.8 289.9ZM1188.5 278.7 1171.5 294.7 1178.6 300.3 1195.6 284.3ZM1181.4 273.1 1164.4 289.2 1171.5 294.7 1188.5 278.7ZM1174.3 267.5 1157.2 283.5 1164.4 289.2 1181.4 273.1ZM1167.1 261.9 1150.1 277.8 1157.2 283.5 1174.3 267.5ZM1160 256.3 1143 272 1150.1 277.8 1167.1 261.9ZM1152.9 250.5 1135.9 266 1143 272 1160 256.3ZM1145.8 244.7 1128.7 260 1135.9 266 1152.9 250.5ZM1138.6 238.8 1121.6 253.8 1128.7 260 1145.8 244.7ZM1131.5 232.8 1114.5 247.5 1121.6 253.8 1138.6 238.8ZM1124.4 226.6 1107.4 241 1114.5 247.5 1131.5 232.8ZM1117.3 220.3 1100.2 234.4 1107.4 241 1124.4 226.6ZM1110.1 213.8 1093.1 227.5 1100.2 234.4 1117.3 220.3ZM1103 207.1 1086 220.5 1093.1 227.5 1110.1 213.8ZM1095.9 200.2 1078.9 213.3 1086 220.5 1103 207.1ZM1291.1 344.5 1274 352.7 1281.1 360.2 1298.2 353.4ZM1283.9 336 1266.9 345.5 1274 352.7 1291.1 344.5ZM1276.8 327.9 1259.8 338.6 1266.9 345.5 1283.9 336ZM1315.2 348.8 1298.2 353.4 1305.3 362.8 1322.4 360ZM1308.1 338.3 1291.1 344.5 1298.2 353.4 1315.2 348.8Z"/>
<path fill="#e3d42e" d="M318.8 156.2 301.8 130.9 308.9 165.5 325.9 188.2ZM328.7 146.6 311.7 122.4 318.8 156.2 335.8 177.8ZM338.6 136.6 321.6 113.5 328.7 146.6 345.8 167.1ZM348.5 126.3 331.5 104.3 338.6 136.6 355.7 156.1ZM1006.1 46.4 989 58 996.1 70.5 1013.2 59.1ZM998.9 33 981.9 44.8 989 58 1006.1 46.4ZM1030.2 46.6 1013.2 59.1 1020.3 71.1 1037.4 58.7Z"/>
<path fill="#eba037" d="M343 207.4 325.9 188.2 333 218.4 350.1 235.4ZM352.9 196.1 335.8 177.8 343 207.4 360 223.5ZM399.7 173.1 382.6 160.4 389.8 186 406.8 196.9ZM436.5 156.4 419.5 147.3 426.6 169.9 443.7 177.5ZM862.6 104.2 845.6 110.3 852.7 122.4 869.7 116.4ZM886.8 109.9 869.7 116.4 876.9 128.3 893.9 121.9ZM879.6 97.6 862.6 104.2 869.7 116.4 886.8 109.9ZM903.8 103 886.8 109.9 893.9 121.9 910.9 115ZM928 107.6 910.9 115 918.1 126.8 935.1 119.4ZM952.1 111.3 935.1 119.4 942.2 130.9 959.3 122.8ZM983.4 125.1 966.4 133.9 973.5 144.7 990.6 135.8ZM976.3 114 959.3 122.8 966.4 133.9 983.4 125.1ZM1007.6 126 990.6 135.8 997.7 146.1 1014.7 136.2ZM1000.5 115.4 983.4 125.1 990.6 135.8 1007.6 126ZM1038.9 135.2 1021.9 146 1029 155.5 1046 144.5ZM1031.8 125.6 1014.7 136.2 1021.9 146 1038.9 135.2ZM1084.4 157.6 1067.4 170.1 1074.5 178.1 1091.6 165.2ZM1077.3 149.6 1060.3 161.9 1067.4 170.1 1084.4 157.6ZM1070.2 141.3 1053.1 153.4 1060.3 161.9 1077.3 149.6ZM1258.2 279 1241.2 292.7 1248.3 299.2 1265.4 286.2ZM1251.1 272.1 1234.1 286.4 1241.2 292.7 1258.2 279ZM1244 265.5 1226.9 280.2 1234.1 286.4 1251.1 272.1ZM1236.9 259.1 1219.8 274.3 1226.9 280.2 1244 265.5ZM1229.7 252.9 1212.7 268.5 1219.8 274.3 1236.9 259.1ZM1222.6 247 1205.6 262.7 1212.7 268.5 1229.7 252.9ZM1215.5 241.1 1198.4 257.1 1205.6 262.7 1222.6 247ZM1208.4 235.4 1191.3 251.5 1198.4 257.1 1215.5 241.1ZM1201.2 229.8 1184.2 245.9 1191.3 251.5 1208.4 235.4ZM1194.1 224.2 1177.1 240.3 1184.2 245.9 1201.2 229.8ZM1187 218.7 1169.9 234.7 1177.1 240.3 1194.1 224.2ZM1179.9 213.2 1162.8 229.1 1169.9 234.7 1187 218.7ZM1172.7 207.6 1155.7 223.4 1162.8 229.1 1179.9 213.2ZM1165.6 202 1148.6 217.6 1155.7 223.4 1172.7 207.6ZM1158.5 196.2 1141.4 211.7 1148.6 217.6 1165.6 202ZM1151.4 190.4 1134.3 205.6 1141.4 211.7 1158.5 196.2ZM1144.2 184.5 1127.2 199.4 1134.3 205.6 1151.4 190.4ZM1137.1 178.3 1120.1 193 1127.2 199.4 1144.2 184.5ZM1130 172 1112.9 186.4 1120.1 193 1137.1 178.3ZM1122.9 165.4 1105.8 179.6 1112.9 186.4 1130 172Z"/>
<path fill="#eab433" d="M335.8 177.8 318.8 156.2 325.9 188.2 343 207.4ZM345.8 167.1 328.7 146.6 335.8 177.8 352.9 196.1ZM355.7 156.1 338.6 136.6 345.8 167.1 362.8 184.4ZM402.5 135.8 385.4 121.8 392.5 148.1 409.6 160.2ZM947.8 65.5 930.8 74.6 937.9 87.2 954.9 78.3ZM979.1 81 962.1 90.7 969.2 102.5 986.2 93ZM972 68.6 954.9 78.3 962.1 90.7 979.1 81ZM1003.3 82.5 986.2 93 993.4 104.4 1010.4 94ZM1034.6 93.6 1017.5 105 1024.6 115.5 1041.7 104.1ZM1027.4 82.7 1010.4 94 1017.5 105 1034.6 93.6ZM1065.9 101.5 1048.8 114 1055.9 123.5 1073 110.9ZM1058.7 91.7 1041.7 104.1 1048.8 114 1065.9 101.5Z"/>
<path fill="#eca636" d="M362.8 184.4 345.8 167.1 352.9 196.1 369.9 211.2ZM372.7 172.5 355.7 156.1 362.8 184.4 379.8 198.7ZM409.6 160.2 392.5 148.1 399.7 173.1 416.7 183.4ZM419.5 147.3 402.5 135.8 409.6 160.2 426.6 169.9ZM896.7 90.6 879.6 97.6 886.8 109.9 903.8 103ZM920.9 95.4 903.8 103 910.9 115 928 107.6ZM945 99.5 928 107.6 935.1 119.4 952.1 111.3ZM969.2 102.5 952.1 111.3 959.3 122.8 976.3 114ZM993.4 104.4 976.3 114 983.4 125.1 1000.5 115.4ZM1024.6 115.5 1007.6 126 1014.7 136.2 1031.8 125.6ZM1017.5 105 1000.5 115.4 1007.6 126 1024.6 115.5ZM1063.1 132.6 1046 144.5 1053.1 153.4 1070.2 141.3ZM1055.9 123.5 1038.9 135.2 1046 144.5 1063.1 132.6ZM1048.8 114 1031.8 125.6 1038.9 135.2 1055.9 123.5ZM1115.7 158.6 1098.7 172.5 1105.8 179.6 1122.9 165.4ZM1108.6 151.6 1091.6 165.2 1098.7 172.5 1115.7 158.6ZM1101.5 144.2 1084.4 157.6 1091.6 165.2 1108.6 151.6ZM1094.4 136.4 1077.3 149.6 1084.4 157.6 1101.5 144.2ZM1087.2 128.3 1070.2 141.3 1077.3 149.6 1094.4 136.4Z"/>
<path fill="#e9bf31" d="M365.6 144.8 348.5 126.3 355.7 156.1 372.7 172.5ZM375.5 133.4 358.5 115.7 365.6 144.8 382.6 160.4ZM964.9 55.7 947.8 65.5 954.9 78.3 972 68.6ZM996.1 70.5 979.1 81 986.2 93 1003.3 82.5ZM989 58 972 68.6 979.1 81 996.1 70.5ZM1020.3 71.1 1003.3 82.5 1010.4 94 1027.4 82.7ZM1051.6 81.3 1034.6 93.6 1041.7 104.1 1058.7 91.7ZM1044.5 70.3 1027.4 82.7 1034.6 93.6 1051.6 81.3Z"/>
<path fill="#e0dc2f" d="M358.5 115.7 341.4 94.7 348.5 126.3 365.6 144.8ZM368.4 105 352.6 86.5 351.8 87 358.5 115.7 375.5 133.4ZM1023.1 33.7 1006.1 46.4 1013.2 59.1 1030.2 46.6Z"/>
<path fill="#dee130" d="M1016 20.1 998.9 33 1006.1 46.4 1023.1 33.7Z"/>
<defs><path id="m" d="M467.4 852.2 461.6 832.9 454.5 810 447.3 787.8 440.2 766.3 433.1 745.2 426 724.6 418.8 704.4 411.7 684.5 404.6 664.8 397.5 645.2 390.3 625.7 383.2 606.1 376.1 586.3 369 566.3 361.8 545.9 354.7 525.1 347.6 503.7 340.5 481.6 333.3 458.8 326.2 435 319.1 410.2 312 384.3 304.8 357.1 297.7 328.5 290.6 298.3 283.5 266.5 276.3 232.8 269.2 197.2 262.1 159.4 261.4 155.5M487.4 852.4 485.7 847 478.6 824.3 471.5 802.4 464.4 781.1 457.2 760.4 450.1 740.2 443 720.4 435.9 701 428.7 681.9 421.6 663 414.5 644.3 407.4 625.6 400.2 607 393.1 588.2 386 569.2 378.9 549.9 371.7 530.2 364.6 510 357.5 489.3 350.4 467.9 343.2 445.6 336.1 422.5 329 398.3 321.9 373 314.7 346.5 307.6 318.5 300.5 289 293.4 257.9 286.2 225 279.1 190.1 272 153.2 271 147.5M507.6 852.8 502.8 837.7 495.7 815.9 488.5 794.8 481.4 774.3 474.3 754.3 467.2 734.9 460 715.8 452.9 697.2 445.8 678.8 438.7 660.6 431.5 642.7 424.4 624.7 417.3 606.9 410.2 588.9 403 570.8 395.9 552.4 388.8 533.8 381.7 514.7 374.5 495.1 367.4 474.9 360.3 454.1 353.2 432.4 346 409.8 338.9 386.2 331.8 361.4 324.7 335.4 317.5 308.1 310.4 279.2 303.3 248.8 296.2 216.6 289 182.5 281.9 146.3 280.7 139.7M528 853.3 527 850.2 519.8 828.6 512.7 807.6 505.6 787.3 498.5 767.5 491.3 748.2 484.2 729.4 477.1 711 470 693 462.8 675.2 455.7 657.7 448.6 640.4 441.5 623.1 434.3 605.9 427.2 588.7 420.1 571.3 413 553.8 405.8 536 398.7 517.8 391.6 499.3 384.5 480.2 377.3 460.5 370.2 440.1 363.1 418.9 356 396.8 348.8 373.7 341.7 349.5 334.6 324 327.5 297.2 320.3 269 313.2 239.1 306.1 207.6 299 174.2 291.8 138.9 290.5 131.9M548.5 854 544 840.6 536.9 819.7 529.8 799.5 522.6 779.9 515.5 760.7 508.4 742.1 501.3 723.8 494.1 706 487 688.5 479.9 671.3 472.8 654.3 465.6 637.5 458.5 620.8 451.4 604.2 444.3 587.6 437.1 570.9 430 554 422.9 537 415.8 519.7 408.6 502 401.5 483.8 394.4 465.2 387.3 445.9 380.1 425.9 373 405.1 365.9 383.5 358.8 360.8 351.6 337.1 344.5 312.2 337.4 285.9 330.3 258.2 323.1 229 316 198.1 308.9 165.5 301.8 130.9 300.4 124.2M569.2 854.8 568.2 851.8 561 831.2 553.9 811.1 546.8 791.6 539.7 772.5 532.5 754 525.4 735.9 518.3 718.2 511.2 700.8 504 683.8 496.9 667.1 489.8 650.6 482.7 634.2 475.5 618 468.4 601.9 461.3 585.8 454.2 569.6 447 553.4 439.9 537 432.8 520.3 425.7 503.4 418.5 486 411.4 468.3 404.3 450 397.2 431.1 390 411.5 382.9 391.1 375.8 369.9 368.7 347.6 361.5 324.3 354.4 299.9 347.3 274.2 340.2 247 333 218.4 325.9 188.2 318.8 156.2 311.7 122.4 310.5 116.6M590 855.7 585.2 842 578.1 822.1 571 802.7 563.8 783.8 556.7 765.3 549.6 747.3 542.5 729.7 535.3 712.5 528.2 695.6 521.1 679 514 662.6 506.8 646.5 499.7 630.6 492.6 614.8 485.5 599 478.3 583.4 471.2 567.7 464.1 551.9 457 536 449.8 520 442.7 503.7 435.6 487 428.5 470 421.3 452.6 414.2 434.6 407.1 416 400 396.8 392.8 376.8 385.7 355.9 378.6 334.1 371.5 311.2 364.3 287.2 357.2 262 350.1 235.4 343 207.4 335.8 177.8 328.7 146.6 321.6 113.5 320.7 109.1M611.1 856.8 609.4 852 602.3 832.3 595.1 813.2 588 794.4 580.9 776.1 573.8 758.2 566.6 740.7 559.5 723.6 552.4 706.7 545.3 690.2 538.1 674 531 658 523.9 642.2 516.8 626.6 509.6 611.1 502.5 595.7 495.4 580.4 488.3 565.1 481.1 549.8 474 534.3 466.9 518.7 459.8 503 452.6 486.9 445.5 470.6 438.4 453.9 431.3 436.7 424.1 419 417 400.7 409.9 381.8 402.8 362.1 395.6 341.6 388.5 320.2 381.4 297.8 374.3 274.2 367.1 249.5 360 223.5 352.9 196.1 345.8 167.1 338.6 136.6 331.5 104.3 331 101.6M632.4 858.1 626.4 841.9 619.3 823 612.2 804.5 605 786.4 597.9 768.6 590.8 751.2 583.7 734.2 576.5 717.4 569.4 701 562.3 684.8 555.2 668.9 548 653.2 540.9 637.7 533.8 622.4 526.7 607.2 519.5 592.1 512.4 577 505.3 562 498.2 547 491 532 483.9 516.8 476.8 501.5 469.7 485.9 462.5 470.1 455.4 454 448.3 437.5 441.2 420.6 434 403.2 426.9 385.2 419.8 366.6 412.7 347.2 405.5 327 398.4 306 391.3 284 384.2 260.9 377 236.7 369.9 211.2 362.8 184.4 355.7 156.1 348.5 126.3 341.4 94.7 341.3 94.3M654.1 859.7 650.6 850.4 643.5 831.9 636.3 813.8 629.2 795.9 622.1 778.4 615 761.2 607.8 744.3 600.7 727.7 593.6 711.3 586.5 695.2 579.3 679.3 572.2 663.7 565.1 648.3 558 633 550.8 617.9 543.7 603 536.6 588.1 529.5 573.3 522.3 558.6 515.2 543.8 508.1 529 501 514.2 493.8 499.2 486.7 484.1 479.6 468.8 472.5 453.2 465.3 437.3 458.2 421 451.1 404.3 444 387.2 436.8 369.4 429.7 351.1 422.6 332 415.5 312.2 408.3 291.5 401.2 269.9 394.1 247.3 387 223.6 379.8 198.7 372.7 172.5 365.6 144.8 358.5 115.7 351.8 87M676.2 861.6 674.8 857.9 667.6 839.9 660.5 822.2 653.4 804.7 646.3 787.5 639.1 770.6 632 753.9 624.9 737.4 617.8 721.2 610.6 705.2 603.5 689.4 596.4 673.8 589.3 658.5 582.1 643.2 575 628.2 567.9 613.3 560.8 598.5 553.6 583.9 546.5 569.3 539.4 554.7 532.3 540.2 525.1 525.7 518 511.1 510.9 496.4 503.8 481.6 496.6 466.7 489.5 451.5 482.4 436.1 475.3 420.4 468.1 404.3 461 387.9 453.9 370.9 446.8 353.5 439.6 335.4 432.5 316.6 425.4 297.2 418.3 276.9 411.1 255.7 404 233.5 396.9 210.3 389.8 186 382.6 160.4 375.5 133.4 368.4 105M698.9 864 691.8 846.7 684.7 829.6 677.5 812.6 670.4 795.8 663.3 779.2 656.2 762.8 649 746.6 641.9 730.6 634.8 714.7 627.7 699.1 620.5 683.6 613.4 668.3 606.3 653.1 599.2 638.1 592 623.3 584.9 608.6 577.8 593.9 570.7 579.4 563.5 565 556.4 550.6 549.3 536.2 542.2 521.9 535 507.5 527.9 493.1 520.8 478.6 513.7 463.9 506.5 449.1 499.4 434.1 492.3 418.9 485.2 403.4 478 387.5 470.9 371.2 463.8 354.5 456.7 337.3 449.5 319.5 442.4 301.1 435.3 282 428.2 262.1 421 241.3 413.9 219.6 406.8 196.9 399.7 173.1 392.5 148.1 385.4 121.8M722.4 867 716 852 708.8 835.6 701.7 819.3 694.6 803.1 687.5 787 680.3 771 673.2 755.1 666.1 739.4 659 723.8 651.8 708.3 644.7 693 637.6 677.8 630.5 662.7 623.3 647.8 616.2 632.9 609.1 618.3 602 603.7 594.8 589.2 587.7 574.8 580.6 560.5 573.5 546.2 566.3 532 559.2 517.8 552.1 503.6 545 489.3 537.8 475 530.7 460.7 523.6 446.1 516.5 431.5 509.3 416.6 502.2 401.6 495.1 386.2 488 370.5 480.8 354.5 473.7 338 466.6 321 459.5 303.5 452.3 285.4 445.2 266.6 438.1 247.1 431 226.8 423.8 205.6 416.7 183.4 409.6 160.2 402.5 135.8M747.2 871 740.1 855.7 733 840.1 725.9 824.6 718.8 809 711.6 793.6 704.5 778.1 697.4 762.7 690.3 747.4 683.1 732.1 676 716.9 668.9 701.8 661.8 686.8 654.6 671.9 647.5 657 640.4 642.3 633.3 627.7 626.1 613.1 619 598.7 611.9 584.3 604.8 570 597.6 555.8 590.5 541.6 583.4 527.5 576.3 513.4 569.1 499.3 562 485.2 554.9 471.1 547.8 456.9 540.6 442.7 533.5 428.3 526.4 413.8 519.3 399 512.1 384.1 505 368.9 497.9 353.4 490.8 337.6 483.6 321.3 476.5 304.6 469.4 287.4 462.3 269.7 455.1 251.2 448 232.1 440.9 212.3 433.8 191.5 426.6 169.9 419.5 147.3M773.8 876.5 771.4 871.7 764.3 857.3 757.2 842.8 750 828.2 742.9 813.5 735.8 798.8 728.7 784 721.5 769.2 714.4 754.4 707.3 739.6 700.2 724.8 693 710 685.9 695.3 678.8 680.6 671.7 665.9 664.5 651.3 657.4 636.8 650.3 622.3 643.2 607.9 636 593.6 628.9 579.3 621.8 565.1 614.7 551 607.5 536.9 600.4 522.9 593.3 508.9 586.2 494.9 579 480.9 571.9 466.9 564.8 452.9 557.7 438.8 550.5 424.6 543.4 410.4 536.3 395.9 529.2 381.4 522 366.6 514.9 351.6 507.8 336.3 500.7 320.7 493.5 304.7 486.4 288.2 479.3 271.3 472.2 253.9 465 235.8 457.9 217.2 450.8 197.7 443.7 177.5 436.5 156.4M795.6 869.9 788.5 856.8 781.3 843.4 774.2 829.9 767.1 816.3 760 802.4 752.8 788.5 745.7 774.4 738.6 760.2 731.5 746 724.3 731.7 717.2 717.4 710.1 703 703 688.6 695.8 674.2 688.7 659.9 681.6 645.5 674.5 631.2 667.3 616.9 660.2 602.6 653.1 588.4 646 574.2 638.8 560.1 631.7 546.1 624.6 532 617.5 518.1 610.3 504.1 603.2 490.2 596.1 476.3 589 462.4 581.8 448.5 574.7 434.6 567.6 420.6 560.5 406.5 553.3 392.4 546.2 378.1 539.1 363.7 532 349.1 524.8 334.2 517.7 319.1 510.6 303.7 503.5 288 496.3 271.8 489.2 255.2 482.1 238.1 475 220.5 467.8 202.2 460.7 183.3 453.6 163.5M812.6 853.7 805.5 841.8 798.4 829.5 791.3 817 784.1 804.2 777 791.2 769.9 778 762.8 764.7 755.6 751.1 748.5 737.5 741.4 723.7 734.3 709.8 727.1 695.9 720 681.8 712.9 667.8 705.8 653.7 698.6 639.6 691.5 625.4 684.4 611.3 677.3 597.2 670.1 583.1 663 569 655.9 555 648.8 541 641.6 527 634.5 513.1 627.4 499.2 620.3 485.4 613.1 471.5 606 457.7 598.9 443.9 591.8 430.1 584.6 416.2 577.5 402.4 570.4 388.4 563.3 374.4 556.1 360.2 549 346 541.9 331.5 534.8 316.9 527.6 302 520.5 286.8 513.4 271.3 506.3 255.5 499.1 239.2 492 222.5 484.9 205.2 477.8 187.4 470.6 168.9M829.7 837.5 822.5 826.7 815.4 815.4 808.3 803.9 801.2 792 794 779.8 786.9 767.4 779.8 754.7 772.7 741.9 765.5 728.8 758.4 715.5 751.3 702.1 744.2 688.6 737 674.9 729.9 661.2 722.8 647.4 715.7 633.5 708.5 619.6 701.4 605.6 694.3 591.6 687.2 577.7 680 563.7 672.9 549.8 665.8 535.8 658.7 521.9 651.5 508.1 644.4 494.2 637.3 480.4 630.2 466.6 623 452.9 615.9 439.1 608.8 425.4 601.7 411.7 594.5 397.9 587.4 384.1 580.3 370.3 573.2 356.4 566 342.4 558.9 328.3 551.8 314 544.7 299.6 537.5 284.9 530.4 270 523.3 254.8 516.2 239.3 509 223.3 501.9 206.9 494.8 190.1 487.7 172.7M846.7 821.2 839.6 811.4 832.5 801.2 825.3 790.6 818.2 779.6 811.1 768.2 804 756.6 796.8 744.6 789.7 732.3 782.6 719.8 775.5 707.1 768.3 694.2 761.2 681 754.1 667.8 747 654.4 739.8 640.8 732.7 627.2 725.6 613.5 718.5 599.8 711.3 586 704.2 572.1 697.1 558.3 690 544.4 682.8 530.6 675.7 516.7 668.6 502.9 661.5 489.1 654.3 475.3 647.2 461.6 640.1 447.9 633 434.2 625.8 420.5 618.7 406.9 611.6 393.3 604.5 379.6 597.3 366 590.2 352.3 583.1 338.5 576 324.7 568.8 310.7 561.7 296.6 554.6 282.4 547.5 268 540.3 253.3 533.2 238.4 526.1 223.2 519 207.6 511.8 191.6 504.7 175.1M863.8 804.7 856.6 796 849.5 786.8 842.4 777.1 835.3 767 828.1 756.4 821 745.5 813.9 734.2 806.8 722.6 799.6 710.6 792.5 698.4 785.4 686 778.3 673.3 771.1 660.4 764 647.3 756.9 634.1 749.8 620.8 742.6 607.3 735.5 593.7 728.4 580.1 721.3 566.4 714.1 552.7 707 538.9 699.9 525.2 692.8 511.4 685.6 497.6 678.5 483.9 671.4 470.2 664.3 456.5 657.1 442.8 650 429.2 642.9 415.6 635.8 402 628.6 388.5 621.5 374.9 614.4 361.4 607.3 347.9 600.1 334.3 593 320.7 585.9 307 578.8 293.3 571.6 279.4 564.5 265.4 557.4 251.2 550.3 236.8 543.1 222.2 536 207.2 528.9 192 521.8 176.4M880.8 788 873.7 780.3 866.6 772.1 859.4 763.3 852.3 754 845.2 744.3 838.1 734.1 830.9 723.5 823.8 712.5 816.7 701.1 809.6 689.4 802.4 677.5 795.3 665.2 788.2 652.7 781.1 640 773.9 627.1 766.8 614.1 759.7 600.8 752.6 587.5 745.4 574.1 738.3 560.5 731.2 546.9 724.1 533.3 716.9 519.6 709.8 505.9 702.7 492.2 695.6 478.6 688.4 464.9 681.3 451.3 674.2 437.6 667.1 424.1 659.9 410.5 652.8 397 645.7 383.5 638.6 370.1 631.4 356.7 624.3 343.3 617.2 329.9 610.1 316.4 602.9 303 595.8 289.5 588.7 275.9 581.6 262.3 574.4 248.5 567.3 234.6 560.2 220.5 553.1 206.1 545.9 191.5 538.8 176.6M897.8 771.2 890.7 764.5 883.6 757.1 876.5 749.2 869.3 740.8 862.2 731.8 855.1 722.3 848 712.4 840.8 702 833.7 691.2 826.6 680.1 819.5 668.6 812.3 656.8 805.2 644.8 798.1 632.4 791 619.9 783.8 607.1 776.7 594.1 769.6 581 762.5 567.8 755.3 554.4 748.2 541 741.1 527.5 734 514 726.8 500.4 719.7 486.8 712.6 473.1 705.5 459.5 698.3 446 691.2 432.4 684.1 418.9 677 405.4 669.8 391.9 662.7 378.5 655.6 365.2 648.5 351.8 641.3 338.6 634.2 325.3 627.1 312 620 298.8 612.8 285.5 605.7 272.2 598.6 258.8 591.5 245.4 584.3 231.9 577.2 218.2 570.1 204.3 563 190.3 555.8 176M914.9 754.1 907.8 748.3 900.6 741.9 893.5 734.8 886.4 727.2 879.3 719 872.1 710.2 865 700.9 857.9 691.2 850.8 681 843.6 670.4 836.5 659.4 829.4 648.1 822.3 636.4 815.1 624.5 808 612.3 800.9 599.8 793.8 587.1 786.6 574.3 779.5 561.3 772.4 548.1 765.3 534.9 758.1 521.5 751 508.1 743.9 494.6 736.8 481.1 729.6 467.6 722.5 454.1 715.4 440.6 708.3 427.1 701.1 413.6 694 400.2 686.9 386.8 679.8 373.5 672.6 360.2 665.5 346.9 658.4 333.7 651.3 320.6 644.1 307.5 637 294.4 629.9 281.3 622.8 268.2 615.6 255.1 608.5 241.9 601.4 228.7 594.3 215.4 587.1 202 580 188.4 572.9 174.7M931.9 736.7 924.8 731.9 917.7 726.3 910.6 720.1 903.4 713.2 896.3 705.7 889.2 697.7 882.1 689.1 874.9 679.9 867.8 670.3 860.7 660.3 853.6 649.8 846.4 638.9 839.3 627.7 832.2 616.2 825.1 604.3 817.9 592.2 810.8 579.8 803.7 567.3 796.6 554.5 789.4 541.6 782.3 528.5 775.2 515.4 768.1 502.1 760.9 488.8 753.8 475.4 746.7 462 739.6 448.5 732.4 435.1 725.3 421.7 718.2 408.3 711.1 394.9 703.9 381.6 696.8 368.3 689.7 355.1 682.6 342 675.4 328.9 668.3 315.8 661.2 302.8 654.1 289.9 646.9 276.9 639.8 264 632.7 251.1 625.6 238.2 618.4 225.3 611.3 212.3 604.2 199.2 597.1 186 589.9 172.7M949 719.1 941.8 715.1 934.7 710.4 927.6 705 920.5 698.9 913.3 692.1 906.2 684.7 899.1 676.8 892 668.3 884.8 659.2 877.7 649.7 870.6 639.7 863.5 629.4 856.3 618.6 849.2 607.4 842.1 596 835 584.2 827.8 572.2 820.7 559.9 813.6 547.4 806.5 534.7 799.3 521.9 792.2 508.9 785.1 495.9 778 482.7 770.8 469.4 763.7 456.2 756.6 442.8 749.5 429.5 742.3 416.2 735.2 402.9 728.1 389.6 721 376.4 713.8 363.2 706.7 350 699.6 337 692.5 324 685.3 311 678.2 298.1 671.1 285.3 664 272.5 656.8 259.7 649.7 247 642.6 234.3 635.5 221.6 628.3 208.9 621.2 196.1 614.1 183.2 607 170.3M966 701.3 958.9 698.1 951.8 694.2 944.6 689.5 937.5 684.1 930.4 678.1 923.3 671.3 916.1 664 909 656.1 901.9 647.7 894.8 638.7 887.6 629.2 880.5 619.3 873.4 609 866.3 598.3 859.1 587.2 852 575.8 844.9 564.1 837.8 552.2 830.6 540 823.5 527.6 816.4 515 809.3 502.2 802.1 489.4 795 476.4 787.9 463.3 780.8 450.2 773.6 437 766.5 423.8 759.4 410.6 752.3 397.4 745.1 384.2 738 371.1 730.9 358 723.8 344.9 716.6 331.9 709.5 319 702.4 306.1 695.3 293.4 688.1 280.6 681 268 673.9 255.3 666.8 242.8 659.6 230.2 652.5 217.7 645.4 205.2 638.3 192.6 631.1 180.1 624 167.4M983.1 683.2 975.9 680.8 968.8 677.6 961.7 673.7 954.6 669 947.4 663.6 940.3 657.5 933.2 650.8 926.1 643.5 918.9 635.6 911.8 627.2 904.7 618.2 897.6 608.8 890.4 598.9 883.3 588.7 876.2 578 869.1 567 861.9 555.7 854.8 544 847.7 532.2 840.6 520.1 833.4 507.8 826.3 495.3 819.2 482.6 812.1 469.9 804.9 457 797.8 444 790.7 431 783.6 418 776.4 404.9 769.3 391.8 762.2 378.8 755.1 365.7 747.9 352.7 740.8 339.8 733.7 326.9 726.6 314 719.4 301.3 712.3 288.6 705.2 275.9 698.1 263.4 690.9 250.9 683.8 238.4 676.7 226 669.6 213.7 662.4 201.3 655.3 189 648.2 176.6 641.1 164.2M1000.1 665 993 663.3 985.8 660.8 978.7 657.5 971.6 653.5 964.5 648.7 957.3 643.2 950.2 637.1 943.1 630.4 936 623 928.8 615.1 921.7 606.7 914.6 597.8 907.5 588.4 900.3 578.6 893.2 568.3 886.1 557.7 879 546.8 871.8 535.5 864.7 524 857.6 512.2 850.5 500.2 843.3 488 836.2 475.6 829.1 463 822 450.4 814.8 437.7 807.7 424.8 800.6 412 793.5 399.1 786.3 386.1 779.2 373.2 772.1 360.3 765 347.4 757.8 334.6 750.7 321.8 743.6 309.1 736.5 296.4 729.3 283.8 722.2 271.2 715.1 258.8 708 246.4 700.8 234.1 693.7 221.8 686.6 209.5 679.5 197.3 672.3 185.2 665.2 173 658.1 160.8M1017.1 646.6 1010 645.5 1002.9 643.7 995.8 641 988.6 637.6 981.5 633.4 974.4 628.5 967.3 623 960.1 616.8 953 610 945.9 602.6 938.8 594.7 931.6 586.2 924.5 577.3 917.4 567.9 910.3 558.1 903.1 547.9 896 537.4 888.9 526.5 881.8 515.3 874.6 503.9 867.5 492.2 860.4 480.3 853.3 468.2 846.1 455.9 839 443.5 831.9 431 824.8 418.4 817.6 405.8 810.5 393 803.4 380.3 796.3 367.5 789.1 354.8 782 342 774.9 329.3 767.8 316.6 760.6 304 753.5 291.5 746.4 279 739.3 266.5 732.1 254.2 725 241.9 717.9 229.6 710.8 217.5 703.6 205.3 696.5 193.2 689.4 181.2 682.3 169.1 675.1 157.1M1034.2 628.1 1027.1 627.6 1019.9 626.3 1012.8 624.2 1005.7 621.3 998.6 617.7 991.4 613.4 984.3 608.4 977.2 602.7 970.1 596.5 962.9 589.6 955.8 582.2 948.7 574.2 941.6 565.7 934.4 556.8 927.3 547.5 920.2 537.7 913.1 527.5 905.9 517.1 898.8 506.3 891.7 495.2 884.6 483.8 877.4 472.2 870.3 460.5 863.2 448.5 856.1 436.4 848.9 424.1 841.8 411.8 834.7 399.3 827.6 386.8 820.4 374.3 813.3 361.7 806.2 349.1 799.1 336.5 791.9 324 784.8 311.4 777.7 298.9 770.6 286.5 763.4 274.1 756.3 261.8 749.2 249.5 742.1 237.3 734.9 225.2 727.8 213.1 720.7 201.1 713.6 189.1 706.4 177.1 699.3 165.2 692.2 153.2M1051.2 609.5 1044.1 609.6 1037 608.8 1029.8 607.2 1022.7 604.8 1015.6 601.7 1008.5 597.9 1001.3 593.4 994.2 588.2 987.1 582.4 980 576 972.8 569.1 965.7 561.6 958.6 553.6 951.5 545.1 944.3 536.2 937.2 526.9 930.1 517.2 923 507.1 915.8 496.7 908.7 486 901.6 475 894.5 463.8 887.3 452.3 880.2 440.7 873.1 428.9 866 416.9 858.8 404.8 851.7 392.6 844.6 380.4 837.5 368.1 830.3 355.7 823.2 343.3 816.1 330.9 809 318.5 801.8 306.1 794.7 293.8 787.6 281.5 780.5 269.2 773.3 257 766.2 244.8 759.1 232.7 752 220.7 744.8 208.7 737.7 196.7 730.6 184.8 723.5 172.9 716.3 161 709.2 149.2M1068.3 591 1061.1 591.5 1054 591.1 1046.9 589.9 1039.8 588 1032.6 585.3 1025.5 582 1018.4 577.9 1011.3 573.2 1004.1 567.9 997 562 989.9 555.5 982.8 548.5 975.6 541 968.5 533 961.4 524.5 954.3 515.6 947.1 506.3 940 496.6 932.9 486.6 925.8 476.3 918.6 465.7 911.5 454.9 904.4 443.8 897.3 432.5 890.1 421 883 409.3 875.9 397.6 868.8 385.7 861.6 373.7 854.5 361.6 847.4 349.5 840.3 337.3 833.1 325.1 826 312.9 818.9 300.7 811.8 288.5 804.6 276.4 797.5 264.3 790.4 252.2 783.3 240.1 776.1 228.1 769 216.1 761.9 204.2 754.8 192.3 747.6 180.5 740.5 168.6 733.4 156.8 726.3 145M1085.3 572.7 1078.2 573.4 1071.1 573.4 1063.9 572.6 1056.8 571 1049.7 568.7 1042.6 565.8 1035.4 562.2 1028.3 557.9 1021.2 553 1014.1 547.5 1006.9 541.5 999.8 534.9 992.7 527.8 985.6 520.2 978.4 512.2 971.3 503.7 964.2 494.9 957.1 485.6 949.9 476.1 942.8 466.2 935.7 456 928.6 445.5 921.4 434.8 914.3 423.8 907.2 412.7 900.1 401.4 892.9 390 885.8 378.4 878.7 366.7 871.6 354.9 864.4 343 857.3 331.1 850.2 319.1 843.1 307.2 835.9 295.2 828.8 283.2 821.7 271.2 814.6 259.2 807.4 247.2 800.3 235.3 793.2 223.4 786.1 211.5 778.9 199.7 771.8 187.8 764.7 176 757.6 164.2 750.4 152.4 743.3 140.6M1102.3 554.5 1095.2 555.5 1088.1 555.7 1081 555.1 1073.8 553.9 1066.7 551.9 1059.6 549.3 1052.5 546 1045.3 542.2 1038.2 537.7 1031.1 532.6 1024 526.9 1016.8 520.8 1009.7 514.1 1002.6 507 995.5 499.4 988.3 491.4 981.2 482.9 974.1 474.1 967 465 959.8 455.5 952.7 445.7 945.6 435.6 938.5 425.3 931.3 414.8 924.2 404 917.1 393.1 910 382 902.8 370.7 895.7 359.3 888.6 347.9 881.5 336.3 874.3 324.6 867.2 312.9 860.1 301.2 853 289.4 845.8 277.6 838.7 265.8 831.6 254 824.5 242.2 817.3 230.4 810.2 218.6 803.1 206.8 796 195 788.8 183.3 781.7 171.5 774.6 159.7 767.5 147.9 760.3 136.1M1119.4 536.7 1112.3 537.7 1105.1 538.1 1098 537.7 1090.9 536.7 1083.8 535 1076.6 532.7 1069.5 529.7 1062.4 526.1 1055.3 522 1048.1 517.2 1041 512 1033.9 506.2 1026.8 500 1019.6 493.2 1012.5 486 1005.4 478.4 998.3 470.4 991.1 462.1 984 453.3 976.9 444.3 969.8 434.9 962.6 425.3 955.5 415.4 948.4 405.2 941.3 394.9 934.1 384.3 927 373.6 919.9 362.7 912.8 351.6 905.6 340.5 898.5 329.2 891.4 317.9 884.3 306.5 877.1 295 870 283.4 862.9 271.9 855.8 260.3 848.6 248.6 841.5 237 834.4 225.3 827.3 213.6 820.1 202 813 190.3 805.9 178.5 798.8 166.8 791.6 155.1 784.5 143.3 777.4 131.4M1136.4 519.3 1129.3 520.4 1122.2 520.8 1115.1 520.5 1107.9 519.6 1100.8 518 1093.7 515.9 1086.6 513.1 1079.4 509.8 1072.3 506 1065.2 501.6 1058.1 496.6 1050.9 491.2 1043.8 485.3 1036.7 479 1029.6 472.2 1022.4 465 1015.3 457.4 1008.2 449.5 1001.1 441.2 993.9 432.5 986.8 423.6 979.7 414.4 972.6 404.9 965.4 395.2 958.3 385.2 951.2 375.1 944.1 364.7 936.9 354.2 929.8 343.5 922.7 332.7 915.6 321.8 908.4 310.8 901.3 299.7 894.2 288.5 887.1 277.2 879.9 265.9 872.8 254.5 865.7 243 858.6 231.6 851.4 220.1 844.3 208.5 837.2 196.9 830.1 185.3 822.9 173.7 815.8 162 808.7 150.2 801.6 138.4 794.4 126.5M1153.5 502.6 1146.3 503.5 1139.2 503.8 1132.1 503.5 1125 502.6 1117.8 501.1 1110.7 499.1 1103.6 496.5 1096.5 493.4 1089.3 489.7 1082.2 485.6 1075.1 481 1068 475.8 1060.8 470.3 1053.7 464.3 1046.6 457.9 1039.5 451.1 1032.3 443.9 1025.2 436.4 1018.1 428.5 1011 420.3 1003.8 411.8 996.7 403 989.6 393.9 982.5 384.6 975.3 375.1 968.2 365.3 961.1 355.4 954 345.3 946.8 335 939.7 324.6 932.6 314 925.5 303.3 918.3 292.5 911.2 281.6 904.1 270.6 897 259.6 889.8 248.4 882.7 237.2 875.6 225.9 868.5 214.6 861.3 203.2 854.2 191.7 847.1 180.2 840 168.6 832.8 156.9 825.7 145.2 818.6 133.4 811.5 121.4M1170.5 486.7 1163.4 487.3 1156.3 487.4 1149.1 486.9 1142 485.9 1134.9 484.4 1127.8 482.4 1120.6 479.9 1113.5 476.8 1106.4 473.4 1099.3 469.4 1092.1 465 1085 460.1 1077.9 454.9 1070.8 449.2 1063.6 443.1 1056.5 436.7 1049.4 429.9 1042.3 422.7 1035.1 415.3 1028 407.5 1020.9 399.4 1013.8 391 1006.6 382.4 999.5 373.5 992.4 364.4 985.3 355.1 978.1 345.6 971 335.9 963.9 326 956.8 316 949.6 305.8 942.5 295.4 935.4 285 928.3 274.4 921.1 263.7 914 252.9 906.9 242 899.8 231.1 892.6 220 885.5 208.8 878.4 197.6 871.3 186.2 864.1 174.8 857 163.3 849.9 151.6 842.8 139.9 835.6 128 828.5 116M1187.6 471.7 1180.4 471.9 1173.3 471.6 1166.2 470.9 1159.1 469.6 1151.9 468 1144.8 465.9 1137.7 463.3 1130.6 460.3 1123.4 456.9 1116.3 453.1 1109.2 448.8 1102.1 444.2 1094.9 439.2 1087.8 433.7 1080.7 428 1073.6 421.9 1066.4 415.4 1059.3 408.6 1052.2 401.5 1045.1 394.1 1037.9 386.5 1030.8 378.5 1023.7 370.3 1016.6 361.9 1009.4 353.2 1002.3 344.3 995.2 335.3 988.1 326 980.9 316.5 973.8 306.9 966.7 297.1 959.6 287.1 952.4 277 945.3 266.8 938.2 256.4 931.1 245.9 923.9 235.3 916.8 224.6 909.7 213.7 902.6 202.7 895.4 191.7 888.3 180.5 881.2 169.1 874.1 157.7 866.9 146.1 859.8 134.3 852.7 122.4 845.6 110.3M1204.6 457.9 1197.5 457.5 1190.4 456.7 1183.2 455.5 1176.1 453.9 1169 452 1161.9 449.7 1154.7 447 1147.6 443.9 1140.5 440.5 1133.4 436.7 1126.2 432.6 1119.1 428 1112 423.2 1104.9 418 1097.7 412.5 1090.6 406.7 1083.5 400.5 1076.4 394.1 1069.2 387.3 1062.1 380.3 1055 373.1 1047.9 365.5 1040.7 357.8 1033.6 349.7 1026.5 341.5 1019.4 333 1012.2 324.4 1005.1 315.5 998 306.5 990.9 297.3 983.7 287.9 976.6 278.3 969.5 268.6 962.4 258.7 955.2 248.6 948.1 238.5 941 228.1 933.9 217.7 926.7 207 919.6 196.3 912.5 185.4 905.4 174.3 898.2 163.1 891.1 151.7 884 140.1 876.9 128.3 869.7 116.4 862.6 104.2M1221.6 445.4 1214.5 444.3 1207.4 442.8 1200.3 441 1193.1 439 1186 436.7 1178.9 434 1171.8 431.1 1164.6 427.8 1157.5 424.3 1150.4 420.4 1143.3 416.3 1136.1 411.8 1129 407.1 1121.9 402 1114.8 396.7 1107.6 391.1 1100.5 385.2 1093.4 379.1 1086.3 372.7 1079.1 366.1 1072 359.2 1064.9 352 1057.8 344.6 1050.6 337 1043.5 329.2 1036.4 321.2 1029.3 313 1022.1 304.5 1015 295.9 1007.9 287.1 1000.8 278.1 993.6 268.9 986.5 259.6 979.4 250.1 972.3 240.4 965.1 230.5 958 220.5 950.9 210.3 943.8 199.9 936.6 189.4 929.5 178.6 922.4 167.7 915.3 156.6 908.1 145.3 901 133.7 893.9 121.9 886.8 109.9 879.6 97.6M1238.7 434.6 1231.6 432.5 1224.4 430.1 1217.3 427.7 1210.2 425 1203.1 422.1 1195.9 419 1188.8 415.6 1181.7 412.1 1174.6 408.3 1167.4 404.3 1160.3 400.1 1153.2 395.6 1146.1 390.9 1138.9 385.9 1131.8 380.7 1124.7 375.3 1117.6 369.7 1110.4 363.8 1103.3 357.7 1096.2 351.3 1089.1 344.8 1081.9 338 1074.8 331 1067.7 323.8 1060.6 316.4 1053.4 308.8 1046.3 301 1039.2 293 1032.1 284.8 1024.9 276.4 1017.8 267.8 1010.7 259 1003.6 250.1 996.4 240.9 989.3 231.6 982.2 222.1 975.1 212.3 967.9 202.4 960.8 192.3 953.7 181.9 946.6 171.4 939.4 160.6 932.3 149.6 925.2 138.3 918.1 126.8 910.9 115 903.8 103 896.7 90.6M1255.7 425.6 1248.6 422.3 1241.5 419 1234.4 415.6 1227.2 412.1 1220.1 408.5 1213 404.7 1205.9 400.9 1198.7 396.9 1191.6 392.8 1184.5 388.5 1177.4 384.1 1170.2 379.5 1163.1 374.7 1156 369.8 1148.9 364.7 1141.7 359.3 1134.6 353.8 1127.5 348.2 1120.4 342.3 1113.2 336.2 1106.1 330 1099 323.5 1091.9 316.9 1084.7 310.1 1077.6 303.1 1070.5 295.8 1063.4 288.4 1056.2 280.9 1049.1 273.1 1042 265.1 1034.9 256.9 1027.7 248.5 1020.6 240 1013.5 231.2 1006.4 222.2 999.2 213 992.1 203.6 985 194 977.9 184.1 970.7 174 963.6 163.6 956.5 153 949.4 142.1 942.2 130.9 935.1 119.4 928 107.6 920.9 95.4 913.7 82.9M1272.8 418.8 1265.6 414.1 1258.5 409.5 1251.4 405 1244.3 400.5 1237.1 396 1230 391.5 1222.9 387 1215.8 382.5 1208.6 377.9 1201.5 373.2 1194.4 368.5 1187.3 363.7 1180.1 358.7 1173 353.7 1165.9 348.5 1158.8 343.3 1151.6 337.9 1144.5 332.3 1137.4 326.6 1130.3 320.8 1123.1 314.8 1116 308.6 1108.9 302.3 1101.8 295.8 1094.6 289.2 1087.5 282.4 1080.4 275.3 1073.3 268.2 1066.1 260.8 1059 253.2 1051.9 245.4 1044.8 237.4 1037.6 229.2 1030.5 220.8 1023.4 212.2 1016.3 203.3 1009.1 194.2 1002 184.9 994.9 175.3 987.8 165.4 980.6 155.2 973.5 144.7 966.4 133.9 959.3 122.8 952.1 111.3 945 99.5 937.9 87.2 930.8 74.6M1289.8 414.3 1282.7 408.1 1275.6 402 1268.4 396.2 1261.3 390.5 1254.2 385 1247.1 379.6 1239.9 374.2 1232.8 369 1225.7 363.7 1218.6 358.6 1211.4 353.4 1204.3 348.2 1197.2 343 1190.1 337.8 1182.9 332.5 1175.8 327.2 1168.7 321.8 1161.6 316.3 1154.4 310.7 1147.3 305.1 1140.2 299.3 1133.1 293.4 1125.9 287.3 1118.8 281.2 1111.7 274.8 1104.6 268.3 1097.4 261.7 1090.3 254.9 1083.2 247.9 1076.1 240.7 1068.9 233.3 1061.8 225.7 1054.7 217.9 1047.6 209.8 1040.4 201.5 1033.3 193 1026.2 184.2 1019.1 175.1 1011.9 165.8 1004.8 156.1 997.7 146.1 990.6 135.8 983.4 125.1 976.3 114 969.2 102.5 962.1 90.7 954.9 78.3 947.8 65.5M1306.9 412.6 1299.7 404.5 1292.6 396.8 1285.5 389.5 1278.4 382.4 1271.2 375.6 1264.1 369 1257 362.7 1249.9 356.6 1242.7 350.6 1235.6 344.7 1228.5 339 1221.4 333.3 1214.2 327.8 1207.1 322.2 1200 316.7 1192.9 311.3 1185.7 305.8 1178.6 300.3 1171.5 294.7 1164.4 289.2 1157.2 283.5 1150.1 277.8 1143 272 1135.9 266 1128.7 260 1121.6 253.8 1114.5 247.5 1107.4 241 1100.2 234.4 1093.1 227.5 1086 220.5 1078.9 213.3 1071.7 205.8 1064.6 198.1 1057.5 190.2 1050.4 181.9 1043.2 173.4 1036.1 164.6 1029 155.5 1021.9 146 1014.7 136.2 1007.6 126 1000.5 115.4 993.4 104.4 986.2 93 979.1 81 972 68.6 964.9 55.7M1323.9 414 1316.8 403.8 1309.6 394.2 1302.5 385 1295.4 376.4 1288.3 368.1 1281.1 360.2 1274 352.7 1266.9 345.5 1259.8 338.6 1252.6 331.9 1245.5 325.4 1238.4 319.2 1231.3 313.1 1224.1 307.1 1217 301.3 1209.9 295.6 1202.8 289.9 1195.6 284.3 1188.5 278.7 1181.4 273.1 1174.3 267.5 1167.1 261.9 1160 256.3 1152.9 250.5 1145.8 244.7 1138.6 238.8 1131.5 232.8 1124.4 226.6 1117.3 220.3 1110.1 213.8 1103 207.1 1095.9 200.2 1088.8 193.1 1081.6 185.7 1074.5 178.1 1067.4 170.1 1060.3 161.9 1053.1 153.4 1046 144.5 1038.9 135.2 1031.8 125.6 1024.6 115.5 1017.5 105 1010.4 94 1003.3 82.5 996.1 70.5 989 58 981.9 44.8M1340.9 418.8 1333.8 406.2 1326.7 394.4 1319.6 383.3 1312.4 372.7 1305.3 362.8 1298.2 353.4 1291.1 344.5 1283.9 336 1276.8 327.9 1269.7 320.3 1262.6 312.9 1255.4 305.9 1248.3 299.2 1241.2 292.7 1234.1 286.4 1226.9 280.2 1219.8 274.3 1212.7 268.5 1205.6 262.7 1198.4 257.1 1191.3 251.5 1184.2 245.9 1177.1 240.3 1169.9 234.7 1162.8 229.1 1155.7 223.4 1148.6 217.6 1141.4 211.7 1134.3 205.6 1127.2 199.4 1120.1 193 1112.9 186.4 1105.8 179.6 1098.7 172.5 1091.6 165.2 1084.4 157.6 1077.3 149.6 1070.2 141.3 1063.1 132.6 1055.9 123.5 1048.8 114 1041.7 104.1 1034.6 93.6 1027.4 82.7 1020.3 71.1 1013.2 59.1 1006.1 46.4 998.9 33M1358 427.3 1350.9 412.1 1343.7 397.9 1336.6 384.5 1329.5 371.8 1322.4 360 1315.2 348.8 1308.1 338.3 1301 328.3 1293.9 319 1286.7 310.1 1279.6 301.7 1272.5 293.8 1265.4 286.2 1258.2 279 1251.1 272.1 1244 265.5 1236.9 259.1 1229.7 252.9 1222.6 247 1215.5 241.1 1208.4 235.4 1201.2 229.8 1194.1 224.2 1187 218.7 1179.9 213.2 1172.7 207.6 1165.6 202 1158.5 196.2 1151.4 190.4 1144.2 184.5 1137.1 178.3 1130 172 1122.9 165.4 1115.7 158.6 1108.6 151.6 1101.5 144.2 1094.4 136.4 1087.2 128.3 1080.1 119.8 1073 110.9 1065.9 101.5 1058.7 91.7 1051.6 81.3 1044.5 70.3 1037.4 58.7 1030.2 46.6 1023.1 33.7 1016 20.1M785.6 879.4 795.6 869.9 812.6 853.7 829.7 837.5 846.7 821.2 863.8 804.7 880.8 788 897.8 771.2 914.9 754.1 931.9 736.7 949 719.1 966 701.3 983.1 683.2 1000.1 665 1017.1 646.6 1034.2 628.1 1051.2 609.5 1068.3 591 1085.3 572.7 1102.3 554.5 1119.4 536.7 1136.4 519.3 1153.5 502.6 1170.5 486.7 1187.6 471.7 1204.6 457.9 1221.6 445.4 1238.7 434.6 1255.7 425.6 1272.8 418.8 1289.8 414.3 1306.9 412.6 1323.9 414 1340.9 418.8 1358 427.3M767.6 875.1 771.4 871.7 788.5 856.8 805.5 841.8 822.5 826.7 839.6 811.4 856.6 796 873.7 780.3 890.7 764.5 907.8 748.3 924.8 731.9 941.8 715.1 958.9 698.1 975.9 680.8 993 663.3 1010 645.5 1027.1 627.6 1044.1 609.6 1061.1 591.5 1078.2 573.4 1095.2 555.5 1112.3 537.7 1129.3 520.4 1146.3 503.5 1163.4 487.3 1180.4 471.9 1197.5 457.5 1214.5 444.3 1231.6 432.5 1248.6 422.3 1265.6 414.1 1282.7 408.1 1299.7 404.5 1316.8 403.8 1333.8 406.2 1350.9 412.1M747.4 871 764.3 857.3 781.3 843.4 798.4 829.5 815.4 815.4 832.5 801.2 849.5 786.8 866.6 772.1 883.6 757.1 900.6 741.9 917.7 726.3 934.7 710.4 951.8 694.2 968.8 677.6 985.8 660.8 1002.9 643.7 1019.9 626.3 1037 608.8 1054 591.1 1071.1 573.4 1088.1 555.7 1105.1 538.1 1122.2 520.8 1139.2 503.8 1156.3 487.4 1173.3 471.6 1190.4 456.7 1207.4 442.8 1224.4 430.1 1241.5 419 1258.5 409.5 1275.6 402 1292.6 396.8 1309.6 394.2 1326.7 394.4 1343.7 397.9M724.7 867.3 740.1 855.7 757.2 842.8 774.2 829.9 791.3 817 808.3 803.9 825.3 790.6 842.4 777.1 859.4 763.3 876.5 749.2 893.5 734.8 910.6 720.1 927.6 705 944.6 689.5 961.7 673.7 978.7 657.5 995.8 641 1012.8 624.2 1029.8 607.2 1046.9 589.9 1063.9 572.6 1081 555.1 1098 537.7 1115.1 520.5 1132.1 503.5 1149.1 486.9 1166.2 470.9 1183.2 455.5 1200.3 441 1217.3 427.7 1234.4 415.6 1251.4 405 1268.4 396.2 1285.5 389.5 1302.5 385 1319.6 383.3 1336.6 384.5M699 864 716 852 733 840.1 750 828.2 767.1 816.3 784.1 804.2 801.2 792 818.2 779.6 835.3 767 852.3 754 869.3 740.8 886.4 727.2 903.4 713.2 920.5 698.9 937.5 684.1 954.6 669 971.6 653.5 988.6 637.6 1005.7 621.3 1022.7 604.8 1039.8 588 1056.8 571 1073.8 553.9 1090.9 536.7 1107.9 519.6 1125 502.6 1142 485.9 1159.1 469.6 1176.1 453.9 1193.1 439 1210.2 425 1227.2 412.1 1244.3 400.5 1261.3 390.5 1278.4 382.4 1295.4 376.4 1312.4 372.7 1329.5 371.8M670.1 861 674.8 857.9 691.8 846.7 708.8 835.6 725.9 824.6 742.9 813.5 760 802.4 777 791.2 794 779.8 811.1 768.2 828.1 756.4 845.2 744.3 862.2 731.8 879.3 719 896.3 705.7 913.3 692.1 930.4 678.1 947.4 663.6 964.5 648.7 981.5 633.4 998.6 617.7 1015.6 601.7 1032.6 585.3 1049.7 568.7 1066.7 551.9 1083.8 535 1100.8 518 1117.8 501.1 1134.9 484.4 1151.9 468 1169 452 1186 436.7 1203.1 422.1 1220.1 408.5 1237.1 396 1254.2 385 1271.2 375.6 1288.3 368.1 1305.3 362.8 1322.4 360M637.8 858.5 650.6 850.4 667.6 839.9 684.7 829.6 701.7 819.3 718.8 809 735.8 798.8 752.8 788.5 769.9 778 786.9 767.4 804 756.6 821 745.5 838.1 734.1 855.1 722.3 872.1 710.2 889.2 697.7 906.2 684.7 923.3 671.3 940.3 657.5 957.3 643.2 974.4 628.5 991.4 613.4 1008.5 597.9 1025.5 582 1042.6 565.8 1059.6 549.3 1076.6 532.7 1093.7 515.9 1110.7 499.1 1127.8 482.4 1144.8 465.9 1161.9 449.7 1178.9 434 1195.9 419 1213 404.7 1230 391.5 1247.1 379.6 1264.1 369 1281.1 360.2 1298.2 353.4 1315.2 348.8M602.3 856.3 609.4 852 626.4 841.9 643.5 831.9 660.5 822.2 677.5 812.6 694.6 803.1 711.6 793.6 728.7 784 745.7 774.4 762.8 764.7 779.8 754.7 796.8 744.6 813.9 734.2 830.9 723.5 848 712.4 865 700.9 882.1 689.1 899.1 676.8 916.1 664 933.2 650.8 950.2 637.1 967.3 623 984.3 608.4 1001.3 593.4 1018.4 577.9 1035.4 562.2 1052.5 546 1069.5 529.7 1086.6 513.1 1103.6 496.5 1120.6 479.9 1137.7 463.3 1154.7 447 1171.8 431.1 1188.8 415.6 1205.9 400.9 1222.9 387 1239.9 374.2 1257 362.7 1274 352.7 1291.1 344.5 1308.1 338.3M563.6 854.6 568.2 851.8 585.2 842 602.3 832.3 619.3 823 636.3 813.8 653.4 804.7 670.4 795.8 687.5 787 704.5 778.1 721.5 769.2 738.6 760.2 755.6 751.1 772.7 741.9 789.7 732.3 806.8 722.6 823.8 712.5 840.8 702 857.9 691.2 874.9 679.9 892 668.3 909 656.1 926.1 643.5 943.1 630.4 960.1 616.8 977.2 602.7 994.2 588.2 1011.3 573.2 1028.3 557.9 1045.3 542.2 1062.4 526.1 1079.4 509.8 1096.5 493.4 1113.5 476.8 1130.6 460.3 1147.6 443.9 1164.6 427.8 1181.7 412.1 1198.7 396.9 1215.8 382.5 1232.8 369 1249.9 356.6 1266.9 345.5 1283.9 336 1301 328.3M521.9 853.2 527 850.2 544 840.6 561 831.2 578.1 822.1 595.1 813.2 612.2 804.5 629.2 795.9 646.3 787.5 663.3 779.2 680.3 771 697.4 762.7 714.4 754.4 731.5 746 748.5 737.5 765.5 728.8 782.6 719.8 799.6 710.6 816.7 701.1 833.7 691.2 850.8 681 867.8 670.3 884.8 659.2 901.9 647.7 918.9 635.6 936 623 953 610 970.1 596.5 987.1 582.4 1004.1 567.9 1021.2 553 1038.2 537.7 1055.3 522 1072.3 506 1089.3 489.7 1106.4 473.4 1123.4 456.9 1140.5 440.5 1157.5 424.3 1174.6 408.3 1191.6 392.8 1208.6 377.9 1225.7 363.7 1242.7 350.6 1259.8 338.6 1276.8 327.9 1293.9 319M476.3 852.3 485.7 847 502.8 837.7 519.8 828.6 536.9 819.7 553.9 811.1 571 802.7 588 794.4 605 786.4 622.1 778.4 639.1 770.6 656.2 762.8 673.2 755.1 690.3 747.4 707.3 739.6 724.3 731.7 741.4 723.7 758.4 715.5 775.5 707.1 792.5 698.4 809.6 689.4 826.6 680.1 843.6 670.4 860.7 660.3 877.7 649.7 894.8 638.7 911.8 627.2 928.8 615.1 945.9 602.6 962.9 589.6 980 576 997 562 1014.1 547.5 1031.1 532.6 1048.1 517.2 1065.2 501.6 1082.2 485.6 1099.3 469.4 1116.3 453.1 1133.4 436.7 1150.4 420.4 1167.4 404.3 1184.5 388.5 1201.5 373.2 1218.6 358.6 1235.6 344.7 1252.6 331.9 1269.7 320.3 1286.7 310.1M461.6 832.9 478.6 824.3 495.7 815.9 512.7 807.6 529.8 799.5 546.8 791.6 563.8 783.8 580.9 776.1 597.9 768.6 615 761.2 632 753.9 649 746.6 666.1 739.4 683.1 732.1 700.2 724.8 717.2 717.4 734.3 709.8 751.3 702.1 768.3 694.2 785.4 686 802.4 677.5 819.5 668.6 836.5 659.4 853.6 649.8 870.6 639.7 887.6 629.2 904.7 618.2 921.7 606.7 938.8 594.7 955.8 582.2 972.8 569.1 989.9 555.5 1006.9 541.5 1024 526.9 1041 512 1058.1 496.6 1075.1 481 1092.1 465 1109.2 448.8 1126.2 432.6 1143.3 416.3 1160.3 400.1 1177.4 384.1 1194.4 368.5 1211.4 353.4 1228.5 339 1245.5 325.4 1262.6 312.9 1279.6 301.7M454.5 810 471.5 802.4 488.5 794.8 505.6 787.3 522.6 779.9 539.7 772.5 556.7 765.3 573.8 758.2 590.8 751.2 607.8 744.3 624.9 737.4 641.9 730.6 659 723.8 676 716.9 693 710 710.1 703 727.1 695.9 744.2 688.6 761.2 681 778.3 673.3 795.3 665.2 812.3 656.8 829.4 648.1 846.4 638.9 863.5 629.4 880.5 619.3 897.6 608.8 914.6 597.8 931.6 586.2 948.7 574.2 965.7 561.6 982.8 548.5 999.8 534.9 1016.8 520.8 1033.9 506.2 1050.9 491.2 1068 475.8 1085 460.1 1102.1 444.2 1119.1 428 1136.1 411.8 1153.2 395.6 1170.2 379.5 1187.3 363.7 1204.3 348.2 1221.4 333.3 1238.4 319.2 1255.4 305.9 1272.5 293.8M447.3 787.8 464.4 781.1 481.4 774.3 498.5 767.5 515.5 760.7 532.5 754 549.6 747.3 566.6 740.7 583.7 734.2 600.7 727.7 617.8 721.2 634.8 714.7 651.8 708.3 668.9 701.8 685.9 695.3 703 688.6 720 681.8 737 674.9 754.1 667.8 771.1 660.4 788.2 652.7 805.2 644.8 822.3 636.4 839.3 627.7 856.3 618.6 873.4 609 890.4 598.9 907.5 588.4 924.5 577.3 941.6 565.7 958.6 553.6 975.6 541 992.7 527.8 1009.7 514.1 1026.8 500 1043.8 485.3 1060.8 470.3 1077.9 454.9 1094.9 439.2 1112 423.2 1129 407.1 1146.1 390.9 1163.1 374.7 1180.1 358.7 1197.2 343 1214.2 327.8 1231.3 313.1 1248.3 299.2 1265.4 286.2M440.2 766.3 457.2 760.4 474.3 754.3 491.3 748.2 508.4 742.1 525.4 735.9 542.5 729.7 559.5 723.6 576.5 717.4 593.6 711.3 610.6 705.2 627.7 699.1 644.7 693 661.8 686.8 678.8 680.6 695.8 674.2 712.9 667.8 729.9 661.2 747 654.4 764 647.3 781.1 640 798.1 632.4 815.1 624.5 832.2 616.2 849.2 607.4 866.3 598.3 883.3 588.7 900.3 578.6 917.4 567.9 934.4 556.8 951.5 545.1 968.5 533 985.6 520.2 1002.6 507 1019.6 493.2 1036.7 479 1053.7 464.3 1070.8 449.2 1087.8 433.7 1104.9 418 1121.9 402 1138.9 385.9 1156 369.8 1173 353.7 1190.1 337.8 1207.1 322.2 1224.1 307.1 1241.2 292.7 1258.2 279M433.1 745.2 450.1 740.2 467.2 734.9 484.2 729.4 501.3 723.8 518.3 718.2 535.3 712.5 552.4 706.7 569.4 701 586.5 695.2 603.5 689.4 620.5 683.6 637.6 677.8 654.6 671.9 671.7 665.9 688.7 659.9 705.8 653.7 722.8 647.4 739.8 640.8 756.9 634.1 773.9 627.1 791 619.9 808 612.3 825.1 604.3 842.1 596 859.1 587.2 876.2 578 893.2 568.3 910.3 558.1 927.3 547.5 944.3 536.2 961.4 524.5 978.4 512.2 995.5 499.4 1012.5 486 1029.6 472.2 1046.6 457.9 1063.6 443.1 1080.7 428 1097.7 412.5 1114.8 396.7 1131.8 380.7 1148.9 364.7 1165.9 348.5 1182.9 332.5 1200 316.7 1217 301.3 1234.1 286.4 1251.1 272.1M426 724.6 443 720.4 460 715.8 477.1 711 494.1 706 511.2 700.8 528.2 695.6 545.3 690.2 562.3 684.8 579.3 679.3 596.4 673.8 613.4 668.3 630.5 662.7 647.5 657 664.5 651.3 681.6 645.5 698.6 639.6 715.7 633.5 732.7 627.2 749.8 620.8 766.8 614.1 783.8 607.1 800.9 599.8 817.9 592.2 835 584.2 852 575.8 869.1 567 886.1 557.7 903.1 547.9 920.2 537.7 937.2 526.9 954.3 515.6 971.3 503.7 988.3 491.4 1005.4 478.4 1022.4 465 1039.5 451.1 1056.5 436.7 1073.6 421.9 1090.6 406.7 1107.6 391.1 1124.7 375.3 1141.7 359.3 1158.8 343.3 1175.8 327.2 1192.9 311.3 1209.9 295.6 1226.9 280.2 1244 265.5M418.8 704.4 435.9 701 452.9 697.2 470 693 487 688.5 504 683.8 521.1 679 538.1 674 555.2 668.9 572.2 663.7 589.3 658.5 606.3 653.1 623.3 647.8 640.4 642.3 657.4 636.8 674.5 631.2 691.5 625.4 708.5 619.6 725.6 613.5 742.6 607.3 759.7 600.8 776.7 594.1 793.8 587.1 810.8 579.8 827.8 572.2 844.9 564.1 861.9 555.7 879 546.8 896 537.4 913.1 527.5 930.1 517.2 947.1 506.3 964.2 494.9 981.2 482.9 998.3 470.4 1015.3 457.4 1032.3 443.9 1049.4 429.9 1066.4 415.4 1083.5 400.5 1100.5 385.2 1117.6 369.7 1134.6 353.8 1151.6 337.9 1168.7 321.8 1185.7 305.8 1202.8 289.9 1219.8 274.3 1236.9 259.1M411.7 684.5 428.7 681.9 445.8 678.8 462.8 675.2 479.9 671.3 496.9 667.1 514 662.6 531 658 548 653.2 565.1 648.3 582.1 643.2 599.2 638.1 616.2 632.9 633.3 627.7 650.3 622.3 667.3 616.9 684.4 611.3 701.4 605.6 718.5 599.8 735.5 593.7 752.6 587.5 769.6 581 786.6 574.3 803.7 567.3 820.7 559.9 837.8 552.2 854.8 544 871.8 535.5 888.9 526.5 905.9 517.1 923 507.1 940 496.6 957.1 485.6 974.1 474.1 991.1 462.1 1008.2 449.5 1025.2 436.4 1042.3 422.7 1059.3 408.6 1076.4 394.1 1093.4 379.1 1110.4 363.8 1127.5 348.2 1144.5 332.3 1161.6 316.3 1178.6 300.3 1195.6 284.3 1212.7 268.5 1229.7 252.9M404.6 664.8 421.6 663 438.7 660.6 455.7 657.7 472.8 654.3 489.8 650.6 506.8 646.5 523.9 642.2 540.9 637.7 558 633 575 628.2 592 623.3 609.1 618.3 626.1 613.1 643.2 607.9 660.2 602.6 677.3 597.2 694.3 591.6 711.3 586 728.4 580.1 745.4 574.1 762.5 567.8 779.5 561.3 796.6 554.5 813.6 547.4 830.6 540 847.7 532.2 864.7 524 881.8 515.3 898.8 506.3 915.8 496.7 932.9 486.6 949.9 476.1 967 465 984 453.3 1001.1 441.2 1018.1 428.5 1035.1 415.3 1052.2 401.5 1069.2 387.3 1086.3 372.7 1103.3 357.7 1120.4 342.3 1137.4 326.6 1154.4 310.7 1171.5 294.7 1188.5 278.7 1205.6 262.7 1222.6 247M397.5 645.2 414.5 644.3 431.5 642.7 448.6 640.4 465.6 637.5 482.7 634.2 499.7 630.6 516.8 626.6 533.8 622.4 550.8 617.9 567.9 613.3 584.9 608.6 602 603.7 619 598.7 636 593.6 653.1 588.4 670.1 583.1 687.2 577.7 704.2 572.1 721.3 566.4 738.3 560.5 755.3 554.4 772.4 548.1 789.4 541.6 806.5 534.7 823.5 527.6 840.6 520.1 857.6 512.2 874.6 503.9 891.7 495.2 908.7 486 925.8 476.3 942.8 466.2 959.8 455.5 976.9 444.3 993.9 432.5 1011 420.3 1028 407.5 1045.1 394.1 1062.1 380.3 1079.1 366.1 1096.2 351.3 1113.2 336.2 1130.3 320.8 1147.3 305.1 1164.4 289.2 1181.4 273.1 1198.4 257.1 1215.5 241.1M390.3 625.7 407.4 625.6 424.4 624.7 441.5 623.1 458.5 620.8 475.5 618 492.6 614.8 509.6 611.1 526.7 607.2 543.7 603 560.8 598.5 577.8 593.9 594.8 589.2 611.9 584.3 628.9 579.3 646 574.2 663 569 680 563.7 697.1 558.3 714.1 552.7 731.2 546.9 748.2 541 765.3 534.9 782.3 528.5 799.3 521.9 816.4 515 833.4 507.8 850.5 500.2 867.5 492.2 884.6 483.8 901.6 475 918.6 465.7 935.7 456 952.7 445.7 969.8 434.9 986.8 423.6 1003.8 411.8 1020.9 399.4 1037.9 386.5 1055 373.1 1072 359.2 1089.1 344.8 1106.1 330 1123.1 314.8 1140.2 299.3 1157.2 283.5 1174.3 267.5 1191.3 251.5 1208.4 235.4M383.2 606.1 400.2 607 417.3 606.9 434.3 605.9 451.4 604.2 468.4 601.9 485.5 599 502.5 595.7 519.5 592.1 536.6 588.1 553.6 583.9 570.7 579.4 587.7 574.8 604.8 570 621.8 565.1 638.8 560.1 655.9 555 672.9 549.8 690 544.4 707 538.9 724.1 533.3 741.1 527.5 758.1 521.5 775.2 515.4 792.2 508.9 809.3 502.2 826.3 495.3 843.3 488 860.4 480.3 877.4 472.2 894.5 463.8 911.5 454.9 928.6 445.5 945.6 435.6 962.6 425.3 979.7 414.4 996.7 403 1013.8 391 1030.8 378.5 1047.9 365.5 1064.9 352 1081.9 338 1099 323.5 1116 308.6 1133.1 293.4 1150.1 277.8 1167.1 261.9 1184.2 245.9 1201.2 229.8M376.1 586.3 393.1 588.2 410.2 588.9 427.2 588.7 444.3 587.6 461.3 585.8 478.3 583.4 495.4 580.4 512.4 577 529.5 573.3 546.5 569.3 563.5 565 580.6 560.5 597.6 555.8 614.7 551 631.7 546.1 648.8 541 665.8 535.8 682.8 530.6 699.9 525.2 716.9 519.6 734 514 751 508.1 768.1 502.1 785.1 495.9 802.1 489.4 819.2 482.6 836.2 475.6 853.3 468.2 870.3 460.5 887.3 452.3 904.4 443.8 921.4 434.8 938.5 425.3 955.5 415.4 972.6 404.9 989.6 393.9 1006.6 382.4 1023.7 370.3 1040.7 357.8 1057.8 344.6 1074.8 331 1091.9 316.9 1108.9 302.3 1125.9 287.3 1143 272 1160 256.3 1177.1 240.3 1194.1 224.2M369 566.3 386 569.2 403 570.8 420.1 571.3 437.1 570.9 454.2 569.6 471.2 567.7 488.3 565.1 505.3 562 522.3 558.6 539.4 554.7 556.4 550.6 573.5 546.2 590.5 541.6 607.5 536.9 624.6 532 641.6 527 658.7 521.9 675.7 516.7 692.8 511.4 709.8 505.9 726.8 500.4 743.9 494.6 760.9 488.8 778 482.7 795 476.4 812.1 469.9 829.1 463 846.1 455.9 863.2 448.5 880.2 440.7 897.3 432.5 914.3 423.8 931.3 414.8 948.4 405.2 965.4 395.2 982.5 384.6 999.5 373.5 1016.6 361.9 1033.6 349.7 1050.6 337 1067.7 323.8 1084.7 310.1 1101.8 295.8 1118.8 281.2 1135.9 266 1152.9 250.5 1169.9 234.7 1187 218.7M361.8 545.9 378.9 549.9 395.9 552.4 413 553.8 430 554 447 553.4 464.1 551.9 481.1 549.8 498.2 547 515.2 543.8 532.3 540.2 549.3 536.2 566.3 532 583.4 527.5 600.4 522.9 617.5 518.1 634.5 513.1 651.5 508.1 668.6 502.9 685.6 497.6 702.7 492.2 719.7 486.8 736.8 481.1 753.8 475.4 770.8 469.4 787.9 463.3 804.9 457 822 450.4 839 443.5 856.1 436.4 873.1 428.9 890.1 421 907.2 412.7 924.2 404 941.3 394.9 958.3 385.2 975.3 375.1 992.4 364.4 1009.4 353.2 1026.5 341.5 1043.5 329.2 1060.6 316.4 1077.6 303.1 1094.6 289.2 1111.7 274.8 1128.7 260 1145.8 244.7 1162.8 229.1 1179.9 213.2M354.7 525.1 371.7 530.2 388.8 533.8 405.8 536 422.9 537 439.9 537 457 536 474 534.3 491 532 508.1 529 525.1 525.7 542.2 521.9 559.2 517.8 576.3 513.4 593.3 508.9 610.3 504.1 627.4 499.2 644.4 494.2 661.5 489.1 678.5 483.9 695.6 478.6 712.6 473.1 729.6 467.6 746.7 462 763.7 456.2 780.8 450.2 797.8 444 814.8 437.7 831.9 431 848.9 424.1 866 416.9 883 409.3 900.1 401.4 917.1 393.1 934.1 384.3 951.2 375.1 968.2 365.3 985.3 355.1 1002.3 344.3 1019.4 333 1036.4 321.2 1053.4 308.8 1070.5 295.8 1087.5 282.4 1104.6 268.3 1121.6 253.8 1138.6 238.8 1155.7 223.4 1172.7 207.6M347.6 503.7 364.6 510 381.7 514.7 398.7 517.8 415.8 519.7 432.8 520.3 449.8 520 466.9 518.7 483.9 516.8 501 514.2 518 511.1 535 507.5 552.1 503.6 569.1 499.3 586.2 494.9 603.2 490.2 620.3 485.4 637.3 480.4 654.3 475.3 671.4 470.2 688.4 464.9 705.5 459.5 722.5 454.1 739.6 448.5 756.6 442.8 773.6 437 790.7 431 807.7 424.8 824.8 418.4 841.8 411.8 858.8 404.8 875.9 397.6 892.9 390 910 382 927 373.6 944.1 364.7 961.1 355.4 978.1 345.6 995.2 335.3 1012.2 324.4 1029.3 313 1046.3 301 1063.4 288.4 1080.4 275.3 1097.4 261.7 1114.5 247.5 1131.5 232.8 1148.6 217.6 1165.6 202M340.5 481.6 357.5 489.3 374.5 495.1 391.6 499.3 408.6 502 425.7 503.4 442.7 503.7 459.8 503 476.8 501.5 493.8 499.2 510.9 496.4 527.9 493.1 545 489.3 562 485.2 579 480.9 596.1 476.3 613.1 471.5 630.2 466.6 647.2 461.6 664.3 456.5 681.3 451.3 698.3 446 715.4 440.6 732.4 435.1 749.5 429.5 766.5 423.8 783.6 418 800.6 412 817.6 405.8 834.7 399.3 851.7 392.6 868.8 385.7 885.8 378.4 902.8 370.7 919.9 362.7 936.9 354.2 954 345.3 971 335.9 988.1 326 1005.1 315.5 1022.1 304.5 1039.2 293 1056.2 280.9 1073.3 268.2 1090.3 254.9 1107.4 241 1124.4 226.6 1141.4 211.7 1158.5 196.2M333.3 458.8 350.4 467.9 367.4 474.9 384.5 480.2 401.5 483.8 418.5 486 435.6 487 452.6 486.9 469.7 485.9 486.7 484.1 503.8 481.6 520.8 478.6 537.8 475 554.9 471.1 571.9 466.9 589 462.4 606 457.7 623 452.9 640.1 447.9 657.1 442.8 674.2 437.6 691.2 432.4 708.3 427.1 725.3 421.7 742.3 416.2 759.4 410.6 776.4 404.9 793.5 399.1 810.5 393 827.6 386.8 844.6 380.4 861.6 373.7 878.7 366.7 895.7 359.3 912.8 351.6 929.8 343.5 946.8 335 963.9 326 980.9 316.5 998 306.5 1015 295.9 1032.1 284.8 1049.1 273.1 1066.1 260.8 1083.2 247.9 1100.2 234.4 1117.3 220.3 1134.3 205.6 1151.4 190.4M326.2 435 343.2 445.6 360.3 454.1 377.3 460.5 394.4 465.2 411.4 468.3 428.5 470 445.5 470.6 462.5 470.1 479.6 468.8 496.6 466.7 513.7 463.9 530.7 460.7 547.8 456.9 564.8 452.9 581.8 448.5 598.9 443.9 615.9 439.1 633 434.2 650 429.2 667.1 424.1 684.1 418.9 701.1 413.6 718.2 408.3 735.2 402.9 752.3 397.4 769.3 391.8 786.3 386.1 803.4 380.3 820.4 374.3 837.5 368.1 854.5 361.6 871.6 354.9 888.6 347.9 905.6 340.5 922.7 332.7 939.7 324.6 956.8 316 973.8 306.9 990.9 297.3 1007.9 287.1 1024.9 276.4 1042 265.1 1059 253.2 1076.1 240.7 1093.1 227.5 1110.1 213.8 1127.2 199.4 1144.2 184.5M319.1 410.2 336.1 422.5 353.2 432.4 370.2 440.1 387.3 445.9 404.3 450 421.3 452.6 438.4 453.9 455.4 454 472.5 453.2 489.5 451.5 506.5 449.1 523.6 446.1 540.6 442.7 557.7 438.8 574.7 434.6 591.8 430.1 608.8 425.4 625.8 420.5 642.9 415.6 659.9 410.5 677 405.4 694 400.2 711.1 394.9 728.1 389.6 745.1 384.2 762.2 378.8 779.2 373.2 796.3 367.5 813.3 361.7 830.3 355.7 847.4 349.5 864.4 343 881.5 336.3 898.5 329.2 915.6 321.8 932.6 314 949.6 305.8 966.7 297.1 983.7 287.9 1000.8 278.1 1017.8 267.8 1034.9 256.9 1051.9 245.4 1068.9 233.3 1086 220.5 1103 207.1 1120.1 193 1137.1 178.3M312 384.3 329 398.3 346 409.8 363.1 418.9 380.1 425.9 397.2 431.1 414.2 434.6 431.3 436.7 448.3 437.5 465.3 437.3 482.4 436.1 499.4 434.1 516.5 431.5 533.5 428.3 550.5 424.6 567.6 420.6 584.6 416.2 601.7 411.7 618.7 406.9 635.8 402 652.8 397 669.8 391.9 686.9 386.8 703.9 381.6 721 376.4 738 371.1 755.1 365.7 772.1 360.3 789.1 354.8 806.2 349.1 823.2 343.3 840.3 337.3 857.3 331.1 874.3 324.6 891.4 317.9 908.4 310.8 925.5 303.3 942.5 295.4 959.6 287.1 976.6 278.3 993.6 268.9 1010.7 259 1027.7 248.5 1044.8 237.4 1061.8 225.7 1078.9 213.3 1095.9 200.2 1112.9 186.4 1130 172M304.8 357.1 321.9 373 338.9 386.2 356 396.8 373 405.1 390 411.5 407.1 416 424.1 419 441.2 420.6 458.2 421 475.3 420.4 492.3 418.9 509.3 416.6 526.4 413.8 543.4 410.4 560.5 406.5 577.5 402.4 594.5 397.9 611.6 393.3 628.6 388.5 645.7 383.5 662.7 378.5 679.8 373.5 696.8 368.3 713.8 363.2 730.9 358 747.9 352.7 765 347.4 782 342 799.1 336.5 816.1 330.9 833.1 325.1 850.2 319.1 867.2 312.9 884.3 306.5 901.3 299.7 918.3 292.5 935.4 285 952.4 277 969.5 268.6 986.5 259.6 1003.6 250.1 1020.6 240 1037.6 229.2 1054.7 217.9 1071.7 205.8 1088.8 193.1 1105.8 179.6 1122.9 165.4M297.7 328.5 314.7 346.5 331.8 361.4 348.8 373.7 365.9 383.5 382.9 391.1 400 396.8 417 400.7 434 403.2 451.1 404.3 468.1 404.3 485.2 403.4 502.2 401.6 519.3 399 536.3 395.9 553.3 392.4 570.4 388.4 587.4 384.1 604.5 379.6 621.5 374.9 638.6 370.1 655.6 365.2 672.6 360.2 689.7 355.1 706.7 350 723.8 344.9 740.8 339.8 757.8 334.6 774.9 329.3 791.9 324 809 318.5 826 312.9 843.1 307.2 860.1 301.2 877.1 295 894.2 288.5 911.2 281.6 928.3 274.4 945.3 266.8 962.4 258.7 979.4 250.1 996.4 240.9 1013.5 231.2 1030.5 220.8 1047.6 209.8 1064.6 198.1 1081.6 185.7 1098.7 172.5 1115.7 158.6M290.6 298.3 307.6 318.5 324.7 335.4 341.7 349.5 358.8 360.8 375.8 369.9 392.8 376.8 409.9 381.8 426.9 385.2 444 387.2 461 387.9 478 387.5 495.1 386.2 512.1 384.1 529.2 381.4 546.2 378.1 563.3 374.4 580.3 370.3 597.3 366 614.4 361.4 631.4 356.7 648.5 351.8 665.5 346.9 682.6 342 699.6 337 716.6 331.9 733.7 326.9 750.7 321.8 767.8 316.6 784.8 311.4 801.8 306.1 818.9 300.7 835.9 295.2 853 289.4 870 283.4 887.1 277.2 904.1 270.6 921.1 263.7 938.2 256.4 955.2 248.6 972.3 240.4 989.3 231.6 1006.4 222.2 1023.4 212.2 1040.4 201.5 1057.5 190.2 1074.5 178.1 1091.6 165.2 1108.6 151.6M283.5 266.5 300.5 289 317.5 308.1 334.6 324 351.6 337.1 368.7 347.6 385.7 355.9 402.8 362.1 419.8 366.6 436.8 369.4 453.9 370.9 470.9 371.2 488 370.5 505 368.9 522 366.6 539.1 363.7 556.1 360.2 573.2 356.4 590.2 352.3 607.3 347.9 624.3 343.3 641.3 338.6 658.4 333.7 675.4 328.9 692.5 324 709.5 319 726.6 314 743.6 309.1 760.6 304 777.7 298.9 794.7 293.8 811.8 288.5 828.8 283.2 845.8 277.6 862.9 271.9 879.9 265.9 897 259.6 914 252.9 931.1 245.9 948.1 238.5 965.1 230.5 982.2 222.1 999.2 213 1016.3 203.3 1033.3 193 1050.4 181.9 1067.4 170.1 1084.4 157.6 1101.5 144.2M276.3 232.8 293.4 257.9 310.4 279.2 327.5 297.2 344.5 312.2 361.5 324.3 378.6 334.1 395.6 341.6 412.7 347.2 429.7 351.1 446.8 353.5 463.8 354.5 480.8 354.5 497.9 353.4 514.9 351.6 532 349.1 549 346 566 342.4 583.1 338.5 600.1 334.3 617.2 329.9 634.2 325.3 651.3 320.6 668.3 315.8 685.3 311 702.4 306.1 719.4 301.3 736.5 296.4 753.5 291.5 770.6 286.5 787.6 281.5 804.6 276.4 821.7 271.2 838.7 265.8 855.8 260.3 872.8 254.5 889.8 248.4 906.9 242 923.9 235.3 941 228.1 958 220.5 975.1 212.3 992.1 203.6 1009.1 194.2 1026.2 184.2 1043.2 173.4 1060.3 161.9 1077.3 149.6 1094.4 136.4M269.2 197.2 286.2 225 303.3 248.8 320.3 269 337.4 285.9 354.4 299.9 371.5 311.2 388.5 320.2 405.5 327 422.6 332 439.6 335.4 456.7 337.3 473.7 338 490.8 337.6 507.8 336.3 524.8 334.2 541.9 331.5 558.9 328.3 576 324.7 593 320.7 610.1 316.4 627.1 312 644.1 307.5 661.2 302.8 678.2 298.1 695.3 293.4 712.3 288.6 729.3 283.8 746.4 279 763.4 274.1 780.5 269.2 797.5 264.3 814.6 259.2 831.6 254 848.6 248.6 865.7 243 882.7 237.2 899.8 231.1 916.8 224.6 933.9 217.7 950.9 210.3 967.9 202.4 985 194 1002 184.9 1019.1 175.1 1036.1 164.6 1053.1 153.4 1070.2 141.3 1087.2 128.3M262.1 159.4 279.1 190.1 296.2 216.6 313.2 239.1 330.3 258.2 347.3 274.2 364.3 287.2 381.4 297.8 398.4 306 415.5 312.2 432.5 316.6 449.5 319.5 466.6 321 483.6 321.3 500.7 320.7 517.7 319.1 534.8 316.9 551.8 314 568.8 310.7 585.9 307 602.9 303 620 298.8 637 294.4 654.1 289.9 671.1 285.3 688.1 280.6 705.2 275.9 722.2 271.2 739.3 266.5 756.3 261.8 773.3 257 790.4 252.2 807.4 247.2 824.5 242.2 841.5 237 858.6 231.6 875.6 225.9 892.6 220 909.7 213.7 926.7 207 943.8 199.9 960.8 192.3 977.9 184.1 994.9 175.3 1011.9 165.8 1029 155.5 1046 144.5 1063.1 132.6 1080.1 119.8M269.7 148.6 272 153.2 289 182.5 306.1 207.6 323.1 229 340.2 247 357.2 262 374.3 274.2 391.3 284 408.3 291.5 425.4 297.2 442.4 301.1 459.5 303.5 476.5 304.6 493.5 304.7 510.6 303.7 527.6 302 544.7 299.6 561.7 296.6 578.8 293.3 595.8 289.5 612.8 285.5 629.9 281.3 646.9 276.9 664 272.5 681 268 698.1 263.4 715.1 258.8 732.1 254.2 749.2 249.5 766.2 244.8 783.3 240.1 800.3 235.3 817.3 230.4 834.4 225.3 851.4 220.1 868.5 214.6 885.5 208.8 902.6 202.7 919.6 196.3 936.6 189.4 953.7 181.9 970.7 174 987.8 165.4 1004.8 156.1 1021.9 146 1038.9 135.2 1055.9 123.5 1073 110.9M279.1 141 281.9 146.3 299 174.2 316 198.1 333 218.4 350.1 235.4 367.1 249.5 384.2 260.9 401.2 269.9 418.3 276.9 435.3 282 452.3 285.4 469.4 287.4 486.4 288.2 503.5 288 520.5 286.8 537.5 284.9 554.6 282.4 571.6 279.4 588.7 275.9 605.7 272.2 622.8 268.2 639.8 264 656.8 259.7 673.9 255.3 690.9 250.9 708 246.4 725 241.9 742.1 237.3 759.1 232.7 776.1 228.1 793.2 223.4 810.2 218.6 827.3 213.6 844.3 208.5 861.3 203.2 878.4 197.6 895.4 191.7 912.5 185.4 929.5 178.6 946.6 171.4 963.6 163.6 980.6 155.2 997.7 146.1 1014.7 136.2 1031.8 125.6 1048.8 114 1065.9 101.5M288.8 133.3 291.8 138.9 308.9 165.5 325.9 188.2 343 207.4 360 223.5 377 236.7 394.1 247.3 411.1 255.7 428.2 262.1 445.2 266.6 462.3 269.7 479.3 271.3 496.3 271.8 513.4 271.3 530.4 270 547.5 268 564.5 265.4 581.6 262.3 598.6 258.8 615.6 255.1 632.7 251.1 649.7 247 666.8 242.8 683.8 238.4 700.8 234.1 717.9 229.6 734.9 225.2 752 220.7 769 216.1 786.1 211.5 803.1 206.8 820.1 202 837.2 196.9 854.2 191.7 871.3 186.2 888.3 180.5 905.4 174.3 922.4 167.7 939.4 160.6 956.5 153 973.5 144.7 990.6 135.8 1007.6 126 1024.6 115.5 1041.7 104.1 1058.7 91.7M298.7 125.6 301.8 130.9 318.8 156.2 335.8 177.8 352.9 196.1 369.9 211.2 387 223.6 404 233.5 421 241.3 438.1 247.1 455.1 251.2 472.2 253.9 489.2 255.2 506.3 255.5 523.3 254.8 540.3 253.3 557.4 251.2 574.4 248.5 591.5 245.4 608.5 241.9 625.6 238.2 642.6 234.3 659.6 230.2 676.7 226 693.7 221.8 710.8 217.5 727.8 213.1 744.8 208.7 761.9 204.2 778.9 199.7 796 195 813 190.3 830.1 185.3 847.1 180.2 864.1 174.8 881.2 169.1 898.2 163.1 915.3 156.6 932.3 149.6 949.4 142.1 966.4 133.9 983.4 125.1 1000.5 115.4 1017.5 105 1034.6 93.6 1051.6 81.3M308.9 117.8 311.7 122.4 328.7 146.6 345.8 167.1 362.8 184.4 379.8 198.7 396.9 210.3 413.9 219.6 431 226.8 448 232.1 465 235.8 482.1 238.1 499.1 239.2 516.2 239.3 533.2 238.4 550.3 236.8 567.3 234.6 584.3 231.9 601.4 228.7 618.4 225.3 635.5 221.6 652.5 217.7 669.6 213.7 686.6 209.5 703.6 205.3 720.7 201.1 737.7 196.7 754.8 192.3 771.8 187.8 788.8 183.3 805.9 178.5 822.9 173.7 840 168.6 857 163.3 874.1 157.7 891.1 151.7 908.1 145.3 925.2 138.3 942.2 130.9 959.3 122.8 976.3 114 993.4 104.4 1010.4 94 1027.4 82.7 1044.5 70.3M319.4 110.1 321.6 113.5 338.6 136.6 355.7 156.1 372.7 172.5 389.8 186 406.8 196.9 423.8 205.6 440.9 212.3 457.9 217.2 475 220.5 492 222.5 509 223.3 526.1 223.2 543.1 222.2 560.2 220.5 577.2 218.2 594.3 215.4 611.3 212.3 628.3 208.9 645.4 205.2 662.4 201.3 679.5 197.3 696.5 193.2 713.6 189.1 730.6 184.8 747.6 180.5 764.7 176 781.7 171.5 798.8 166.8 815.8 162 832.8 156.9 849.9 151.6 866.9 146.1 884 140.1 901 133.7 918.1 126.8 935.1 119.4 952.1 111.3 969.2 102.5 986.2 93 1003.3 82.5 1020.3 71.1 1037.4 58.7M330.2 102.2 331.5 104.3 348.5 126.3 365.6 144.8 382.6 160.4 399.7 173.1 416.7 183.4 433.8 191.5 450.8 197.7 467.8 202.2 484.9 205.2 501.9 206.9 519 207.6 536 207.2 553.1 206.1 570.1 204.3 587.1 202 604.2 199.2 621.2 196.1 638.3 192.6 655.3 189 672.3 185.2 689.4 181.2 706.4 177.1 723.5 172.9 740.5 168.6 757.6 164.2 774.6 159.7 791.6 155.1 808.7 150.2 825.7 145.2 842.8 139.9 859.8 134.3 876.9 128.3 893.9 121.9 910.9 115 928 107.6 945 99.5 962.1 90.7 979.1 81 996.1 70.5 1013.2 59.1 1030.2 46.6M341.2 94.4 341.4 94.7 358.5 115.7 375.5 133.4 392.5 148.1 409.6 160.2 426.6 169.9 443.7 177.5 460.7 183.3 477.8 187.4 494.8 190.1 511.8 191.6 528.9 192 545.9 191.5 563 190.3 580 188.4 597.1 186 614.1 183.2 631.1 180.1 648.2 176.6 665.2 173 682.3 169.1 699.3 165.2 716.3 161 733.4 156.8 750.4 152.4 767.5 147.9 784.5 143.3 801.6 138.4 818.6 133.4 835.6 128 852.7 122.4 869.7 116.4 886.8 109.9 903.8 103 920.9 95.4 937.9 87.2 954.9 78.3 972 68.6 989 58 1006.1 46.4 1023.1 33.7M352.6 86.5 368.4 105 385.4 121.8 402.5 135.8 419.5 147.3 436.5 156.4 453.6 163.5 470.6 168.9 487.7 172.7 504.7 175.1 521.8 176.4 538.8 176.6 555.8 176 572.9 174.7 589.9 172.7 607 170.3 624 167.4 641.1 164.2 658.1 160.8 675.1 157.1 692.2 153.2 709.2 149.2 726.3 145 743.3 140.6 760.3 136.1 777.4 131.4 794.4 126.5 811.5 121.4 828.5 116 845.6 110.3 862.6 104.2 879.6 97.6 896.7 90.6 913.7 82.9 930.8 74.6 947.8 65.5 964.9 55.7 981.9 44.8 998.9 33 1016 20.1"/></defs>
<g fill="none" stroke-width="1.6" stroke-linejoin="round"><use href="#m" stroke="#c7c7c7" stroke-opacity="0.88" style="mix-blend-mode:luminosity"/><use href="#m" stroke="#dcdc28" stroke-opacity="0.2"/></g>
<path fill="#2c4a9d" d="M715 146.4h7v7h-7zM739.3 146.8h7v7h-7zM763.8 146.8h7v7h-7zM789.9 147.3h7v7h-7zM815.9 147.8h7v7h-7zM843.6 148.9h7v7h-7zM870.9 150.5h7v7h-7zM899.4 152.9h7v7h-7zM927.8 155.6h7v7h-7zM956 160.8h7v7h-7zM985 166.5h7v7h-7zM1013.9 173h7v7h-7zM1040.7 182.6h7v7h-7zM1067.9 195h7v7h-7zM1092.3 208.8h7v7h-7zM1115.8 225h7v7h-7zM1137.8 242.1h7v7h-7zM1160.6 259h7v7h-7zM612 343.8h7v7h-7zM633 342.9h7v7h-7zM655 342.9h7v7h-7zM677.9 342.9h7v7h-7zM701.5 342.9h7v7h-7zM726 342.9h7v7h-7zM750.8 343.4h7v7h-7zM776.7 344.1h7v7h-7zM802.9 345h7v7h-7zM829.9 346.9h7v7h-7zM856.9 348.8h7v7h-7zM884.9 351.4h7v7h-7zM911.9 355.8h7v7h-7zM938.8 360.9h7v7h-7zM965.3 368h7v7h-7zM991.3 375.9h7v7h-7zM1016.2 385.2h7v7h-7zM1040 397.9h7v7h-7zM1062 410.4h7v7h-7zM1082.2 424h7v7h-7zM543.4 526.1h7v7h-7zM563.9 524.9h7v7h-7zM585.4 524h7v7h-7zM608 523.5h7v7h-7zM630.2 523h7v7h-7zM654.2 523h7v7h-7zM677.6 523h7v7h-7zM702 523h7v7h-7zM726.5 524h7v7h-7zM752.3 524.9h7v7h-7zM779 526.1h7v7h-7zM806 528.1h7v7h-7zM832.4 530h7v7h-7zM858.8 534h7v7h-7zM884.9 538.4h7v7h-7zM933.3 552.7h7v7h-7zM955 562h7v7h-7zM975 573h7v7h-7zM994 584.8h7v7h-7zM456 701.8h7v7h-7zM475 701.8h7v7h-7zM495 701h7v7h-7zM515 699.9h7v7h-7zM535.7 699.9h7v7h-7zM558 699.9h7v7h-7zM580.9 699.4h7v7h-7zM604 699.4h7v7h-7zM627.1 699.9h7v7h-7zM651.9 699.9h7v7h-7zM677.9 700.5h7v7h-7zM703.9 701h7v7h-7zM729.9 702.6h7v7h-7zM755.9 704.3h7v7h-7zM781.9 707.2h7v7h-7zM806.7 711.3h7v7h-7zM829.9 716.8h7v7h-7zM851.9 723.5h7v7h-7zM871.9 730.8h7v7h-7zM890.9 739.7h7v7h-7z"/>
<path fill="#151a3a" d="M717.2 148.6h2.6v2.6h-2.6zM741.5 149h2.6v2.6h-2.6zM766 149h2.6v2.6h-2.6zM792.1 149.5h2.6v2.6h-2.6zM818.1 150h2.6v2.6h-2.6zM845.8 151.1h2.6v2.6h-2.6zM873.1 152.7h2.6v2.6h-2.6zM901.6 155.1h2.6v2.6h-2.6zM930 157.8h2.6v2.6h-2.6zM958.2 163h2.6v2.6h-2.6zM987.2 168.7h2.6v2.6h-2.6zM1016.1 175.2h2.6v2.6h-2.6zM1042.9 184.8h2.6v2.6h-2.6zM1070.1 197.2h2.6v2.6h-2.6zM1094.5 211h2.6v2.6h-2.6zM1118 227.2h2.6v2.6h-2.6zM1140 244.3h2.6v2.6h-2.6zM1162.8 261.2h2.6v2.6h-2.6zM614.2 346h2.6v2.6h-2.6zM635.2 345.1h2.6v2.6h-2.6zM657.2 345.1h2.6v2.6h-2.6zM680.1 345.1h2.6v2.6h-2.6zM703.7 345.1h2.6v2.6h-2.6zM728.2 345.1h2.6v2.6h-2.6zM753 345.6h2.6v2.6h-2.6zM778.9 346.3h2.6v2.6h-2.6zM805.1 347.2h2.6v2.6h-2.6zM832.1 349.1h2.6v2.6h-2.6zM859.1 351h2.6v2.6h-2.6zM887.1 353.6h2.6v2.6h-2.6zM914.1 358h2.6v2.6h-2.6zM941 363.1h2.6v2.6h-2.6zM967.5 370.2h2.6v2.6h-2.6zM993.5 378.1h2.6v2.6h-2.6zM1018.4 387.4h2.6v2.6h-2.6zM1042.2 400.1h2.6v2.6h-2.6zM1064.2 412.6h2.6v2.6h-2.6zM1084.4 426.2h2.6v2.6h-2.6zM545.6 528.3h2.6v2.6h-2.6zM566.1 527.1h2.6v2.6h-2.6zM587.6 526.2h2.6v2.6h-2.6zM610.2 525.7h2.6v2.6h-2.6zM632.4 525.2h2.6v2.6h-2.6zM656.4 525.2h2.6v2.6h-2.6zM679.8 525.2h2.6v2.6h-2.6zM704.2 525.2h2.6v2.6h-2.6zM728.7 526.2h2.6v2.6h-2.6zM754.5 527.1h2.6v2.6h-2.6zM781.2 528.3h2.6v2.6h-2.6zM808.2 530.3h2.6v2.6h-2.6zM834.6 532.2h2.6v2.6h-2.6zM861 536.2h2.6v2.6h-2.6zM887.1 540.6h2.6v2.6h-2.6zM935.5 554.9h2.6v2.6h-2.6zM957.2 564.2h2.6v2.6h-2.6zM977.2 575.2h2.6v2.6h-2.6zM996.2 587h2.6v2.6h-2.6zM458.2 704h2.6v2.6h-2.6zM477.2 704h2.6v2.6h-2.6zM497.2 703.2h2.6v2.6h-2.6zM517.2 702.1h2.6v2.6h-2.6zM537.9 702.1h2.6v2.6h-2.6zM560.2 702.1h2.6v2.6h-2.6zM583.1 701.6h2.6v2.6h-2.6zM606.2 701.6h2.6v2.6h-2.6zM629.3 702.1h2.6v2.6h-2.6zM654.1 702.1h2.6v2.6h-2.6zM680.1 702.7h2.6v2.6h-2.6zM706.1 703.2h2.6v2.6h-2.6zM732.1 704.8h2.6v2.6h-2.6zM758.1 706.5h2.6v2.6h-2.6zM784.1 709.4h2.6v2.6h-2.6zM808.9 713.5h2.6v2.6h-2.6zM832.1 719h2.6v2.6h-2.6zM854.1 725.7h2.6v2.6h-2.6zM874.1 733h2.6v2.6h-2.6zM893.1 741.9h2.6v2.6h-2.6z"/>
<path fill="none" stroke="#1e1e1e" stroke-width="2.3" stroke-linecap="square" d="M519 912L1385 806M519 912L177 642M519 912L507.5 902.9M692.2 890.8L680.7 881.7M865.4 869.6L853.9 860.5M1038.6 848.4L1027.1 839.3M1211.8 827.2L1200.3 818.1M1385 806L1373.5 796.9M519 912L533.6 910.2M433.5 844.5L448.1 842.7M348 777L362.6 775.2M262.5 709.5L277.1 707.7M177 642L191.6 640.2"/>
<g font-size="52"><text x="91.6" y="106.8">1.1</text><text x="93" y="212.3">1.0</text><text x="92.4" y="319.1">0.9</text><text x="91.9" y="424.6">0.8</text><text x="92.3" y="531">0.7</text><text x="92.3" y="636.8">0.6</text><text x="104.2" y="692.8">1.8</text><text x="186.8" y="762.8">1.6</text><text x="279.5" y="831.6">1.4</text><text x="364.1" y="897.6">1.2</text><text x="448.1" y="961.8">1.0</text><text x="528.8" y="962.3">100</text><text x="698.8" y="942.7">150</text><text x="872.1" y="922.1">200</text><text x="1043.8" y="898.2">250</text><text x="1216.3" y="879.7">300</text><text x="1391.7" y="859">350</text></g>
<g transform="translate(49.5,406) rotate(-90)"><text font-size="52" font-style="italic">N</text><text x="35" y="11" font-size="30.6">1C</text></g>
<g transform="translate(181,827) rotate(38.3)"><text font-size="46" font-style="italic">π</text><text x="22" y="13" font-size="30.6">Fan</text></g>
<g transform="translate(886,1004) rotate(-7)"><text font-size="52" font-style="italic">W</text><text x="42" y="10" font-size="30.6">2Rstd</text><text x="112" font-size="52">/(kg·s</text><text x="233" y="-17" font-size="30.6">−1</text><text x="266" font-size="52">)</text></g>
</svg></body></html>
